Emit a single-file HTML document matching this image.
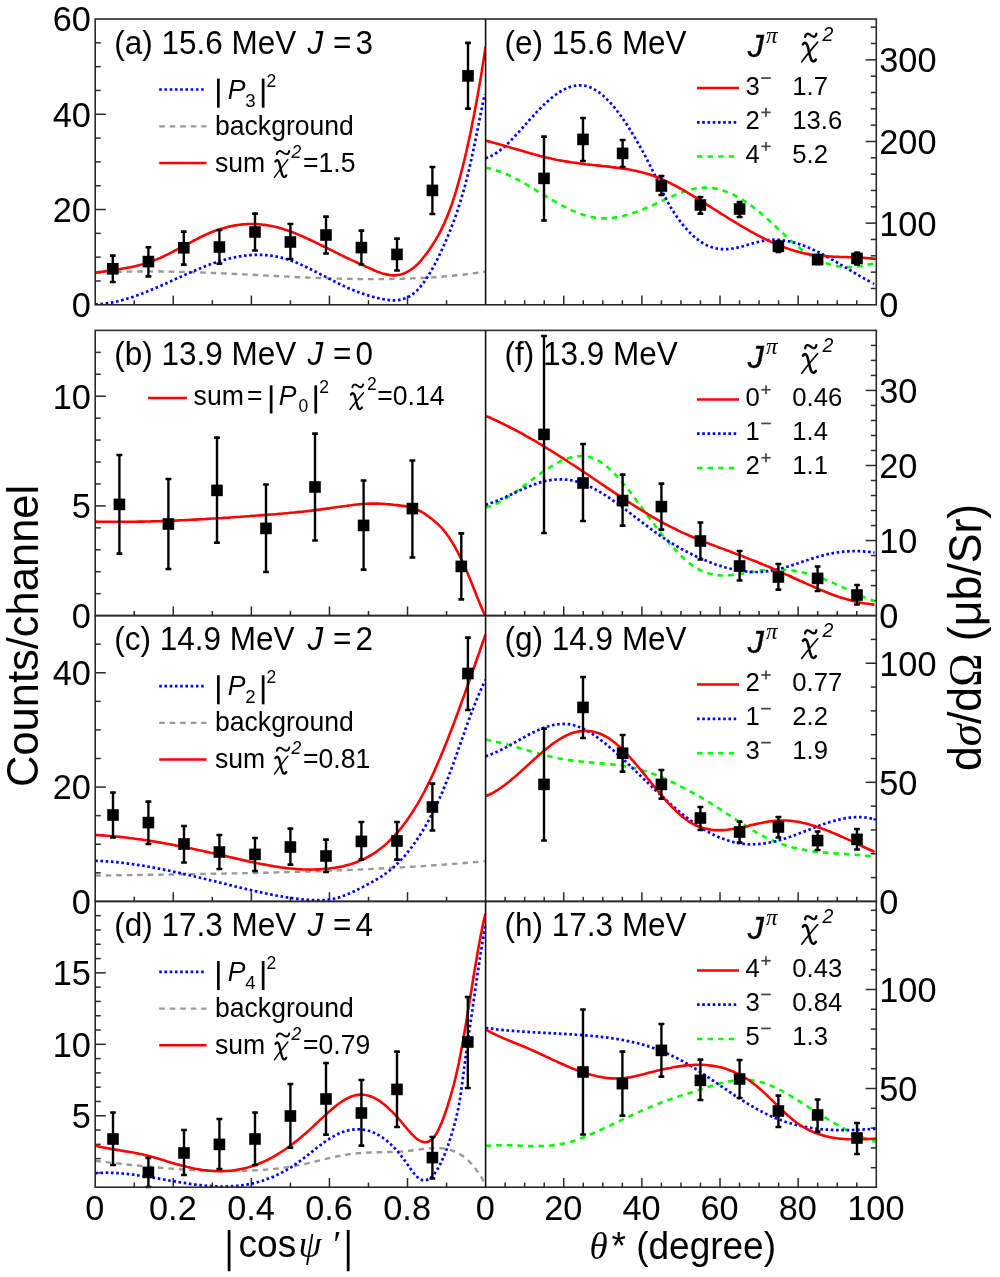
<!DOCTYPE html><html><head><meta charset="utf-8"><style>html,body{margin:0;padding:0;background:#fff;}svg{display:block;will-change:transform;}</style></head><body><svg width="1000" height="1277" viewBox="0 0 1000 1277">
<rect width="1000" height="1277" fill="#fff"/>
<defs>
<clipPath id="cla"><rect x="95.2" y="19.0" width="390.40000000000003" height="285.8"/></clipPath>
<clipPath id="cra"><rect x="485.6" y="19.0" width="390.69999999999993" height="285.8"/></clipPath>
<clipPath id="clb"><rect x="95.2" y="330.4" width="390.40000000000003" height="285.20000000000005"/></clipPath>
<clipPath id="crb"><rect x="485.6" y="330.4" width="390.69999999999993" height="285.20000000000005"/></clipPath>
<clipPath id="clc"><rect x="95.2" y="615.6" width="390.40000000000003" height="285.79999999999995"/></clipPath>
<clipPath id="crc"><rect x="485.6" y="615.6" width="390.69999999999993" height="285.79999999999995"/></clipPath>
<clipPath id="cld"><rect x="95.2" y="901.4" width="390.40000000000003" height="285.80000000000007"/></clipPath>
<clipPath id="crd"><rect x="485.6" y="901.4" width="390.69999999999993" height="285.80000000000007"/></clipPath>
</defs>
<line x1="95.2" y1="280.98" x2="100.7" y2="280.98" stroke="#2a2a2a" stroke-width="1.5" />
<line x1="95.2" y1="257.17" x2="100.7" y2="257.17" stroke="#2a2a2a" stroke-width="1.5" />
<line x1="95.2" y1="233.35" x2="100.7" y2="233.35" stroke="#2a2a2a" stroke-width="1.5" />
<line x1="95.2" y1="209.53" x2="105.8" y2="209.53" stroke="#2a2a2a" stroke-width="1.5" />
<line x1="95.2" y1="185.72" x2="100.7" y2="185.72" stroke="#2a2a2a" stroke-width="1.5" />
<line x1="95.2" y1="161.9" x2="100.7" y2="161.9" stroke="#2a2a2a" stroke-width="1.5" />
<line x1="95.2" y1="138.08" x2="100.7" y2="138.08" stroke="#2a2a2a" stroke-width="1.5" />
<line x1="95.2" y1="114.27" x2="105.8" y2="114.27" stroke="#2a2a2a" stroke-width="1.5" />
<line x1="95.2" y1="90.45" x2="100.7" y2="90.45" stroke="#2a2a2a" stroke-width="1.5" />
<line x1="95.2" y1="66.63" x2="100.7" y2="66.63" stroke="#2a2a2a" stroke-width="1.5" />
<line x1="95.2" y1="42.82" x2="100.7" y2="42.82" stroke="#2a2a2a" stroke-width="1.5" />
<text transform="translate(90.8,317.2) scale(1,1.03)" text-anchor="end" style='font-family:"Liberation Sans", sans-serif;font-size:34.3px;' >0</text>
<text transform="translate(90.8,221.93) scale(1,1.03)" text-anchor="end" style='font-family:"Liberation Sans", sans-serif;font-size:34.3px;' >20</text>
<text transform="translate(90.8,126.67) scale(1,1.03)" text-anchor="end" style='font-family:"Liberation Sans", sans-serif;font-size:34.3px;' >40</text>
<text transform="translate(90.8,31.4) scale(1,1.03)" text-anchor="end" style='font-family:"Liberation Sans", sans-serif;font-size:34.3px;' >60</text>
<line x1="95.2" y1="593.66" x2="100.7" y2="593.66" stroke="#2a2a2a" stroke-width="1.5" />
<line x1="95.2" y1="571.72" x2="100.7" y2="571.72" stroke="#2a2a2a" stroke-width="1.5" />
<line x1="95.2" y1="549.78" x2="100.7" y2="549.78" stroke="#2a2a2a" stroke-width="1.5" />
<line x1="95.2" y1="527.85" x2="100.7" y2="527.85" stroke="#2a2a2a" stroke-width="1.5" />
<line x1="95.2" y1="505.91" x2="105.8" y2="505.91" stroke="#2a2a2a" stroke-width="1.5" />
<line x1="95.2" y1="483.97" x2="100.7" y2="483.97" stroke="#2a2a2a" stroke-width="1.5" />
<line x1="95.2" y1="462.03" x2="100.7" y2="462.03" stroke="#2a2a2a" stroke-width="1.5" />
<line x1="95.2" y1="440.09" x2="100.7" y2="440.09" stroke="#2a2a2a" stroke-width="1.5" />
<line x1="95.2" y1="418.15" x2="100.7" y2="418.15" stroke="#2a2a2a" stroke-width="1.5" />
<line x1="95.2" y1="396.22" x2="105.8" y2="396.22" stroke="#2a2a2a" stroke-width="1.5" />
<line x1="95.2" y1="374.28" x2="100.7" y2="374.28" stroke="#2a2a2a" stroke-width="1.5" />
<line x1="95.2" y1="352.34" x2="100.7" y2="352.34" stroke="#2a2a2a" stroke-width="1.5" />
<text transform="translate(90.8,628) scale(1,1.03)" text-anchor="end" style='font-family:"Liberation Sans", sans-serif;font-size:34.3px;' >0</text>
<text transform="translate(90.8,518.31) scale(1,1.03)" text-anchor="end" style='font-family:"Liberation Sans", sans-serif;font-size:34.3px;' >5</text>
<text transform="translate(90.8,408.62) scale(1,1.03)" text-anchor="end" style='font-family:"Liberation Sans", sans-serif;font-size:34.3px;' >10</text>
<line x1="95.2" y1="872.82" x2="100.7" y2="872.82" stroke="#2a2a2a" stroke-width="1.5" />
<line x1="95.2" y1="844.24" x2="100.7" y2="844.24" stroke="#2a2a2a" stroke-width="1.5" />
<line x1="95.2" y1="815.66" x2="100.7" y2="815.66" stroke="#2a2a2a" stroke-width="1.5" />
<line x1="95.2" y1="787.08" x2="105.8" y2="787.08" stroke="#2a2a2a" stroke-width="1.5" />
<line x1="95.2" y1="758.5" x2="100.7" y2="758.5" stroke="#2a2a2a" stroke-width="1.5" />
<line x1="95.2" y1="729.92" x2="100.7" y2="729.92" stroke="#2a2a2a" stroke-width="1.5" />
<line x1="95.2" y1="701.34" x2="100.7" y2="701.34" stroke="#2a2a2a" stroke-width="1.5" />
<line x1="95.2" y1="672.76" x2="105.8" y2="672.76" stroke="#2a2a2a" stroke-width="1.5" />
<line x1="95.2" y1="644.18" x2="100.7" y2="644.18" stroke="#2a2a2a" stroke-width="1.5" />
<text transform="translate(90.8,913.8) scale(1,1.03)" text-anchor="end" style='font-family:"Liberation Sans", sans-serif;font-size:34.3px;' >0</text>
<text transform="translate(90.8,799.48) scale(1,1.03)" text-anchor="end" style='font-family:"Liberation Sans", sans-serif;font-size:34.3px;' >20</text>
<text transform="translate(90.8,685.16) scale(1,1.03)" text-anchor="end" style='font-family:"Liberation Sans", sans-serif;font-size:34.3px;' >40</text>
<line x1="95.2" y1="1172.91" x2="100.7" y2="1172.91" stroke="#2a2a2a" stroke-width="1.5" />
<line x1="95.2" y1="1158.62" x2="100.7" y2="1158.62" stroke="#2a2a2a" stroke-width="1.5" />
<line x1="95.2" y1="1144.33" x2="100.7" y2="1144.33" stroke="#2a2a2a" stroke-width="1.5" />
<line x1="95.2" y1="1130.04" x2="100.7" y2="1130.04" stroke="#2a2a2a" stroke-width="1.5" />
<line x1="95.2" y1="1115.75" x2="105.8" y2="1115.75" stroke="#2a2a2a" stroke-width="1.5" />
<line x1="95.2" y1="1101.46" x2="100.7" y2="1101.46" stroke="#2a2a2a" stroke-width="1.5" />
<line x1="95.2" y1="1087.17" x2="100.7" y2="1087.17" stroke="#2a2a2a" stroke-width="1.5" />
<line x1="95.2" y1="1072.88" x2="100.7" y2="1072.88" stroke="#2a2a2a" stroke-width="1.5" />
<line x1="95.2" y1="1058.59" x2="100.7" y2="1058.59" stroke="#2a2a2a" stroke-width="1.5" />
<line x1="95.2" y1="1044.3" x2="105.8" y2="1044.3" stroke="#2a2a2a" stroke-width="1.5" />
<line x1="95.2" y1="1030.01" x2="100.7" y2="1030.01" stroke="#2a2a2a" stroke-width="1.5" />
<line x1="95.2" y1="1015.72" x2="100.7" y2="1015.72" stroke="#2a2a2a" stroke-width="1.5" />
<line x1="95.2" y1="1001.43" x2="100.7" y2="1001.43" stroke="#2a2a2a" stroke-width="1.5" />
<line x1="95.2" y1="987.14" x2="100.7" y2="987.14" stroke="#2a2a2a" stroke-width="1.5" />
<line x1="95.2" y1="972.85" x2="105.8" y2="972.85" stroke="#2a2a2a" stroke-width="1.5" />
<line x1="95.2" y1="958.56" x2="100.7" y2="958.56" stroke="#2a2a2a" stroke-width="1.5" />
<line x1="95.2" y1="944.27" x2="100.7" y2="944.27" stroke="#2a2a2a" stroke-width="1.5" />
<line x1="95.2" y1="929.98" x2="100.7" y2="929.98" stroke="#2a2a2a" stroke-width="1.5" />
<line x1="95.2" y1="915.69" x2="100.7" y2="915.69" stroke="#2a2a2a" stroke-width="1.5" />
<text transform="translate(90.8,1128.15) scale(1,1.03)" text-anchor="end" style='font-family:"Liberation Sans", sans-serif;font-size:34.3px;' >5</text>
<text transform="translate(90.8,1056.7) scale(1,1.03)" text-anchor="end" style='font-family:"Liberation Sans", sans-serif;font-size:34.3px;' >10</text>
<text transform="translate(90.8,985.25) scale(1,1.03)" text-anchor="end" style='font-family:"Liberation Sans", sans-serif;font-size:34.3px;' >15</text>
<line x1="876.3" y1="288.47" x2="870.8" y2="288.47" stroke="#2a2a2a" stroke-width="1.5" />
<line x1="876.3" y1="272.14" x2="870.8" y2="272.14" stroke="#2a2a2a" stroke-width="1.5" />
<line x1="876.3" y1="255.81" x2="870.8" y2="255.81" stroke="#2a2a2a" stroke-width="1.5" />
<line x1="876.3" y1="239.47" x2="870.8" y2="239.47" stroke="#2a2a2a" stroke-width="1.5" />
<line x1="876.3" y1="223.14" x2="865.7" y2="223.14" stroke="#2a2a2a" stroke-width="1.5" />
<line x1="876.3" y1="206.81" x2="870.8" y2="206.81" stroke="#2a2a2a" stroke-width="1.5" />
<line x1="876.3" y1="190.48" x2="870.8" y2="190.48" stroke="#2a2a2a" stroke-width="1.5" />
<line x1="876.3" y1="174.15" x2="870.8" y2="174.15" stroke="#2a2a2a" stroke-width="1.5" />
<line x1="876.3" y1="157.82" x2="870.8" y2="157.82" stroke="#2a2a2a" stroke-width="1.5" />
<line x1="876.3" y1="141.49" x2="865.7" y2="141.49" stroke="#2a2a2a" stroke-width="1.5" />
<line x1="876.3" y1="125.15" x2="870.8" y2="125.15" stroke="#2a2a2a" stroke-width="1.5" />
<line x1="876.3" y1="108.82" x2="870.8" y2="108.82" stroke="#2a2a2a" stroke-width="1.5" />
<line x1="876.3" y1="92.49" x2="870.8" y2="92.49" stroke="#2a2a2a" stroke-width="1.5" />
<line x1="876.3" y1="76.16" x2="870.8" y2="76.16" stroke="#2a2a2a" stroke-width="1.5" />
<line x1="876.3" y1="59.83" x2="865.7" y2="59.83" stroke="#2a2a2a" stroke-width="1.5" />
<line x1="876.3" y1="43.5" x2="870.8" y2="43.5" stroke="#2a2a2a" stroke-width="1.5" />
<line x1="876.3" y1="27.17" x2="870.8" y2="27.17" stroke="#2a2a2a" stroke-width="1.5" />
<text transform="translate(879.3,317.2) scale(1,1.03)" text-anchor="start" style='font-family:"Liberation Sans", sans-serif;font-size:34.3px;' >0</text>
<text transform="translate(879.3,235.54) scale(1,1.03)" text-anchor="start" style='font-family:"Liberation Sans", sans-serif;font-size:34.3px;' >100</text>
<text transform="translate(879.3,153.89) scale(1,1.03)" text-anchor="start" style='font-family:"Liberation Sans", sans-serif;font-size:34.3px;' >200</text>
<text transform="translate(879.3,72.23) scale(1,1.03)" text-anchor="start" style='font-family:"Liberation Sans", sans-serif;font-size:34.3px;' >300</text>
<line x1="876.3" y1="600.59" x2="870.8" y2="600.59" stroke="#2a2a2a" stroke-width="1.5" />
<line x1="876.3" y1="585.58" x2="870.8" y2="585.58" stroke="#2a2a2a" stroke-width="1.5" />
<line x1="876.3" y1="570.57" x2="870.8" y2="570.57" stroke="#2a2a2a" stroke-width="1.5" />
<line x1="876.3" y1="555.56" x2="870.8" y2="555.56" stroke="#2a2a2a" stroke-width="1.5" />
<line x1="876.3" y1="540.55" x2="865.7" y2="540.55" stroke="#2a2a2a" stroke-width="1.5" />
<line x1="876.3" y1="525.54" x2="870.8" y2="525.54" stroke="#2a2a2a" stroke-width="1.5" />
<line x1="876.3" y1="510.53" x2="870.8" y2="510.53" stroke="#2a2a2a" stroke-width="1.5" />
<line x1="876.3" y1="495.52" x2="870.8" y2="495.52" stroke="#2a2a2a" stroke-width="1.5" />
<line x1="876.3" y1="480.51" x2="870.8" y2="480.51" stroke="#2a2a2a" stroke-width="1.5" />
<line x1="876.3" y1="465.49" x2="865.7" y2="465.49" stroke="#2a2a2a" stroke-width="1.5" />
<line x1="876.3" y1="450.48" x2="870.8" y2="450.48" stroke="#2a2a2a" stroke-width="1.5" />
<line x1="876.3" y1="435.47" x2="870.8" y2="435.47" stroke="#2a2a2a" stroke-width="1.5" />
<line x1="876.3" y1="420.46" x2="870.8" y2="420.46" stroke="#2a2a2a" stroke-width="1.5" />
<line x1="876.3" y1="405.45" x2="870.8" y2="405.45" stroke="#2a2a2a" stroke-width="1.5" />
<line x1="876.3" y1="390.44" x2="865.7" y2="390.44" stroke="#2a2a2a" stroke-width="1.5" />
<line x1="876.3" y1="375.43" x2="870.8" y2="375.43" stroke="#2a2a2a" stroke-width="1.5" />
<line x1="876.3" y1="360.42" x2="870.8" y2="360.42" stroke="#2a2a2a" stroke-width="1.5" />
<line x1="876.3" y1="345.41" x2="870.8" y2="345.41" stroke="#2a2a2a" stroke-width="1.5" />
<text transform="translate(879.3,628) scale(1,1.03)" text-anchor="start" style='font-family:"Liberation Sans", sans-serif;font-size:34.3px;' >0</text>
<text transform="translate(879.3,552.95) scale(1,1.03)" text-anchor="start" style='font-family:"Liberation Sans", sans-serif;font-size:34.3px;' >10</text>
<text transform="translate(879.3,477.89) scale(1,1.03)" text-anchor="start" style='font-family:"Liberation Sans", sans-serif;font-size:34.3px;' >20</text>
<text transform="translate(879.3,402.84) scale(1,1.03)" text-anchor="start" style='font-family:"Liberation Sans", sans-serif;font-size:34.3px;' >30</text>
<line x1="876.3" y1="877.58" x2="870.8" y2="877.58" stroke="#2a2a2a" stroke-width="1.5" />
<line x1="876.3" y1="853.77" x2="870.8" y2="853.77" stroke="#2a2a2a" stroke-width="1.5" />
<line x1="876.3" y1="829.95" x2="870.8" y2="829.95" stroke="#2a2a2a" stroke-width="1.5" />
<line x1="876.3" y1="806.13" x2="870.8" y2="806.13" stroke="#2a2a2a" stroke-width="1.5" />
<line x1="876.3" y1="782.32" x2="865.7" y2="782.32" stroke="#2a2a2a" stroke-width="1.5" />
<line x1="876.3" y1="758.5" x2="870.8" y2="758.5" stroke="#2a2a2a" stroke-width="1.5" />
<line x1="876.3" y1="734.68" x2="870.8" y2="734.68" stroke="#2a2a2a" stroke-width="1.5" />
<line x1="876.3" y1="710.87" x2="870.8" y2="710.87" stroke="#2a2a2a" stroke-width="1.5" />
<line x1="876.3" y1="687.05" x2="870.8" y2="687.05" stroke="#2a2a2a" stroke-width="1.5" />
<line x1="876.3" y1="663.23" x2="865.7" y2="663.23" stroke="#2a2a2a" stroke-width="1.5" />
<line x1="876.3" y1="639.42" x2="870.8" y2="639.42" stroke="#2a2a2a" stroke-width="1.5" />
<text transform="translate(879.3,913.8) scale(1,1.03)" text-anchor="start" style='font-family:"Liberation Sans", sans-serif;font-size:34.3px;' >0</text>
<text transform="translate(879.3,794.72) scale(1,1.03)" text-anchor="start" style='font-family:"Liberation Sans", sans-serif;font-size:34.3px;' >50</text>
<text transform="translate(879.3,675.63) scale(1,1.03)" text-anchor="start" style='font-family:"Liberation Sans", sans-serif;font-size:34.3px;' >100</text>
<line x1="876.3" y1="1167.7" x2="870.8" y2="1167.7" stroke="#2a2a2a" stroke-width="1.5" />
<line x1="876.3" y1="1147.9" x2="870.8" y2="1147.9" stroke="#2a2a2a" stroke-width="1.5" />
<line x1="876.3" y1="1128.1" x2="870.8" y2="1128.1" stroke="#2a2a2a" stroke-width="1.5" />
<line x1="876.3" y1="1108.3" x2="870.8" y2="1108.3" stroke="#2a2a2a" stroke-width="1.5" />
<line x1="876.3" y1="1088.5" x2="865.7" y2="1088.5" stroke="#2a2a2a" stroke-width="1.5" />
<line x1="876.3" y1="1068.7" x2="870.8" y2="1068.7" stroke="#2a2a2a" stroke-width="1.5" />
<line x1="876.3" y1="1048.9" x2="870.8" y2="1048.9" stroke="#2a2a2a" stroke-width="1.5" />
<line x1="876.3" y1="1029.1" x2="870.8" y2="1029.1" stroke="#2a2a2a" stroke-width="1.5" />
<line x1="876.3" y1="1009.3" x2="870.8" y2="1009.3" stroke="#2a2a2a" stroke-width="1.5" />
<line x1="876.3" y1="989.5" x2="865.7" y2="989.5" stroke="#2a2a2a" stroke-width="1.5" />
<line x1="876.3" y1="969.7" x2="870.8" y2="969.7" stroke="#2a2a2a" stroke-width="1.5" />
<line x1="876.3" y1="949.9" x2="870.8" y2="949.9" stroke="#2a2a2a" stroke-width="1.5" />
<line x1="876.3" y1="930.1" x2="870.8" y2="930.1" stroke="#2a2a2a" stroke-width="1.5" />
<line x1="876.3" y1="910.3" x2="870.8" y2="910.3" stroke="#2a2a2a" stroke-width="1.5" />
<text transform="translate(879.3,1100.9) scale(1,1.03)" text-anchor="start" style='font-family:"Liberation Sans", sans-serif;font-size:34.3px;' >50</text>
<text transform="translate(879.3,1001.9) scale(1,1.03)" text-anchor="start" style='font-family:"Liberation Sans", sans-serif;font-size:34.3px;' >100</text>
<line x1="134.24" y1="304.8" x2="134.24" y2="300.2" stroke="#2a2a2a" stroke-width="1.5" />
<line x1="173.28" y1="304.8" x2="173.28" y2="295.6" stroke="#2a2a2a" stroke-width="1.5" />
<line x1="212.32" y1="304.8" x2="212.32" y2="300.2" stroke="#2a2a2a" stroke-width="1.5" />
<line x1="251.36" y1="304.8" x2="251.36" y2="295.6" stroke="#2a2a2a" stroke-width="1.5" />
<line x1="290.4" y1="304.8" x2="290.4" y2="300.2" stroke="#2a2a2a" stroke-width="1.5" />
<line x1="329.44" y1="304.8" x2="329.44" y2="295.6" stroke="#2a2a2a" stroke-width="1.5" />
<line x1="368.48" y1="304.8" x2="368.48" y2="300.2" stroke="#2a2a2a" stroke-width="1.5" />
<line x1="407.52" y1="304.8" x2="407.52" y2="295.6" stroke="#2a2a2a" stroke-width="1.5" />
<line x1="446.56" y1="304.8" x2="446.56" y2="300.2" stroke="#2a2a2a" stroke-width="1.5" />
<line x1="505.13" y1="304.8" x2="505.13" y2="300.2" stroke="#2a2a2a" stroke-width="1.5" />
<line x1="524.67" y1="304.8" x2="524.67" y2="300.2" stroke="#2a2a2a" stroke-width="1.5" />
<line x1="544.21" y1="304.8" x2="544.21" y2="300.2" stroke="#2a2a2a" stroke-width="1.5" />
<line x1="563.74" y1="304.8" x2="563.74" y2="295.6" stroke="#2a2a2a" stroke-width="1.5" />
<line x1="583.27" y1="304.8" x2="583.27" y2="300.2" stroke="#2a2a2a" stroke-width="1.5" />
<line x1="602.81" y1="304.8" x2="602.81" y2="300.2" stroke="#2a2a2a" stroke-width="1.5" />
<line x1="622.35" y1="304.8" x2="622.35" y2="300.2" stroke="#2a2a2a" stroke-width="1.5" />
<line x1="641.88" y1="304.8" x2="641.88" y2="295.6" stroke="#2a2a2a" stroke-width="1.5" />
<line x1="661.41" y1="304.8" x2="661.41" y2="300.2" stroke="#2a2a2a" stroke-width="1.5" />
<line x1="680.95" y1="304.8" x2="680.95" y2="300.2" stroke="#2a2a2a" stroke-width="1.5" />
<line x1="700.49" y1="304.8" x2="700.49" y2="300.2" stroke="#2a2a2a" stroke-width="1.5" />
<line x1="720.02" y1="304.8" x2="720.02" y2="295.6" stroke="#2a2a2a" stroke-width="1.5" />
<line x1="739.55" y1="304.8" x2="739.55" y2="300.2" stroke="#2a2a2a" stroke-width="1.5" />
<line x1="759.09" y1="304.8" x2="759.09" y2="300.2" stroke="#2a2a2a" stroke-width="1.5" />
<line x1="778.62" y1="304.8" x2="778.62" y2="300.2" stroke="#2a2a2a" stroke-width="1.5" />
<line x1="798.16" y1="304.8" x2="798.16" y2="295.6" stroke="#2a2a2a" stroke-width="1.5" />
<line x1="817.69" y1="304.8" x2="817.69" y2="300.2" stroke="#2a2a2a" stroke-width="1.5" />
<line x1="837.23" y1="304.8" x2="837.23" y2="300.2" stroke="#2a2a2a" stroke-width="1.5" />
<line x1="856.76" y1="304.8" x2="856.76" y2="300.2" stroke="#2a2a2a" stroke-width="1.5" />
<line x1="134.24" y1="615.6" x2="134.24" y2="611" stroke="#2a2a2a" stroke-width="1.5" />
<line x1="173.28" y1="615.6" x2="173.28" y2="606.4" stroke="#2a2a2a" stroke-width="1.5" />
<line x1="212.32" y1="615.6" x2="212.32" y2="611" stroke="#2a2a2a" stroke-width="1.5" />
<line x1="251.36" y1="615.6" x2="251.36" y2="606.4" stroke="#2a2a2a" stroke-width="1.5" />
<line x1="290.4" y1="615.6" x2="290.4" y2="611" stroke="#2a2a2a" stroke-width="1.5" />
<line x1="329.44" y1="615.6" x2="329.44" y2="606.4" stroke="#2a2a2a" stroke-width="1.5" />
<line x1="368.48" y1="615.6" x2="368.48" y2="611" stroke="#2a2a2a" stroke-width="1.5" />
<line x1="407.52" y1="615.6" x2="407.52" y2="606.4" stroke="#2a2a2a" stroke-width="1.5" />
<line x1="446.56" y1="615.6" x2="446.56" y2="611" stroke="#2a2a2a" stroke-width="1.5" />
<line x1="505.13" y1="615.6" x2="505.13" y2="611" stroke="#2a2a2a" stroke-width="1.5" />
<line x1="524.67" y1="615.6" x2="524.67" y2="611" stroke="#2a2a2a" stroke-width="1.5" />
<line x1="544.21" y1="615.6" x2="544.21" y2="611" stroke="#2a2a2a" stroke-width="1.5" />
<line x1="563.74" y1="615.6" x2="563.74" y2="606.4" stroke="#2a2a2a" stroke-width="1.5" />
<line x1="583.27" y1="615.6" x2="583.27" y2="611" stroke="#2a2a2a" stroke-width="1.5" />
<line x1="602.81" y1="615.6" x2="602.81" y2="611" stroke="#2a2a2a" stroke-width="1.5" />
<line x1="622.35" y1="615.6" x2="622.35" y2="611" stroke="#2a2a2a" stroke-width="1.5" />
<line x1="641.88" y1="615.6" x2="641.88" y2="606.4" stroke="#2a2a2a" stroke-width="1.5" />
<line x1="661.41" y1="615.6" x2="661.41" y2="611" stroke="#2a2a2a" stroke-width="1.5" />
<line x1="680.95" y1="615.6" x2="680.95" y2="611" stroke="#2a2a2a" stroke-width="1.5" />
<line x1="700.49" y1="615.6" x2="700.49" y2="611" stroke="#2a2a2a" stroke-width="1.5" />
<line x1="720.02" y1="615.6" x2="720.02" y2="606.4" stroke="#2a2a2a" stroke-width="1.5" />
<line x1="739.55" y1="615.6" x2="739.55" y2="611" stroke="#2a2a2a" stroke-width="1.5" />
<line x1="759.09" y1="615.6" x2="759.09" y2="611" stroke="#2a2a2a" stroke-width="1.5" />
<line x1="778.62" y1="615.6" x2="778.62" y2="611" stroke="#2a2a2a" stroke-width="1.5" />
<line x1="798.16" y1="615.6" x2="798.16" y2="606.4" stroke="#2a2a2a" stroke-width="1.5" />
<line x1="817.69" y1="615.6" x2="817.69" y2="611" stroke="#2a2a2a" stroke-width="1.5" />
<line x1="837.23" y1="615.6" x2="837.23" y2="611" stroke="#2a2a2a" stroke-width="1.5" />
<line x1="856.76" y1="615.6" x2="856.76" y2="611" stroke="#2a2a2a" stroke-width="1.5" />
<line x1="134.24" y1="901.4" x2="134.24" y2="896.8" stroke="#2a2a2a" stroke-width="1.5" />
<line x1="173.28" y1="901.4" x2="173.28" y2="892.2" stroke="#2a2a2a" stroke-width="1.5" />
<line x1="212.32" y1="901.4" x2="212.32" y2="896.8" stroke="#2a2a2a" stroke-width="1.5" />
<line x1="251.36" y1="901.4" x2="251.36" y2="892.2" stroke="#2a2a2a" stroke-width="1.5" />
<line x1="290.4" y1="901.4" x2="290.4" y2="896.8" stroke="#2a2a2a" stroke-width="1.5" />
<line x1="329.44" y1="901.4" x2="329.44" y2="892.2" stroke="#2a2a2a" stroke-width="1.5" />
<line x1="368.48" y1="901.4" x2="368.48" y2="896.8" stroke="#2a2a2a" stroke-width="1.5" />
<line x1="407.52" y1="901.4" x2="407.52" y2="892.2" stroke="#2a2a2a" stroke-width="1.5" />
<line x1="446.56" y1="901.4" x2="446.56" y2="896.8" stroke="#2a2a2a" stroke-width="1.5" />
<line x1="505.13" y1="901.4" x2="505.13" y2="896.8" stroke="#2a2a2a" stroke-width="1.5" />
<line x1="524.67" y1="901.4" x2="524.67" y2="896.8" stroke="#2a2a2a" stroke-width="1.5" />
<line x1="544.21" y1="901.4" x2="544.21" y2="896.8" stroke="#2a2a2a" stroke-width="1.5" />
<line x1="563.74" y1="901.4" x2="563.74" y2="892.2" stroke="#2a2a2a" stroke-width="1.5" />
<line x1="583.27" y1="901.4" x2="583.27" y2="896.8" stroke="#2a2a2a" stroke-width="1.5" />
<line x1="602.81" y1="901.4" x2="602.81" y2="896.8" stroke="#2a2a2a" stroke-width="1.5" />
<line x1="622.35" y1="901.4" x2="622.35" y2="896.8" stroke="#2a2a2a" stroke-width="1.5" />
<line x1="641.88" y1="901.4" x2="641.88" y2="892.2" stroke="#2a2a2a" stroke-width="1.5" />
<line x1="661.41" y1="901.4" x2="661.41" y2="896.8" stroke="#2a2a2a" stroke-width="1.5" />
<line x1="680.95" y1="901.4" x2="680.95" y2="896.8" stroke="#2a2a2a" stroke-width="1.5" />
<line x1="700.49" y1="901.4" x2="700.49" y2="896.8" stroke="#2a2a2a" stroke-width="1.5" />
<line x1="720.02" y1="901.4" x2="720.02" y2="892.2" stroke="#2a2a2a" stroke-width="1.5" />
<line x1="739.55" y1="901.4" x2="739.55" y2="896.8" stroke="#2a2a2a" stroke-width="1.5" />
<line x1="759.09" y1="901.4" x2="759.09" y2="896.8" stroke="#2a2a2a" stroke-width="1.5" />
<line x1="778.62" y1="901.4" x2="778.62" y2="896.8" stroke="#2a2a2a" stroke-width="1.5" />
<line x1="798.16" y1="901.4" x2="798.16" y2="892.2" stroke="#2a2a2a" stroke-width="1.5" />
<line x1="817.69" y1="901.4" x2="817.69" y2="896.8" stroke="#2a2a2a" stroke-width="1.5" />
<line x1="837.23" y1="901.4" x2="837.23" y2="896.8" stroke="#2a2a2a" stroke-width="1.5" />
<line x1="856.76" y1="901.4" x2="856.76" y2="896.8" stroke="#2a2a2a" stroke-width="1.5" />
<line x1="134.24" y1="1187.2" x2="134.24" y2="1182.6" stroke="#2a2a2a" stroke-width="1.5" />
<line x1="173.28" y1="1187.2" x2="173.28" y2="1178" stroke="#2a2a2a" stroke-width="1.5" />
<line x1="212.32" y1="1187.2" x2="212.32" y2="1182.6" stroke="#2a2a2a" stroke-width="1.5" />
<line x1="251.36" y1="1187.2" x2="251.36" y2="1178" stroke="#2a2a2a" stroke-width="1.5" />
<line x1="290.4" y1="1187.2" x2="290.4" y2="1182.6" stroke="#2a2a2a" stroke-width="1.5" />
<line x1="329.44" y1="1187.2" x2="329.44" y2="1178" stroke="#2a2a2a" stroke-width="1.5" />
<line x1="368.48" y1="1187.2" x2="368.48" y2="1182.6" stroke="#2a2a2a" stroke-width="1.5" />
<line x1="407.52" y1="1187.2" x2="407.52" y2="1178" stroke="#2a2a2a" stroke-width="1.5" />
<line x1="446.56" y1="1187.2" x2="446.56" y2="1182.6" stroke="#2a2a2a" stroke-width="1.5" />
<line x1="505.13" y1="1187.2" x2="505.13" y2="1182.6" stroke="#2a2a2a" stroke-width="1.5" />
<line x1="524.67" y1="1187.2" x2="524.67" y2="1182.6" stroke="#2a2a2a" stroke-width="1.5" />
<line x1="544.21" y1="1187.2" x2="544.21" y2="1182.6" stroke="#2a2a2a" stroke-width="1.5" />
<line x1="563.74" y1="1187.2" x2="563.74" y2="1178" stroke="#2a2a2a" stroke-width="1.5" />
<line x1="583.27" y1="1187.2" x2="583.27" y2="1182.6" stroke="#2a2a2a" stroke-width="1.5" />
<line x1="602.81" y1="1187.2" x2="602.81" y2="1182.6" stroke="#2a2a2a" stroke-width="1.5" />
<line x1="622.35" y1="1187.2" x2="622.35" y2="1182.6" stroke="#2a2a2a" stroke-width="1.5" />
<line x1="641.88" y1="1187.2" x2="641.88" y2="1178" stroke="#2a2a2a" stroke-width="1.5" />
<line x1="661.41" y1="1187.2" x2="661.41" y2="1182.6" stroke="#2a2a2a" stroke-width="1.5" />
<line x1="680.95" y1="1187.2" x2="680.95" y2="1182.6" stroke="#2a2a2a" stroke-width="1.5" />
<line x1="700.49" y1="1187.2" x2="700.49" y2="1182.6" stroke="#2a2a2a" stroke-width="1.5" />
<line x1="720.02" y1="1187.2" x2="720.02" y2="1178" stroke="#2a2a2a" stroke-width="1.5" />
<line x1="739.55" y1="1187.2" x2="739.55" y2="1182.6" stroke="#2a2a2a" stroke-width="1.5" />
<line x1="759.09" y1="1187.2" x2="759.09" y2="1182.6" stroke="#2a2a2a" stroke-width="1.5" />
<line x1="778.62" y1="1187.2" x2="778.62" y2="1182.6" stroke="#2a2a2a" stroke-width="1.5" />
<line x1="798.16" y1="1187.2" x2="798.16" y2="1178" stroke="#2a2a2a" stroke-width="1.5" />
<line x1="817.69" y1="1187.2" x2="817.69" y2="1182.6" stroke="#2a2a2a" stroke-width="1.5" />
<line x1="837.23" y1="1187.2" x2="837.23" y2="1182.6" stroke="#2a2a2a" stroke-width="1.5" />
<line x1="856.76" y1="1187.2" x2="856.76" y2="1182.6" stroke="#2a2a2a" stroke-width="1.5" />
<text transform="translate(94.8,1220.3) scale(1,1.03)" text-anchor="middle" style='font-family:"Liberation Sans", sans-serif;font-size:34.3px;' >0</text>
<text transform="translate(172.88,1220.3) scale(1,1.03)" text-anchor="middle" style='font-family:"Liberation Sans", sans-serif;font-size:34.3px;' >0.2</text>
<text transform="translate(250.96,1220.3) scale(1,1.03)" text-anchor="middle" style='font-family:"Liberation Sans", sans-serif;font-size:34.3px;' >0.4</text>
<text transform="translate(329.04,1220.3) scale(1,1.03)" text-anchor="middle" style='font-family:"Liberation Sans", sans-serif;font-size:34.3px;' >0.6</text>
<text transform="translate(407.12,1220.3) scale(1,1.03)" text-anchor="middle" style='font-family:"Liberation Sans", sans-serif;font-size:34.3px;' >0.8</text>
<text transform="translate(485.2,1220.3) scale(1,1.03)" text-anchor="middle" style='font-family:"Liberation Sans", sans-serif;font-size:34.3px;' >0</text>
<text transform="translate(563.34,1220.3) scale(1,1.03)" text-anchor="middle" style='font-family:"Liberation Sans", sans-serif;font-size:34.3px;' >20</text>
<text transform="translate(641.48,1220.3) scale(1,1.03)" text-anchor="middle" style='font-family:"Liberation Sans", sans-serif;font-size:34.3px;' >40</text>
<text transform="translate(719.62,1220.3) scale(1,1.03)" text-anchor="middle" style='font-family:"Liberation Sans", sans-serif;font-size:34.3px;' >60</text>
<text transform="translate(797.76,1220.3) scale(1,1.03)" text-anchor="middle" style='font-family:"Liberation Sans", sans-serif;font-size:34.3px;' >80</text>
<text transform="translate(875.9,1220.3) scale(1,1.03)" text-anchor="middle" style='font-family:"Liberation Sans", sans-serif;font-size:34.3px;' >100</text>
<rect x="227.7" y="1229.9" width="2.8" height="41.3" fill="#000"/>
<rect x="346.8" y="1229.9" width="2.8" height="41.3" fill="#000"/>
<text transform="translate(238.6,1256.5) scale(1,1.03)" text-anchor="start" style='font-family:"Liberation Sans", sans-serif;font-size:37px;' >cos</text>
<text transform="translate(298.5,1256.5) scale(1,1.03)" text-anchor="start" style='font-family:"Liberation Serif", serif;font-size:37px;font-style:italic' >ψ</text>
<text transform="translate(331,1256.5) scale(1,1.03)" text-anchor="start" style='font-family:"Liberation Serif", serif;font-size:37px;font-style:italic' >′</text>
<text transform="translate(589.5,1259.4) scale(1,1.03)" text-anchor="start" style='font-family:"Liberation Serif", serif;font-size:37px;font-style:italic' >θ</text>
<text transform="translate(611.5,1259.4) scale(1,1.03)" text-anchor="start" style='font-family:"Liberation Sans", sans-serif;font-size:37px;' >* (degree)</text>
<text transform='translate(38.0,787) rotate(-90) scale(1,1.02)' x='0' y='0' style='font-family:"Liberation Sans", sans-serif;font-size:43.5px'>Counts/channel</text>
<text transform='translate(980.6,771) rotate(-90) scale(1,1.02)' x='0' y='0' style='font-family:"Liberation Sans", sans-serif;font-size:44.7px'>d<tspan style="font-family:'Liberation Serif',serif;font-style:italic">σ</tspan>/d<tspan style="font-family:'Liberation Serif',serif">Ω</tspan> (μb/Sr)</text>
<path d="M95.2,273 C95.8,273 97.8,272.9 99.1,272.8 C100.4,272.7 101.7,272.6 103,272.6 C104.3,272.5 105.6,272.4 106.9,272.4 C108.2,272.3 109.5,272.3 110.8,272.2 C112.1,272.2 113.4,272.1 114.7,272.1 C116,272 117.3,272 118.6,271.9 C119.9,271.9 121.2,271.8 122.6,271.8 C123.9,271.8 125.2,271.7 126.5,271.7 C127.8,271.7 129.1,271.6 130.5,271.6 C131.8,271.6 133.1,271.6 134.4,271.6 C135.7,271.5 137.1,271.5 138.4,271.5 C139.7,271.5 141,271.5 142.4,271.5 C143.7,271.5 145,271.5 146.4,271.5 C147.7,271.4 149,271.4 150.4,271.4 C151.7,271.4 153,271.5 154.4,271.5 C155.7,271.5 157,271.5 158.3,271.5 C159.7,271.5 161,271.5 162.3,271.5 C163.7,271.5 165,271.5 166.3,271.6 C167.6,271.6 169,271.6 170.3,271.6 C171.6,271.7 172.9,271.7 174.2,271.7 C175.6,271.7 176.9,271.8 178.2,271.8 C179.5,271.8 180.8,271.9 182.2,271.9 C183.5,271.9 184.8,272 186.1,272 C187.4,272 188.7,272.1 190.1,272.1 C191.4,272.1 192.7,272.2 194,272.2 C195.3,272.3 196.6,272.3 197.9,272.4 C199.2,272.4 200.6,272.5 201.9,272.5 C203.2,272.6 204.5,272.6 205.8,272.7 C207.1,272.7 208.4,272.8 209.7,272.8 C211,272.9 212.3,272.9 213.6,273 C214.9,273 216.2,273.1 217.6,273.1 C218.9,273.2 220.2,273.2 221.5,273.3 C222.8,273.4 224.1,273.4 225.4,273.5 C226.7,273.5 228,273.6 229.3,273.7 C230.6,273.7 231.9,273.8 233.2,273.9 C234.5,273.9 235.8,274 237.1,274 C238.4,274.1 239.7,274.2 241,274.2 C242.3,274.3 243.6,274.4 244.9,274.4 C246.2,274.5 247.5,274.6 248.8,274.6 C250.1,274.7 251.4,274.8 252.7,274.8 C254,274.9 255.3,275 256.6,275 C257.9,275.1 259.2,275.2 260.5,275.2 C261.8,275.3 263.1,275.4 264.4,275.4 C265.7,275.5 267,275.6 268.3,275.6 C269.6,275.7 270.9,275.8 272.2,275.8 C273.5,275.9 274.8,276 276.1,276 C277.4,276.1 278.7,276.2 280,276.2 C281.3,276.3 282.6,276.3 283.9,276.4 C285.2,276.5 286.5,276.5 287.8,276.6 C289.1,276.7 290.4,276.7 291.7,276.8 C293,276.9 294.3,276.9 295.6,277 C296.9,277 298.2,277.1 299.5,277.2 C300.8,277.2 302.2,277.3 303.5,277.3 C304.8,277.4 306.1,277.4 307.4,277.5 C308.7,277.6 310,277.6 311.3,277.7 C312.6,277.7 313.9,277.8 315.2,277.8 C316.5,277.9 317.8,277.9 319.1,278 C320.4,278 321.7,278.1 323.1,278.1 C324.4,278.2 325.7,278.2 327,278.3 C328.3,278.3 329.6,278.4 330.9,278.4 C332.2,278.4 333.5,278.5 334.8,278.5 C336.2,278.6 337.5,278.6 338.8,278.6 C340.1,278.7 341.4,278.7 342.7,278.7 C344.1,278.8 345.4,278.8 346.7,278.8 C348,278.9 349.3,278.9 350.6,278.9 C352,278.9 353.3,279 354.6,279 C355.9,279 357.3,279 358.6,279 C359.9,279.1 361.2,279.1 362.5,279.1 C363.9,279.1 365.2,279.1 366.5,279.1 C367.9,279.1 369.2,279.1 370.5,279.1 C371.8,279.1 373.2,279.1 374.5,279.1 C375.8,279.1 377.2,279.1 378.5,279.1 C379.8,279.1 381.2,279.1 382.5,279.1 C383.8,279.1 385.2,279.1 386.5,279.1 C387.8,279.1 389.1,279 390.5,279 C391.8,279 393.1,279 394.4,278.9 C395.7,278.9 397.1,278.9 398.4,278.9 C399.7,278.8 401,278.8 402.3,278.8 C403.7,278.7 405,278.7 406.3,278.6 C407.6,278.6 408.9,278.5 410.2,278.5 C411.5,278.4 412.8,278.4 414.1,278.3 C415.5,278.3 416.8,278.2 418.1,278.2 C419.4,278.1 420.7,278 422,278 C423.3,277.9 424.6,277.8 425.9,277.7 C427.2,277.7 428.5,277.6 429.8,277.5 C431,277.4 432.3,277.3 433.6,277.3 C434.9,277.2 436.2,277.1 437.5,277 C438.8,276.9 440.1,276.8 441.4,276.7 C442.6,276.6 443.9,276.5 445.2,276.4 C446.5,276.3 447.8,276.1 449,276 C450.3,275.9 451.6,275.8 452.9,275.7 C454.1,275.5 455.4,275.4 456.7,275.3 C457.9,275.2 459.2,275 460.5,274.9 C461.7,274.7 463,274.6 464.3,274.5 C465.5,274.3 466.8,274.2 468.1,274 C469.3,273.9 470.6,273.7 471.8,273.5 C473.1,273.4 474.3,273.2 475.6,273.1 C476.8,272.9 478.1,272.7 479.3,272.5 C480.6,272.4 482,272.2 483.1,272 C484.1,271.8 485.2,271.7 485.6,271.6" stroke="#999999" stroke-width="2.4" fill="none" stroke-dasharray="5.6 4.9" clip-path="url(#cla)"/>
<path d="M95.2,304.4 C95.9,304.4 97.8,304.3 99.1,304.2 C100.4,304.1 101.7,304 103,303.9 C104.3,303.8 105.5,303.6 106.8,303.4 C108.1,303.2 109.3,303 110.5,302.8 C111.8,302.6 113,302.3 114.2,302.1 C115.4,301.8 116.6,301.6 117.8,301.3 C119,301 120.2,300.7 121.4,300.4 C122.6,300.1 123.8,299.7 124.9,299.4 C126.1,299.1 127.3,298.7 128.4,298.3 C129.6,298 130.7,297.6 131.9,297.2 C133,296.9 134.2,296.5 135.3,296.1 C136.4,295.7 137.6,295.2 138.7,294.8 C139.8,294.4 141,294 142.1,293.6 C143.2,293.1 144.3,292.7 145.4,292.2 C146.6,291.8 147.7,291.3 148.8,290.9 C149.9,290.4 151,290 152.1,289.5 C153.2,289 154.3,288.6 155.4,288.1 C156.5,287.6 157.6,287.1 158.7,286.7 C159.8,286.2 160.9,285.7 162,285.2 C163.1,284.7 164.2,284.2 165.2,283.8 C166.3,283.3 167.4,282.8 168.5,282.3 C169.6,281.8 170.7,281.3 171.8,280.8 C172.9,280.3 173.9,279.8 175,279.3 C176.1,278.8 177.2,278.3 178.3,277.8 C179.4,277.3 180.5,276.9 181.6,276.4 C182.6,275.9 183.7,275.4 184.8,274.9 C185.9,274.4 187,273.9 188.1,273.4 C189.2,273 190.3,272.5 191.4,272 C192.5,271.5 193.6,271.1 194.6,270.6 C195.7,270.1 196.8,269.7 197.9,269.2 C199.1,268.8 200.2,268.3 201.3,267.9 C202.4,267.4 203.5,267 204.6,266.5 C205.7,266.1 206.8,265.7 207.9,265.3 C209.1,264.8 210.2,264.4 211.3,264 C212.4,263.6 213.6,263.2 214.7,262.8 C215.8,262.4 217,262.1 218.1,261.7 C219.3,261.3 220.4,261 221.6,260.6 C222.7,260.3 223.9,260 225,259.6 C226.2,259.3 227.4,259 228.6,258.7 C229.7,258.4 230.9,258.1 232.1,257.9 C233.3,257.6 234.5,257.3 235.7,257.1 C236.9,256.9 238.1,256.6 239.3,256.4 C240.6,256.2 241.8,256 243,255.9 C244.3,255.7 245.5,255.6 246.8,255.4 C248,255.3 249.3,255.2 250.6,255.1 C251.9,255 253.1,254.9 254.4,254.9 C255.7,254.8 257.1,254.8 258.4,254.8 C259.7,254.8 261.1,254.9 262.4,254.9 C263.7,255 265,255.1 266.3,255.2 C267.6,255.3 268.9,255.4 270.1,255.6 C271.4,255.7 272.7,255.9 273.9,256.1 C275.1,256.3 276.4,256.5 277.6,256.8 C278.8,257 280,257.3 281.2,257.6 C282.4,257.9 283.6,258.2 284.8,258.6 C285.9,258.9 287.1,259.3 288.3,259.7 C289.4,260 290.6,260.4 291.7,260.8 C292.8,261.3 294,261.7 295.1,262.1 C296.2,262.6 297.3,263 298.4,263.5 C299.5,264 300.6,264.5 301.7,264.9 C302.8,265.4 303.9,265.9 305,266.4 C306.1,266.9 307.2,267.5 308.2,268 C309.3,268.5 310.4,269 311.5,269.6 C312.5,270.1 313.6,270.6 314.7,271.2 C315.7,271.7 316.8,272.3 317.9,272.8 C318.9,273.4 320,273.9 321,274.5 C322.1,275 323.1,275.6 324.2,276.1 C325.3,276.7 326.3,277.2 327.4,277.8 C328.4,278.3 329.5,278.9 330.5,279.4 C331.6,280 332.7,280.5 333.7,281.1 C334.8,281.6 335.8,282.1 336.9,282.7 C338,283.2 339,283.7 340.1,284.2 C341.2,284.8 342.3,285.3 343.3,285.8 C344.4,286.3 345.5,286.8 346.6,287.3 C347.6,287.8 348.7,288.3 349.8,288.7 C350.9,289.2 352,289.7 353.1,290.1 C354.2,290.6 355.3,291 356.4,291.4 C357.6,291.9 358.7,292.3 359.8,292.7 C360.9,293.1 362,293.5 363.2,293.9 C364.3,294.3 365.5,294.6 366.6,295 C367.7,295.4 368.9,295.7 370.1,296 C371.2,296.4 372.4,296.7 373.5,297 C374.7,297.3 375.9,297.6 377.1,297.9 C378.3,298.2 379.5,298.4 380.7,298.7 C381.9,298.9 383.1,299.2 384.3,299.4 C385.5,299.6 386.7,299.8 388,299.9 C389.2,300.1 390.5,300.2 391.7,300.3 C393,300.3 394.3,300.3 395.6,300.3 C396.9,300.2 398.3,300.1 399.5,299.9 C400.8,299.6 402,299.4 403.2,299 C404.4,298.6 405.6,298.2 406.7,297.7 C407.8,297.2 408.9,296.6 410,296 C411,295.4 412,294.7 413,293.9 C414,293.1 415,292.3 415.9,291.5 C416.9,290.6 417.8,289.7 418.7,288.7 C419.6,287.8 420.4,286.8 421.3,285.7 C422.1,284.7 422.9,283.6 423.7,282.5 C424.6,281.4 425.3,280.2 426.1,279.1 C426.9,277.9 427.7,276.7 428.4,275.5 C429.2,274.3 429.9,273.1 430.6,271.8 C431.3,270.6 432.1,269.3 432.8,268 C433.5,266.7 434.2,265.4 434.9,264.1 C435.6,262.8 436.2,261.5 436.9,260.1 C437.6,258.8 438.3,257.4 438.9,256 C439.6,254.7 440.2,253.3 440.9,251.9 C441.5,250.5 442.2,249.1 442.8,247.7 C443.5,246.3 444.1,244.9 444.7,243.5 C445.3,242 446,240.6 446.6,239.2 C447.2,237.7 447.8,236.2 448.4,234.8 C449,233.3 449.7,231.8 450.3,230.3 C450.9,228.8 451.4,227.3 452,225.8 C452.6,224.3 453.2,222.7 453.8,221.2 C454.3,219.6 454.9,218.1 455.5,216.5 C456,214.9 456.6,213.3 457.1,211.7 C457.7,210.1 458.2,208.5 458.7,206.8 C459.3,205.2 459.8,203.5 460.3,201.8 C460.8,200.2 461.3,198.5 461.8,196.8 C462.3,195.1 462.8,193.4 463.3,191.6 C463.8,189.9 464.3,188.2 464.8,186.4 C465.2,184.7 465.7,182.9 466.2,181.1 C466.6,179.3 467.1,177.5 467.5,175.7 C468,173.9 468.4,172.1 468.9,170.3 C469.3,168.4 469.7,166.6 470.1,164.7 C470.6,162.9 471,161 471.4,159.1 C471.8,157.3 472.2,155.4 472.6,153.5 C473,151.6 473.4,149.7 473.8,147.8 C474.2,145.9 474.6,144 475,142.1 C475.4,140.2 475.8,138.3 476.2,136.4 C476.6,134.5 476.9,132.6 477.3,130.7 C477.7,128.8 478.1,126.9 478.5,124.9 C478.8,123 479.2,121.1 479.6,119.2 C480,117.3 480.4,115.4 480.7,113.5 C481.1,111.6 481.5,109.7 481.9,107.8 C482.2,105.8 482.6,103.9 483,102 C483.4,100.1 483.9,97.7 484.2,96.4 C484.4,95.1 484.5,94.5 484.6,94.2" stroke="#0000ff" stroke-width="2.7" fill="none" stroke-dasharray="2.6 2.65" clip-path="url(#cla)"/>
<path d="M95.2,272.7 C95.8,272.6 97.7,272.3 98.9,272.1 C100.2,272 101.4,271.8 102.7,271.6 C103.9,271.4 105.1,271.3 106.4,271.1 C107.6,270.9 108.9,270.7 110.1,270.6 C111.4,270.4 112.6,270.2 113.9,270 C115.1,269.8 116.3,269.6 117.6,269.5 C118.8,269.3 120.1,269.1 121.3,268.9 C122.5,268.6 123.8,268.4 125,268.2 C126.2,268 127.4,267.8 128.7,267.5 C129.9,267.3 131.1,267 132.3,266.8 C133.5,266.5 134.7,266.3 135.9,266 C137.1,265.7 138.3,265.4 139.5,265.1 C140.7,264.8 141.9,264.5 143,264.1 C144.2,263.8 145.4,263.4 146.5,263.1 C147.7,262.7 148.8,262.3 150,261.9 C151.1,261.5 152.3,261.1 153.4,260.7 C154.5,260.3 155.7,259.8 156.8,259.4 C157.9,258.9 159,258.4 160.1,258 C161.2,257.5 162.3,257 163.4,256.5 C164.5,256 165.5,255.5 166.6,254.9 C167.7,254.4 168.8,253.9 169.8,253.3 C170.9,252.8 172,252.3 173,251.7 C174.1,251.2 175.1,250.6 176.2,250 C177.3,249.5 178.3,248.9 179.4,248.4 C180.4,247.8 181.5,247.2 182.5,246.7 C183.6,246.1 184.6,245.5 185.7,245 C186.7,244.4 187.8,243.8 188.8,243.3 C189.9,242.7 190.9,242.1 192,241.6 C193,241 194.1,240.5 195.1,239.9 C196.2,239.4 197.3,238.8 198.3,238.3 C199.4,237.8 200.4,237.2 201.5,236.7 C202.6,236.2 203.7,235.7 204.7,235.2 C205.8,234.7 206.9,234.2 208,233.7 C209.1,233.3 210.2,232.8 211.3,232.3 C212.4,231.9 213.5,231.5 214.6,231 C215.7,230.6 216.8,230.2 217.9,229.8 C219.1,229.5 220.2,229.1 221.4,228.7 C222.5,228.4 223.7,228 224.8,227.7 C226,227.4 227.2,227.1 228.4,226.8 C229.5,226.5 230.7,226.3 231.9,226 C233.1,225.8 234.3,225.6 235.6,225.4 C236.8,225.2 238,225 239.2,224.8 C240.5,224.7 241.7,224.5 243,224.4 C244.3,224.3 245.5,224.2 246.8,224.1 C248.1,224.1 249.4,224 250.7,224 C252,224 253.4,224 254.7,224 C256,224.1 257.4,224.1 258.7,224.2 C260,224.3 261.2,224.4 262.5,224.6 C263.8,224.7 265.1,224.9 266.3,225.1 C267.6,225.3 268.8,225.5 270,225.7 C271.3,225.9 272.5,226.2 273.7,226.5 C274.9,226.7 276.1,227 277.3,227.3 C278.5,227.6 279.7,228 280.8,228.3 C282,228.6 283.2,229 284.3,229.4 C285.5,229.8 286.6,230.1 287.8,230.5 C288.9,230.9 290,231.3 291.2,231.8 C292.3,232.2 293.4,232.6 294.5,233.1 C295.7,233.5 296.8,234 297.9,234.4 C299,234.9 300.1,235.3 301.2,235.8 C302.3,236.3 303.4,236.8 304.5,237.3 C305.6,237.8 306.7,238.3 307.7,238.8 C308.8,239.3 309.9,239.8 311,240.3 C312.1,240.8 313.2,241.3 314.2,241.8 C315.3,242.3 316.4,242.9 317.5,243.4 C318.5,243.9 319.6,244.4 320.7,245 C321.7,245.5 322.8,246 323.9,246.5 C325,247.1 326,247.6 327.1,248.1 C328.2,248.7 329.2,249.2 330.3,249.7 C331.4,250.3 332.4,250.8 333.5,251.3 C334.6,251.8 335.6,252.4 336.7,252.9 C337.8,253.4 338.8,253.9 339.9,254.5 C341,255 342.1,255.5 343.1,256 C344.2,256.5 345.3,257 346.4,257.6 C347.4,258.1 348.5,258.6 349.6,259.1 C350.7,259.6 351.7,260.1 352.8,260.6 C353.9,261.1 355,261.6 356.1,262.1 C357.1,262.6 358.2,263.1 359.3,263.6 C360.4,264.1 361.5,264.6 362.6,265.1 C363.7,265.6 364.7,266.1 365.8,266.6 C366.9,267.1 368,267.6 369.1,268 C370.2,268.5 371.3,269 372.4,269.5 C373.5,270 374.5,270.4 375.6,270.9 C376.7,271.3 377.8,271.8 379,272.2 C380.1,272.6 381.2,273 382.3,273.4 C383.5,273.7 384.6,274 385.8,274.3 C387,274.6 388.1,274.8 389.4,275 C390.6,275.2 391.8,275.3 393.1,275.4 C394.4,275.4 395.7,275.3 397,275.2 C398.3,275 399.6,274.8 400.8,274.5 C402,274.2 403.2,273.8 404.4,273.3 C405.5,272.8 406.6,272.3 407.7,271.7 C408.8,271.1 409.8,270.5 410.8,269.8 C411.8,269.1 412.8,268.4 413.8,267.6 C414.8,266.8 415.7,265.9 416.7,265.1 C417.6,264.2 418.5,263.3 419.4,262.3 C420.2,261.4 421.1,260.4 422,259.3 C422.8,258.3 423.6,257.3 424.5,256.2 C425.3,255.2 426.1,254.1 426.9,253 C427.7,251.9 428.5,250.8 429.3,249.7 C430.1,248.6 430.8,247.4 431.6,246.3 C432.4,245.1 433.1,243.9 433.9,242.7 C434.6,241.5 435.4,240.3 436.1,239 C436.8,237.8 437.6,236.5 438.3,235.3 C439,234 439.7,232.7 440.4,231.3 C441.1,230 441.7,228.6 442.4,227.2 C443.1,225.9 443.7,224.5 444.4,223 C445,221.6 445.6,220.1 446.3,218.7 C446.9,217.2 447.5,215.7 448.1,214.2 C448.7,212.7 449.3,211.1 449.8,209.6 C450.4,208 451,206.5 451.6,204.9 C452.1,203.3 452.7,201.7 453.2,200 C453.7,198.4 454.3,196.8 454.8,195.1 C455.3,193.4 455.8,191.8 456.3,190.1 C456.9,188.4 457.4,186.7 457.8,184.9 C458.3,183.2 458.8,181.5 459.3,179.7 C459.8,178 460.3,176.2 460.7,174.5 C461.2,172.7 461.6,170.9 462.1,169.1 C462.6,167.4 463,165.6 463.5,163.7 C463.9,161.9 464.3,160.1 464.8,158.3 C465.2,156.5 465.6,154.6 466.1,152.8 C466.5,151 466.9,149.1 467.3,147.2 C467.7,145.4 468.2,143.5 468.6,141.6 C469,139.8 469.4,137.9 469.8,136 C470.2,134.1 470.6,132.2 471,130.3 C471.4,128.4 471.8,126.5 472.1,124.6 C472.5,122.6 472.9,120.7 473.3,118.8 C473.7,116.8 474,114.9 474.4,113 C474.8,111 475.1,109.1 475.5,107.1 C475.9,105.1 476.2,103.2 476.6,101.2 C477,99.2 477.3,97.3 477.7,95.3 C478,93.3 478.4,91.3 478.7,89.3 C479.1,87.3 479.4,85.3 479.8,83.3 C480.1,81.3 480.4,79.3 480.8,77.3 C481.1,75.3 481.4,73.2 481.8,71.2 C482.1,69.2 482.4,67.2 482.8,65.1 C483.1,63.1 483.4,61 483.7,59 C484,57 484.4,54.9 484.7,52.9 C485,50.8 485.4,47.8 485.6,46.8" stroke="#ff0000" stroke-width="2.6" fill="none" stroke-linejoin="round" clip-path="url(#cla)"/>
<line x1="112.8" y1="255.6" x2="112.8" y2="282" stroke="#000" stroke-width="2.4"/>
<rect x="109.9" y="254.35" width="5.8" height="2.6" rx="0.5" fill="#000"/>
<rect x="109.9" y="280.75" width="5.8" height="2.6" rx="0.5" fill="#000"/>
<rect x="107" y="263" width="11.6" height="11.6" fill="#000"/>
<line x1="148.4" y1="247.2" x2="148.4" y2="276.3" stroke="#000" stroke-width="2.4"/>
<rect x="145.5" y="245.95" width="5.8" height="2.6" rx="0.5" fill="#000"/>
<rect x="145.5" y="275.05" width="5.8" height="2.6" rx="0.5" fill="#000"/>
<rect x="142.6" y="255.8" width="11.6" height="11.6" fill="#000"/>
<line x1="183.8" y1="231.6" x2="183.8" y2="264.6" stroke="#000" stroke-width="2.4"/>
<rect x="180.9" y="230.35" width="5.8" height="2.6" rx="0.5" fill="#000"/>
<rect x="180.9" y="263.35" width="5.8" height="2.6" rx="0.5" fill="#000"/>
<rect x="178" y="242" width="11.6" height="11.6" fill="#000"/>
<line x1="219.4" y1="230" x2="219.4" y2="263.6" stroke="#000" stroke-width="2.4"/>
<rect x="216.5" y="228.75" width="5.8" height="2.6" rx="0.5" fill="#000"/>
<rect x="216.5" y="262.35" width="5.8" height="2.6" rx="0.5" fill="#000"/>
<rect x="213.6" y="241.2" width="11.6" height="11.6" fill="#000"/>
<line x1="255" y1="213.6" x2="255" y2="250.4" stroke="#000" stroke-width="2.4"/>
<rect x="252.1" y="212.35" width="5.8" height="2.6" rx="0.5" fill="#000"/>
<rect x="252.1" y="249.15" width="5.8" height="2.6" rx="0.5" fill="#000"/>
<rect x="249.2" y="226.2" width="11.6" height="11.6" fill="#000"/>
<line x1="290.4" y1="224" x2="290.4" y2="259" stroke="#000" stroke-width="2.4"/>
<rect x="287.5" y="222.75" width="5.8" height="2.6" rx="0.5" fill="#000"/>
<rect x="287.5" y="257.75" width="5.8" height="2.6" rx="0.5" fill="#000"/>
<rect x="284.6" y="236.2" width="11.6" height="11.6" fill="#000"/>
<line x1="326" y1="216.6" x2="326" y2="253.4" stroke="#000" stroke-width="2.4"/>
<rect x="323.1" y="215.35" width="5.8" height="2.6" rx="0.5" fill="#000"/>
<rect x="323.1" y="252.15" width="5.8" height="2.6" rx="0.5" fill="#000"/>
<rect x="320.2" y="229.2" width="11.6" height="11.6" fill="#000"/>
<line x1="361.4" y1="230.6" x2="361.4" y2="264.4" stroke="#000" stroke-width="2.4"/>
<rect x="358.5" y="229.35" width="5.8" height="2.6" rx="0.5" fill="#000"/>
<rect x="358.5" y="263.15" width="5.8" height="2.6" rx="0.5" fill="#000"/>
<rect x="355.6" y="241.8" width="11.6" height="11.6" fill="#000"/>
<line x1="397" y1="238.6" x2="397" y2="270.4" stroke="#000" stroke-width="2.4"/>
<rect x="394.1" y="237.35" width="5.8" height="2.6" rx="0.5" fill="#000"/>
<rect x="394.1" y="269.15" width="5.8" height="2.6" rx="0.5" fill="#000"/>
<rect x="391.2" y="248.6" width="11.6" height="11.6" fill="#000"/>
<line x1="432.4" y1="167" x2="432.4" y2="214" stroke="#000" stroke-width="2.4"/>
<rect x="429.5" y="165.75" width="5.8" height="2.6" rx="0.5" fill="#000"/>
<rect x="429.5" y="212.75" width="5.8" height="2.6" rx="0.5" fill="#000"/>
<rect x="426.6" y="184.6" width="11.6" height="11.6" fill="#000"/>
<line x1="468" y1="42.8" x2="468" y2="108.6" stroke="#000" stroke-width="2.4"/>
<rect x="465.1" y="41.55" width="5.8" height="2.6" rx="0.5" fill="#000"/>
<rect x="465.1" y="107.35" width="5.8" height="2.6" rx="0.5" fill="#000"/>
<rect x="462.2" y="70.1" width="11.6" height="11.6" fill="#000"/>
<path d="M95.2,521.6 C95.9,521.6 97.8,521.6 99.2,521.7 C100.5,521.7 101.8,521.7 103.1,521.7 C104.4,521.7 105.8,521.8 107.1,521.8 C108.4,521.8 109.7,521.8 111.1,521.8 C112.4,521.8 113.7,521.8 115.1,521.8 C116.4,521.8 117.7,521.8 119.1,521.8 C120.4,521.8 121.7,521.8 123.1,521.8 C124.4,521.8 125.7,521.8 127,521.8 C128.4,521.8 129.7,521.8 131,521.8 C132.4,521.7 133.7,521.7 135,521.7 C136.3,521.7 137.7,521.7 139,521.6 C140.3,521.6 141.6,521.6 142.9,521.6 C144.3,521.5 145.6,521.5 146.9,521.5 C148.2,521.4 149.5,521.4 150.9,521.4 C152.2,521.3 153.5,521.3 154.8,521.3 C156.1,521.2 157.4,521.2 158.8,521.2 C160.1,521.1 161.4,521.1 162.7,521 C164,521 165.3,520.9 166.6,520.9 C167.9,520.8 169.2,520.8 170.5,520.7 C171.9,520.7 173.2,520.6 174.5,520.6 C175.8,520.5 177.1,520.5 178.4,520.4 C179.7,520.3 181,520.3 182.3,520.2 C183.6,520.2 184.9,520.1 186.2,520 C187.5,520 188.8,519.9 190.1,519.8 C191.4,519.8 192.7,519.7 194,519.6 C195.3,519.6 196.6,519.5 197.9,519.4 C199.2,519.4 200.5,519.3 201.8,519.2 C203.1,519.2 204.4,519.1 205.7,519 C207,518.9 208.3,518.9 209.6,518.8 C210.9,518.7 212.2,518.6 213.5,518.5 C214.8,518.5 216.1,518.4 217.4,518.3 C218.6,518.2 219.9,518.1 221.2,518.1 C222.5,518 223.8,517.9 225.1,517.8 C226.4,517.7 227.7,517.6 229,517.6 C230.3,517.5 231.6,517.4 232.9,517.3 C234.1,517.2 235.4,517.1 236.7,517 C238,516.9 239.3,516.8 240.6,516.8 C241.9,516.7 243.2,516.6 244.5,516.5 C245.7,516.4 247,516.3 248.3,516.2 C249.6,516.1 250.9,516 252.2,515.9 C253.5,515.8 254.8,515.7 256,515.7 C257.3,515.6 258.6,515.5 259.9,515.4 C261.2,515.3 262.5,515.2 263.8,515.1 C265,515 266.3,514.9 267.6,514.8 C268.9,514.7 270.2,514.6 271.5,514.5 C272.7,514.4 274,514.3 275.3,514.2 C276.6,514.1 277.9,514 279.2,513.9 C280.4,513.8 281.7,513.6 283,513.5 C284.3,513.4 285.6,513.3 286.8,513.2 C288.1,513.1 289.4,513 290.7,512.8 C291.9,512.7 293.2,512.6 294.5,512.5 C295.7,512.4 297,512.2 298.3,512.1 C299.6,512 300.8,511.8 302.1,511.7 C303.4,511.6 304.6,511.4 305.9,511.3 C307.2,511.1 308.4,511 309.7,510.9 C310.9,510.7 312.2,510.6 313.5,510.4 C314.7,510.2 316,510.1 317.2,509.9 C318.5,509.8 319.7,509.6 321,509.4 C322.2,509.3 323.5,509.1 324.7,508.9 C326,508.7 327.2,508.6 328.5,508.4 C329.7,508.2 331,508 332.2,507.8 C333.4,507.6 334.7,507.5 335.9,507.3 C337.2,507.1 338.4,506.9 339.6,506.7 C340.9,506.5 342.1,506.4 343.4,506.2 C344.6,506 345.9,505.8 347.1,505.7 C348.4,505.5 349.6,505.3 350.9,505.2 C352.1,505 353.4,504.9 354.6,504.7 C355.9,504.6 357.1,504.5 358.4,504.4 C359.7,504.2 361,504.1 362.2,504 C363.5,503.9 364.8,503.8 366.1,503.8 C367.4,503.7 368.7,503.7 370,503.6 C371.3,503.6 372.6,503.6 373.9,503.6 C375.3,503.6 376.6,503.6 377.9,503.6 C379.3,503.7 380.6,503.7 381.9,503.8 C383.2,503.9 384.5,504 385.8,504.1 C387.1,504.2 388.3,504.3 389.6,504.4 C390.9,504.5 392.2,504.6 393.4,504.7 C394.7,504.9 396,505 397.3,505.1 C398.5,505.3 399.8,505.4 401.1,505.6 C402.3,505.7 403.6,505.9 404.8,506.1 C406,506.4 407.3,506.6 408.5,506.9 C409.7,507.2 410.9,507.5 412.1,507.8 C413.3,508.2 414.4,508.6 415.5,509 C416.7,509.5 417.8,510 418.9,510.5 C420,511 421.1,511.6 422.1,512.2 C423.2,512.8 424.2,513.5 425.2,514.1 C426.2,514.8 427.2,515.5 428.2,516.2 C429.2,516.9 430.2,517.7 431.2,518.5 C432.1,519.2 433.1,520 434,520.8 C435,521.6 435.9,522.4 436.8,523.3 C437.8,524.1 438.7,525 439.6,525.9 C440.5,526.8 441.4,527.7 442.3,528.7 C443.1,529.7 444,530.7 444.8,531.7 C445.7,532.7 446.5,533.8 447.3,534.9 C448.1,536 448.9,537.2 449.7,538.3 C450.4,539.5 451.2,540.7 451.9,541.9 C452.7,543.1 453.4,544.4 454.2,545.6 C454.9,546.9 455.6,548.2 456.3,549.5 C457,550.8 457.7,552.1 458.4,553.4 C459.1,554.8 459.7,556.1 460.4,557.5 C461.1,558.8 461.7,560.2 462.4,561.6 C463,563 463.7,564.4 464.3,565.8 C464.9,567.2 465.6,568.7 466.2,570.1 C466.8,571.5 467.5,573 468.1,574.4 C468.7,575.9 469.3,577.4 469.9,578.8 C470.5,580.3 471.1,581.8 471.7,583.3 C472.3,584.8 472.9,586.3 473.5,587.8 C474.1,589.2 474.7,590.7 475.3,592.2 C475.8,593.7 476.4,595.2 477,596.7 C477.6,598.1 478.2,599.6 478.8,601.1 C479.4,602.5 480,603.9 480.6,605.4 C481.2,606.8 481.8,608.2 482.4,609.6 C483.1,611 483.8,612.6 484.3,613.7 C484.9,614.8 485.4,615.8 485.6,616.2" stroke="#ff0000" stroke-width="2.6" fill="none" stroke-linejoin="round" clip-path="url(#clb)"/>
<line x1="119.4" y1="455" x2="119.4" y2="553.6" stroke="#000" stroke-width="2.4"/>
<rect x="116.5" y="453.75" width="5.8" height="2.6" rx="0.5" fill="#000"/>
<rect x="116.5" y="552.35" width="5.8" height="2.6" rx="0.5" fill="#000"/>
<rect x="113.6" y="498.6" width="11.6" height="11.6" fill="#000"/>
<line x1="168.4" y1="479" x2="168.4" y2="569" stroke="#000" stroke-width="2.4"/>
<rect x="165.5" y="477.75" width="5.8" height="2.6" rx="0.5" fill="#000"/>
<rect x="165.5" y="567.75" width="5.8" height="2.6" rx="0.5" fill="#000"/>
<rect x="162.6" y="518.2" width="11.6" height="11.6" fill="#000"/>
<line x1="217" y1="437.6" x2="217" y2="542.6" stroke="#000" stroke-width="2.4"/>
<rect x="214.1" y="436.35" width="5.8" height="2.6" rx="0.5" fill="#000"/>
<rect x="214.1" y="541.35" width="5.8" height="2.6" rx="0.5" fill="#000"/>
<rect x="211.2" y="484.6" width="11.6" height="11.6" fill="#000"/>
<line x1="266" y1="484.4" x2="266" y2="572" stroke="#000" stroke-width="2.4"/>
<rect x="263.1" y="483.15" width="5.8" height="2.6" rx="0.5" fill="#000"/>
<rect x="263.1" y="570.75" width="5.8" height="2.6" rx="0.5" fill="#000"/>
<rect x="260.2" y="522.6" width="11.6" height="11.6" fill="#000"/>
<line x1="315" y1="433.6" x2="315" y2="540.4" stroke="#000" stroke-width="2.4"/>
<rect x="312.1" y="432.35" width="5.8" height="2.6" rx="0.5" fill="#000"/>
<rect x="312.1" y="539.15" width="5.8" height="2.6" rx="0.5" fill="#000"/>
<rect x="309.2" y="481.2" width="11.6" height="11.6" fill="#000"/>
<line x1="363.6" y1="480.4" x2="363.6" y2="569.6" stroke="#000" stroke-width="2.4"/>
<rect x="360.7" y="479.15" width="5.8" height="2.6" rx="0.5" fill="#000"/>
<rect x="360.7" y="568.35" width="5.8" height="2.6" rx="0.5" fill="#000"/>
<rect x="357.8" y="519.6" width="11.6" height="11.6" fill="#000"/>
<line x1="412.4" y1="460.4" x2="412.4" y2="557.4" stroke="#000" stroke-width="2.4"/>
<rect x="409.5" y="459.15" width="5.8" height="2.6" rx="0.5" fill="#000"/>
<rect x="409.5" y="556.15" width="5.8" height="2.6" rx="0.5" fill="#000"/>
<rect x="406.6" y="502.8" width="11.6" height="11.6" fill="#000"/>
<line x1="461.3" y1="533.3" x2="461.3" y2="599.3" stroke="#000" stroke-width="2.4"/>
<rect x="458.4" y="532.05" width="5.8" height="2.6" rx="0.5" fill="#000"/>
<rect x="458.4" y="598.05" width="5.8" height="2.6" rx="0.5" fill="#000"/>
<rect x="455.5" y="560.6" width="11.6" height="11.6" fill="#000"/>
<path d="M95.2,875.6 C95.9,875.6 97.8,875.6 99.2,875.5 C100.5,875.5 101.8,875.5 103.1,875.5 C104.5,875.5 105.8,875.4 107.1,875.4 C108.4,875.4 109.8,875.4 111.1,875.4 C112.4,875.3 113.7,875.3 115,875.3 C116.4,875.3 117.7,875.3 119,875.2 C120.3,875.2 121.7,875.2 123,875.2 C124.3,875.2 125.6,875.1 127,875.1 C128.3,875.1 129.6,875.1 130.9,875.1 C132.2,875 133.6,875 134.9,875 C136.2,875 137.5,875 138.9,874.9 C140.2,874.9 141.5,874.9 142.8,874.9 C144.2,874.9 145.5,874.8 146.8,874.8 C148.1,874.8 149.5,874.8 150.8,874.8 C152.1,874.7 153.4,874.7 154.7,874.7 C156.1,874.7 157.4,874.7 158.7,874.7 C160,874.6 161.4,874.6 162.7,874.6 C164,874.6 165.3,874.6 166.7,874.5 C168,874.5 169.3,874.5 170.6,874.5 C172,874.5 173.3,874.4 174.6,874.4 C175.9,874.4 177.2,874.4 178.6,874.4 C179.9,874.3 181.2,874.3 182.5,874.3 C183.9,874.3 185.2,874.2 186.5,874.2 C187.8,874.2 189.2,874.2 190.5,874.2 C191.8,874.1 193.1,874.1 194.4,874.1 C195.8,874.1 197.1,874.1 198.4,874 C199.7,874 201.1,874 202.4,874 C203.7,873.9 205,873.9 206.3,873.9 C207.7,873.9 209,873.9 210.3,873.8 C211.6,873.8 213,873.8 214.3,873.8 C215.6,873.7 216.9,873.7 218.2,873.7 C219.6,873.7 220.9,873.6 222.2,873.6 C223.5,873.6 224.8,873.6 226.2,873.5 C227.5,873.5 228.8,873.5 230.1,873.5 C231.4,873.4 232.8,873.4 234.1,873.4 C235.4,873.4 236.7,873.3 238,873.3 C239.4,873.3 240.7,873.2 242,873.2 C243.3,873.2 244.6,873.2 246,873.1 C247.3,873.1 248.6,873.1 249.9,873 C251.2,873 252.6,873 253.9,873 C255.2,872.9 256.5,872.9 257.8,872.9 C259.2,872.8 260.5,872.8 261.8,872.8 C263.1,872.7 264.4,872.7 265.7,872.7 C267.1,872.6 268.4,872.6 269.7,872.6 C271,872.5 272.3,872.5 273.6,872.5 C275,872.4 276.3,872.4 277.6,872.4 C278.9,872.3 280.2,872.3 281.5,872.3 C282.9,872.2 284.2,872.2 285.5,872.2 C286.8,872.1 288.1,872.1 289.4,872.1 C290.7,872 292.1,872 293.4,871.9 C294.7,871.9 296,871.9 297.3,871.8 C298.6,871.8 299.9,871.7 301.3,871.7 C302.6,871.7 303.9,871.6 305.2,871.6 C306.5,871.5 307.8,871.5 309.1,871.5 C310.4,871.4 311.8,871.4 313.1,871.3 C314.4,871.3 315.7,871.2 317,871.2 C318.3,871.1 319.6,871.1 320.9,871.1 C322.3,871 323.6,871 324.9,870.9 C326.2,870.9 327.5,870.8 328.8,870.8 C330.1,870.7 331.4,870.7 332.7,870.6 C334,870.6 335.3,870.5 336.7,870.5 C338,870.4 339.3,870.4 340.6,870.3 C341.9,870.3 343.2,870.2 344.5,870.2 C345.8,870.1 347.1,870.1 348.4,870 C349.7,869.9 351,869.9 352.3,869.8 C353.6,869.8 354.9,869.7 356.3,869.7 C357.6,869.6 358.9,869.5 360.2,869.5 C361.5,869.4 362.8,869.4 364.1,869.3 C365.4,869.2 366.7,869.2 368,869.1 C369.3,869.1 370.6,869 371.9,868.9 C373.2,868.9 374.5,868.8 375.8,868.7 C377.1,868.7 378.4,868.6 379.7,868.5 C381,868.5 382.3,868.4 383.6,868.3 C384.9,868.3 386.2,868.2 387.5,868.1 C388.8,868.1 390.1,868 391.4,867.9 C392.7,867.9 394,867.8 395.3,867.7 C396.6,867.6 397.9,867.6 399.2,867.5 C400.5,867.4 401.8,867.3 403.1,867.3 C404.4,867.2 405.7,867.1 407,867 C408.3,867 409.6,866.9 410.8,866.8 C412.1,866.7 413.4,866.7 414.7,866.6 C416,866.5 417.3,866.4 418.6,866.3 C419.9,866.2 421.2,866.2 422.5,866.1 C423.8,866 425.1,865.9 426.4,865.8 C427.6,865.7 428.9,865.7 430.2,865.6 C431.5,865.5 432.8,865.4 434.1,865.3 C435.4,865.2 436.7,865.1 438,865 C439.3,864.9 440.5,864.8 441.8,864.8 C443.1,864.7 444.4,864.6 445.7,864.5 C447,864.4 448.3,864.3 449.5,864.2 C450.8,864.1 452.1,864 453.4,863.9 C454.7,863.8 456,863.7 457.3,863.6 C458.5,863.5 459.8,863.4 461.1,863.3 C462.4,863.2 463.7,863.1 464.9,863 C466.2,862.9 467.5,862.8 468.8,862.7 C470.1,862.6 471.4,862.4 472.6,862.3 C473.9,862.2 475.2,862.1 476.5,862 C477.7,861.9 479,861.8 480.3,861.7 C481.6,861.6 483.3,861.4 484.1,861.3 C485,861.3 485.4,861.2 485.6,861.2" stroke="#999999" stroke-width="2.4" fill="none" stroke-dasharray="5.6 4.9" clip-path="url(#clc)"/>
<path d="M95.2,860.8 C95.9,860.8 97.8,860.9 99.1,860.9 C100.4,861 101.7,861 103,861.1 C104.3,861.2 105.6,861.3 106.9,861.4 C108.2,861.5 109.5,861.6 110.8,861.7 C112.1,861.8 113.4,861.9 114.6,862 C115.9,862.1 117.2,862.3 118.5,862.4 C119.7,862.5 121,862.7 122.3,862.8 C123.5,863 124.8,863.1 126,863.3 C127.3,863.4 128.5,863.6 129.8,863.8 C131.1,863.9 132.3,864.1 133.5,864.3 C134.8,864.5 136,864.6 137.3,864.8 C138.5,865 139.8,865.2 141,865.4 C142.2,865.6 143.5,865.8 144.7,866 C145.9,866.2 147.2,866.4 148.4,866.7 C149.6,866.9 150.8,867.1 152.1,867.3 C153.3,867.5 154.5,867.8 155.7,868 C156.9,868.2 158.2,868.5 159.4,868.7 C160.6,868.9 161.8,869.2 163,869.4 C164.2,869.7 165.4,869.9 166.7,870.2 C167.9,870.4 169.1,870.7 170.3,870.9 C171.5,871.2 172.7,871.5 173.9,871.7 C175.1,872 176.3,872.2 177.5,872.5 C178.7,872.8 179.9,873 181.1,873.3 C182.3,873.6 183.5,873.9 184.7,874.1 C185.9,874.4 187.1,874.7 188.3,875 C189.5,875.2 190.7,875.5 191.9,875.8 C193.1,876.1 194.3,876.4 195.4,876.6 C196.6,876.9 197.8,877.2 199,877.5 C200.2,877.8 201.4,878.1 202.6,878.4 C203.8,878.7 205,878.9 206.2,879.2 C207.3,879.5 208.5,879.8 209.7,880.1 C210.9,880.4 212.1,880.7 213.3,881 C214.5,881.3 215.7,881.6 216.8,881.9 C218,882.2 219.2,882.5 220.4,882.7 C221.6,883 222.8,883.3 224,883.6 C225.2,883.9 226.3,884.2 227.5,884.5 C228.7,884.8 229.9,885.1 231.1,885.4 C232.3,885.7 233.5,886 234.6,886.3 C235.8,886.6 237,886.8 238.2,887.1 C239.4,887.4 240.6,887.7 241.8,888 C243,888.3 244.2,888.6 245.3,888.8 C246.5,889.1 247.7,889.4 248.9,889.7 C250.1,890 251.3,890.2 252.5,890.5 C253.7,890.8 254.9,891.1 256.1,891.3 C257.3,891.6 258.5,891.9 259.7,892.1 C260.9,892.4 262.1,892.7 263.3,892.9 C264.5,893.2 265.7,893.4 266.9,893.7 C268.1,893.9 269.3,894.2 270.5,894.4 C271.7,894.7 273,894.9 274.2,895.1 C275.4,895.3 276.6,895.6 277.8,895.8 C279,896 280.3,896.2 281.5,896.4 C282.7,896.6 283.9,896.9 285.2,897.1 C286.4,897.2 287.6,897.4 288.9,897.6 C290.1,897.8 291.4,898 292.6,898.2 C293.8,898.3 295.1,898.5 296.3,898.6 C297.6,898.8 298.9,898.9 300.1,899.1 C301.4,899.2 302.6,899.4 303.9,899.5 C305.2,899.6 306.4,899.7 307.7,899.8 C309,899.9 310.3,900 311.6,900.1 C312.9,900.1 314.2,900.2 315.5,900.2 C316.8,900.3 318.1,900.3 319.4,900.2 C320.7,900.2 322.1,900.2 323.4,900.1 C324.7,900 326,899.9 327.3,899.8 C328.6,899.6 329.8,899.4 331.1,899.2 C332.3,899 333.5,898.8 334.7,898.5 C336,898.2 337.2,897.9 338.3,897.6 C339.5,897.2 340.7,896.8 341.8,896.4 C343,896 344.1,895.6 345.2,895.2 C346.4,894.8 347.5,894.3 348.6,893.8 C349.7,893.3 350.8,892.9 351.9,892.4 C353,891.9 354.1,891.3 355.1,890.8 C356.2,890.3 357.3,889.8 358.4,889.2 C359.4,888.7 360.5,888.2 361.5,887.6 C362.6,887.1 363.7,886.5 364.7,885.9 C365.8,885.4 366.8,884.8 367.9,884.3 C369,883.7 370,883.2 371.1,882.6 C372.1,882 373.2,881.4 374.2,880.8 C375.2,880.2 376.3,879.6 377.3,879 C378.3,878.4 379.4,877.8 380.4,877.1 C381.4,876.5 382.4,875.8 383.4,875.1 C384.4,874.4 385.4,873.7 386.4,873 C387.4,872.3 388.4,871.5 389.3,870.8 C390.3,870 391.3,869.2 392.2,868.4 C393.1,867.6 394.1,866.8 395,865.9 C395.9,865.1 396.8,864.2 397.7,863.3 C398.6,862.4 399.5,861.5 400.4,860.6 C401.3,859.6 402.2,858.7 403,857.7 C403.9,856.8 404.8,855.8 405.6,854.8 C406.4,853.8 407.3,852.7 408.1,851.7 C408.9,850.7 409.8,849.6 410.6,848.6 C411.4,847.5 412.2,846.4 413,845.3 C413.8,844.2 414.6,843.1 415.4,842 C416.2,840.9 416.9,839.8 417.7,838.6 C418.5,837.5 419.2,836.3 420,835.1 C420.8,833.9 421.5,832.8 422.2,831.5 C423,830.3 423.7,829.1 424.5,827.9 C425.2,826.7 425.9,825.4 426.6,824.1 C427.3,822.9 428,821.6 428.7,820.3 C429.5,819 430.1,817.7 430.8,816.4 C431.5,815.1 432.2,813.8 432.9,812.4 C433.6,811.1 434.2,809.7 434.9,808.4 C435.5,807 436.2,805.6 436.9,804.2 C437.5,802.8 438.1,801.4 438.8,800 C439.4,798.6 440.1,797.2 440.7,795.7 C441.3,794.3 441.9,792.9 442.6,791.4 C443.2,790 443.8,788.5 444.4,787 C445,785.5 445.6,784 446.2,782.5 C446.8,781 447.4,779.5 448,778 C448.5,776.5 449.1,775 449.7,773.4 C450.3,771.9 450.8,770.4 451.4,768.8 C452,767.3 452.5,765.7 453.1,764.2 C453.7,762.6 454.2,761.1 454.8,759.5 C455.3,757.9 455.9,756.4 456.5,754.8 C457,753.2 457.6,751.7 458.1,750.1 C458.7,748.5 459.2,747 459.8,745.4 C460.3,743.8 460.9,742.3 461.4,740.7 C462,739.1 462.5,737.6 463.1,736 C463.6,734.4 464.2,732.9 464.7,731.3 C465.3,729.8 465.8,728.2 466.4,726.7 C466.9,725.1 467.5,723.6 468.1,722.1 C468.6,720.5 469.2,719 469.7,717.5 C470.3,715.9 470.9,714.4 471.4,712.9 C472,711.4 472.6,709.9 473.2,708.4 C473.7,706.9 474.3,705.4 474.9,703.9 C475.5,702.5 476.1,701 476.7,699.5 C477.3,698.1 477.9,696.6 478.5,695.2 C479.1,693.8 479.7,692.4 480.3,691 C480.9,689.6 481.5,688.2 482.2,686.8 C482.8,685.5 483.5,684 484.1,682.8 C484.7,681.6 485.4,680.3 485.6,679.8" stroke="#0000ff" stroke-width="2.7" fill="none" stroke-dasharray="2.6 2.65" clip-path="url(#clc)"/>
<path d="M95.2,834.9 C95.9,835 97.8,835.1 99.1,835.2 C100.4,835.2 101.7,835.3 103,835.4 C104.3,835.5 105.6,835.6 106.9,835.7 C108.1,835.8 109.4,835.9 110.7,836 C112,836.1 113.3,836.2 114.5,836.3 C115.8,836.4 117.1,836.6 118.4,836.7 C119.6,836.8 120.9,837 122.2,837.1 C123.4,837.2 124.7,837.4 126,837.5 C127.2,837.7 128.5,837.8 129.8,838 C131,838.1 132.3,838.3 133.5,838.5 C134.8,838.6 136,838.8 137.3,839 C138.5,839.1 139.8,839.3 141,839.5 C142.3,839.7 143.5,839.8 144.8,840 C146,840.2 147.2,840.4 148.5,840.6 C149.7,840.8 151,841 152.2,841.2 C153.4,841.4 154.7,841.6 155.9,841.8 C157.1,842 158.4,842.2 159.6,842.4 C160.8,842.6 162,842.8 163.3,843.1 C164.5,843.3 165.7,843.5 166.9,843.7 C168.2,843.9 169.4,844.2 170.6,844.4 C171.8,844.6 173,844.9 174.3,845.1 C175.5,845.3 176.7,845.6 177.9,845.8 C179.1,846 180.3,846.3 181.6,846.5 C182.8,846.8 184,847 185.2,847.2 C186.4,847.5 187.6,847.7 188.8,848 C190,848.2 191.2,848.5 192.5,848.7 C193.7,849 194.9,849.3 196.1,849.5 C197.3,849.8 198.5,850 199.7,850.3 C200.9,850.5 202.1,850.8 203.3,851.1 C204.5,851.3 205.7,851.6 206.9,851.9 C208.1,852.1 209.3,852.4 210.5,852.7 C211.7,852.9 212.9,853.2 214.1,853.5 C215.3,853.7 216.5,854 217.7,854.3 C218.9,854.6 220.1,854.8 221.3,855.1 C222.5,855.4 223.7,855.7 224.9,855.9 C226.1,856.2 227.3,856.5 228.5,856.8 C229.7,857.1 230.8,857.3 232,857.6 C233.2,857.9 234.4,858.2 235.6,858.4 C236.8,858.7 238,859 239.2,859.3 C240.4,859.5 241.6,859.8 242.8,860.1 C244,860.3 245.2,860.6 246.4,860.9 C247.6,861.1 248.8,861.4 250,861.7 C251.2,861.9 252.4,862.2 253.6,862.4 C254.8,862.7 256,862.9 257.2,863.2 C258.4,863.4 259.6,863.7 260.9,863.9 C262.1,864.2 263.3,864.4 264.5,864.6 C265.7,864.9 266.9,865.1 268.1,865.3 C269.4,865.5 270.6,865.7 271.8,865.9 C273,866.1 274.3,866.3 275.5,866.5 C276.7,866.7 278,866.9 279.2,867.1 C280.5,867.3 281.7,867.5 282.9,867.6 C284.2,867.8 285.4,867.9 286.7,868.1 C288,868.2 289.2,868.4 290.5,868.5 C291.7,868.6 293,868.7 294.3,868.8 C295.6,869 296.8,869.1 298.1,869.1 C299.4,869.2 300.7,869.3 302,869.4 C303.3,869.4 304.6,869.5 305.9,869.5 C307.2,869.5 308.5,869.6 309.8,869.6 C311.2,869.6 312.5,869.6 313.8,869.5 C315.2,869.5 316.5,869.5 317.8,869.4 C319.1,869.4 320.4,869.3 321.7,869.2 C323,869.1 324.3,869 325.6,868.9 C326.9,868.8 328.2,868.7 329.4,868.5 C330.7,868.4 331.9,868.2 333.2,868 C334.4,867.8 335.7,867.6 336.9,867.4 C338.2,867.2 339.4,867 340.6,866.7 C341.8,866.5 343,866.2 344.2,865.9 C345.4,865.6 346.6,865.3 347.8,865 C349,864.7 350.2,864.3 351.3,864 C352.5,863.6 353.6,863.2 354.8,862.8 C355.9,862.4 357.1,862 358.2,861.5 C359.3,861.1 360.4,860.6 361.5,860.1 C362.6,859.6 363.7,859.1 364.8,858.6 C365.9,858 366.9,857.5 368,856.9 C369,856.3 370.1,855.7 371.1,855.1 C372.1,854.4 373.2,853.8 374.2,853.1 C375.2,852.5 376.2,851.8 377.2,851.1 C378.2,850.4 379.2,849.6 380.1,848.9 C381.1,848.1 382.1,847.4 383,846.6 C384,845.8 384.9,845 385.9,844.2 C386.8,843.3 387.7,842.5 388.6,841.6 C389.5,840.7 390.4,839.9 391.3,839 C392.2,838.1 393.1,837.1 394,836.2 C394.9,835.3 395.7,834.3 396.6,833.3 C397.5,832.4 398.3,831.4 399.2,830.4 C400,829.3 400.8,828.3 401.7,827.3 C402.5,826.2 403.3,825.2 404.1,824.1 C404.9,823 405.7,822 406.5,820.9 C407.3,819.8 408.1,818.6 408.9,817.5 C409.7,816.4 410.4,815.2 411.2,814.1 C412,812.9 412.7,811.7 413.5,810.5 C414.2,809.4 415,808.2 415.7,806.9 C416.5,805.7 417.2,804.5 417.9,803.3 C418.6,802 419.4,800.8 420.1,799.5 C420.8,798.2 421.5,797 422.2,795.7 C422.9,794.4 423.6,793.1 424.3,791.8 C425,790.5 425.6,789.1 426.3,787.8 C427,786.5 427.7,785.1 428.3,783.8 C429,782.4 429.7,781.1 430.3,779.7 C431,778.3 431.6,776.9 432.3,775.6 C432.9,774.2 433.6,772.8 434.2,771.4 C434.9,770 435.5,768.5 436.1,767.1 C436.8,765.7 437.4,764.3 438,762.8 C438.6,761.4 439.2,760 439.9,758.5 C440.5,757.1 441.1,755.6 441.7,754.1 C442.3,752.7 442.9,751.2 443.5,749.7 C444.1,748.3 444.7,746.8 445.3,745.3 C445.9,743.8 446.5,742.3 447.1,740.8 C447.7,739.3 448.3,737.8 448.9,736.3 C449.5,734.8 450,733.3 450.6,731.8 C451.2,730.3 451.8,728.8 452.4,727.3 C452.9,725.8 453.5,724.2 454.1,722.7 C454.7,721.2 455.2,719.6 455.8,718.1 C456.4,716.6 457,715 457.5,713.5 C458.1,712 458.7,710.4 459.2,708.9 C459.8,707.3 460.3,705.8 460.9,704.2 C461.5,702.7 462,701.1 462.6,699.6 C463.2,698 463.7,696.5 464.3,694.9 C464.8,693.4 465.4,691.8 465.9,690.2 C466.5,688.7 467,687.1 467.6,685.6 C468.2,684 468.7,682.4 469.3,680.9 C469.8,679.3 470.4,677.7 470.9,676.2 C471.5,674.6 472,673 472.6,671.5 C473.1,669.9 473.7,668.3 474.2,666.8 C474.8,665.2 475.3,663.6 475.9,662.1 C476.4,660.5 477,658.9 477.5,657.4 C478.1,655.8 478.6,654.2 479.2,652.7 C479.7,651.1 480.3,649.5 480.8,648 C481.4,646.4 481.9,644.8 482.5,643.3 C483,641.7 483.6,640.1 484.1,638.6 C484.6,637.1 485.4,635.1 485.6,634.4" stroke="#ff0000" stroke-width="2.6" fill="none" stroke-linejoin="round" clip-path="url(#clc)"/>
<line x1="113" y1="792.4" x2="113" y2="837.4" stroke="#000" stroke-width="2.4"/>
<rect x="110.1" y="791.15" width="5.8" height="2.6" rx="0.5" fill="#000"/>
<rect x="110.1" y="836.15" width="5.8" height="2.6" rx="0.5" fill="#000"/>
<rect x="107.2" y="809.2" width="11.6" height="11.6" fill="#000"/>
<line x1="148.4" y1="801.6" x2="148.4" y2="844" stroke="#000" stroke-width="2.4"/>
<rect x="145.5" y="800.35" width="5.8" height="2.6" rx="0.5" fill="#000"/>
<rect x="145.5" y="842.75" width="5.8" height="2.6" rx="0.5" fill="#000"/>
<rect x="142.6" y="816.8" width="11.6" height="11.6" fill="#000"/>
<line x1="184" y1="826" x2="184" y2="862.4" stroke="#000" stroke-width="2.4"/>
<rect x="181.1" y="824.75" width="5.8" height="2.6" rx="0.5" fill="#000"/>
<rect x="181.1" y="861.15" width="5.8" height="2.6" rx="0.5" fill="#000"/>
<rect x="178.2" y="838.2" width="11.6" height="11.6" fill="#000"/>
<line x1="219.4" y1="835" x2="219.4" y2="869" stroke="#000" stroke-width="2.4"/>
<rect x="216.5" y="833.75" width="5.8" height="2.6" rx="0.5" fill="#000"/>
<rect x="216.5" y="867.75" width="5.8" height="2.6" rx="0.5" fill="#000"/>
<rect x="213.6" y="846.2" width="11.6" height="11.6" fill="#000"/>
<line x1="255" y1="838" x2="255" y2="871" stroke="#000" stroke-width="2.4"/>
<rect x="252.1" y="836.75" width="5.8" height="2.6" rx="0.5" fill="#000"/>
<rect x="252.1" y="869.75" width="5.8" height="2.6" rx="0.5" fill="#000"/>
<rect x="249.2" y="848.6" width="11.6" height="11.6" fill="#000"/>
<line x1="290.4" y1="828.6" x2="290.4" y2="864.6" stroke="#000" stroke-width="2.4"/>
<rect x="287.5" y="827.35" width="5.8" height="2.6" rx="0.5" fill="#000"/>
<rect x="287.5" y="863.35" width="5.8" height="2.6" rx="0.5" fill="#000"/>
<rect x="284.6" y="841.2" width="11.6" height="11.6" fill="#000"/>
<line x1="326" y1="839.6" x2="326" y2="872" stroke="#000" stroke-width="2.4"/>
<rect x="323.1" y="838.35" width="5.8" height="2.6" rx="0.5" fill="#000"/>
<rect x="323.1" y="870.75" width="5.8" height="2.6" rx="0.5" fill="#000"/>
<rect x="320.2" y="850.2" width="11.6" height="11.6" fill="#000"/>
<line x1="361.4" y1="822" x2="361.4" y2="859.6" stroke="#000" stroke-width="2.4"/>
<rect x="358.5" y="820.75" width="5.8" height="2.6" rx="0.5" fill="#000"/>
<rect x="358.5" y="858.35" width="5.8" height="2.6" rx="0.5" fill="#000"/>
<rect x="355.6" y="835.6" width="11.6" height="11.6" fill="#000"/>
<line x1="397" y1="822" x2="397" y2="859.6" stroke="#000" stroke-width="2.4"/>
<rect x="394.1" y="820.75" width="5.8" height="2.6" rx="0.5" fill="#000"/>
<rect x="394.1" y="858.35" width="5.8" height="2.6" rx="0.5" fill="#000"/>
<rect x="391.2" y="835.2" width="11.6" height="11.6" fill="#000"/>
<line x1="432.4" y1="783.6" x2="432.4" y2="830.4" stroke="#000" stroke-width="2.4"/>
<rect x="429.5" y="782.35" width="5.8" height="2.6" rx="0.5" fill="#000"/>
<rect x="429.5" y="829.15" width="5.8" height="2.6" rx="0.5" fill="#000"/>
<rect x="426.6" y="801.2" width="11.6" height="11.6" fill="#000"/>
<line x1="467.9" y1="637.6" x2="467.9" y2="709.9" stroke="#000" stroke-width="2.4"/>
<rect x="465" y="636.35" width="5.8" height="2.6" rx="0.5" fill="#000"/>
<rect x="465" y="708.65" width="5.8" height="2.6" rx="0.5" fill="#000"/>
<rect x="462.1" y="667.7" width="11.6" height="11.6" fill="#000"/>
<path d="M95.2,1160.9 C95.8,1160.9 97.7,1161.2 99,1161.3 C100.3,1161.4 101.5,1161.6 102.8,1161.7 C104,1161.9 105.3,1162 106.6,1162.1 C107.8,1162.3 109.1,1162.4 110.4,1162.6 C111.6,1162.7 112.9,1162.9 114.1,1163 C115.4,1163.1 116.7,1163.3 117.9,1163.4 C119.2,1163.6 120.5,1163.7 121.7,1163.8 C123,1164 124.2,1164.1 125.5,1164.2 C126.8,1164.4 128,1164.5 129.3,1164.7 C130.6,1164.8 131.8,1164.9 133.1,1165.1 C134.4,1165.2 135.6,1165.3 136.9,1165.5 C138.2,1165.6 139.4,1165.7 140.7,1165.8 C142,1166 143.2,1166.1 144.5,1166.2 C145.8,1166.4 147,1166.5 148.3,1166.6 C149.6,1166.7 150.9,1166.9 152.1,1167 C153.4,1167.1 154.7,1167.2 156,1167.3 C157.2,1167.4 158.5,1167.6 159.8,1167.7 C161.1,1167.8 162.3,1167.9 163.6,1168 C164.9,1168.1 166.2,1168.2 167.4,1168.3 C168.7,1168.4 170,1168.5 171.3,1168.6 C172.6,1168.7 173.8,1168.8 175.1,1168.9 C176.4,1169 177.7,1169.1 179,1169.2 C180.3,1169.3 181.6,1169.4 182.9,1169.5 C184.1,1169.6 185.4,1169.7 186.7,1169.7 C188,1169.8 189.3,1169.9 190.6,1170 C191.9,1170 193.2,1170.1 194.5,1170.2 C195.8,1170.2 197.1,1170.3 198.4,1170.4 C199.7,1170.4 201,1170.5 202.3,1170.5 C203.6,1170.6 204.9,1170.6 206.2,1170.7 C207.5,1170.7 208.8,1170.8 210.2,1170.8 C211.5,1170.9 212.8,1170.9 214.1,1170.9 C215.4,1170.9 216.7,1171 218,1171 C219.4,1171 220.7,1171 222,1171 C223.3,1171.1 224.7,1171.1 226,1171.1 C227.3,1171.1 228.7,1171.1 230,1171.1 C231.3,1171.1 232.7,1171.1 234,1171 C235.3,1171 236.6,1171 238,1171 C239.3,1171 240.6,1170.9 241.9,1170.9 C243.2,1170.8 244.6,1170.8 245.9,1170.8 C247.2,1170.7 248.5,1170.7 249.8,1170.6 C251.1,1170.6 252.4,1170.5 253.7,1170.4 C255,1170.4 256.3,1170.3 257.6,1170.2 C258.9,1170.1 260.2,1170 261.5,1169.9 C262.8,1169.9 264.1,1169.8 265.4,1169.7 C266.6,1169.6 267.9,1169.5 269.2,1169.3 C270.5,1169.2 271.8,1169.1 273,1169 C274.3,1168.8 275.6,1168.7 276.8,1168.6 C278.1,1168.4 279.4,1168.3 280.6,1168.1 C281.9,1168 283.1,1167.8 284.4,1167.6 C285.6,1167.5 286.9,1167.3 288.1,1167.1 C289.4,1166.9 290.6,1166.7 291.9,1166.5 C293.1,1166.3 294.3,1166.1 295.5,1165.8 C296.8,1165.6 298,1165.4 299.2,1165.1 C300.4,1164.9 301.6,1164.7 302.8,1164.4 C304.1,1164.1 305.3,1163.9 306.5,1163.6 C307.7,1163.3 308.9,1163 310.1,1162.8 C311.3,1162.5 312.4,1162.2 313.6,1161.9 C314.8,1161.6 316,1161.3 317.2,1161 C318.4,1160.7 319.6,1160.5 320.8,1160.2 C322,1159.9 323.1,1159.6 324.3,1159.3 C325.5,1159 326.7,1158.7 327.9,1158.4 C329.1,1158.1 330.3,1157.9 331.5,1157.6 C332.7,1157.3 333.9,1157.1 335.1,1156.8 C336.3,1156.5 337.5,1156.3 338.7,1156 C339.9,1155.8 341.1,1155.6 342.3,1155.3 C343.5,1155.1 344.7,1154.9 346,1154.7 C347.2,1154.5 348.4,1154.3 349.7,1154.1 C350.9,1154 352.1,1153.8 353.4,1153.7 C354.6,1153.5 355.9,1153.4 357.2,1153.3 C358.4,1153.2 359.7,1153.1 361,1153 C362.3,1152.9 363.6,1152.8 364.9,1152.7 C366.2,1152.7 367.5,1152.6 368.8,1152.5 C370.1,1152.5 371.4,1152.4 372.7,1152.4 C374,1152.4 375.3,1152.3 376.6,1152.3 C377.9,1152.3 379.3,1152.2 380.6,1152.2 C381.9,1152.2 383.2,1152.1 384.5,1152.1 C385.8,1152.1 387.2,1152.1 388.5,1152 C389.8,1152 391.1,1151.9 392.4,1151.9 C393.7,1151.9 395.1,1151.8 396.4,1151.7 C397.7,1151.7 399,1151.6 400.3,1151.5 C401.6,1151.5 402.9,1151.4 404.2,1151.3 C405.4,1151.2 406.7,1151.1 408,1150.9 C409.3,1150.8 410.6,1150.7 411.8,1150.5 C413.1,1150.4 414.3,1150.2 415.6,1150 C416.8,1149.9 418.1,1149.7 419.3,1149.5 C420.6,1149.4 421.8,1149.2 423.1,1149 C424.3,1148.9 425.6,1148.7 426.9,1148.6 C428.1,1148.5 429.4,1148.4 430.7,1148.3 C431.9,1148.2 433.2,1148.1 434.5,1148.1 C435.8,1148.1 437.2,1148.1 438.5,1148.1 C439.8,1148.2 441.1,1148.3 442.4,1148.4 C443.7,1148.6 445,1148.8 446.2,1149 C447.4,1149.2 448.7,1149.5 449.9,1149.9 C451.1,1150.2 452.2,1150.6 453.4,1151 C454.5,1151.4 455.6,1151.9 456.7,1152.5 C457.8,1153 458.9,1153.6 460,1154.2 C461,1154.8 462,1155.5 463,1156.2 C464,1156.9 465,1157.7 466,1158.5 C467,1159.3 467.9,1160.1 468.8,1161 C469.7,1161.9 470.6,1162.8 471.5,1163.8 C472.4,1164.8 473.2,1165.8 474.1,1166.8 C474.9,1167.9 475.7,1169 476.5,1170.1 C477.3,1171.2 478.1,1172.4 478.9,1173.5 C479.7,1174.7 480.4,1175.9 481.2,1177.2 C481.9,1178.4 482.6,1179.7 483.3,1181 C484,1182.3 485,1184.3 485.4,1185 C485.8,1185.7 485.6,1185.3 485.6,1185.3" stroke="#999999" stroke-width="2.4" fill="none" stroke-dasharray="5.6 4.9" clip-path="url(#cld)"/>
<path d="M95.2,1173.1 C95.8,1173.1 97.8,1172.9 99.1,1172.9 C100.4,1172.8 101.7,1172.8 103,1172.8 C104.3,1172.7 105.6,1172.7 106.9,1172.7 C108.3,1172.7 109.6,1172.8 110.9,1172.8 C112.3,1172.8 113.6,1172.9 114.9,1173 C116.2,1173 117.5,1173.1 118.8,1173.2 C120.1,1173.3 121.4,1173.4 122.6,1173.5 C123.9,1173.6 125.2,1173.7 126.5,1173.9 C127.7,1174 129,1174.1 130.3,1174.3 C131.5,1174.4 132.8,1174.6 134.1,1174.7 C135.3,1174.9 136.6,1175.1 137.8,1175.3 C139.1,1175.4 140.3,1175.6 141.6,1175.8 C142.8,1176 144,1176.2 145.3,1176.4 C146.5,1176.6 147.8,1176.8 149,1177 C150.2,1177.2 151.5,1177.4 152.7,1177.6 C153.9,1177.8 155.1,1178 156.4,1178.2 C157.6,1178.4 158.8,1178.6 160.1,1178.9 C161.3,1179.1 162.5,1179.3 163.7,1179.5 C165,1179.7 166.2,1179.9 167.4,1180.1 C168.6,1180.4 169.9,1180.6 171.1,1180.8 C172.3,1181 173.5,1181.2 174.8,1181.4 C176,1181.6 177.2,1181.8 178.4,1182 C179.7,1182.2 180.9,1182.5 182.1,1182.6 C183.4,1182.8 184.6,1183 185.8,1183.2 C187.1,1183.4 188.3,1183.6 189.6,1183.8 C190.8,1184 192,1184.1 193.3,1184.3 C194.5,1184.5 195.8,1184.6 197,1184.8 C198.3,1184.9 199.6,1185.1 200.8,1185.2 C202.1,1185.3 203.3,1185.5 204.6,1185.6 C205.9,1185.7 207.2,1185.8 208.4,1185.9 C209.7,1186 211,1186.1 212.3,1186.2 C213.6,1186.2 214.9,1186.3 216.2,1186.4 C217.5,1186.4 218.8,1186.5 220.1,1186.5 C221.4,1186.5 222.7,1186.5 224.1,1186.5 C225.4,1186.5 226.7,1186.5 228,1186.4 C229.4,1186.4 230.7,1186.3 232,1186.2 C233.3,1186.2 234.6,1186.1 235.9,1186 C237.2,1185.8 238.4,1185.7 239.7,1185.6 C241,1185.4 242.2,1185.3 243.5,1185.1 C244.7,1184.9 246,1184.7 247.2,1184.5 C248.5,1184.3 249.7,1184 250.9,1183.8 C252.1,1183.5 253.3,1183.2 254.5,1183 C255.7,1182.7 256.9,1182.4 258.1,1182 C259.3,1181.7 260.4,1181.4 261.6,1181 C262.8,1180.7 263.9,1180.3 265.1,1179.9 C266.2,1179.5 267.3,1179.1 268.5,1178.6 C269.6,1178.2 270.7,1177.8 271.8,1177.3 C273,1176.8 274.1,1176.4 275.1,1175.9 C276.2,1175.4 277.3,1174.9 278.4,1174.3 C279.5,1173.8 280.6,1173.3 281.6,1172.7 C282.7,1172.1 283.7,1171.6 284.8,1171 C285.8,1170.4 286.9,1169.8 287.9,1169.2 C288.9,1168.5 290,1167.9 291,1167.3 C292,1166.6 293,1166 294,1165.3 C295,1164.6 296,1163.9 297,1163.2 C298,1162.5 299,1161.8 300,1161.1 C301,1160.4 301.9,1159.7 302.9,1158.9 C303.9,1158.2 304.8,1157.4 305.8,1156.7 C306.8,1155.9 307.7,1155.1 308.7,1154.4 C309.6,1153.6 310.6,1152.9 311.5,1152.1 C312.5,1151.3 313.4,1150.6 314.4,1149.8 C315.3,1149 316.3,1148.3 317.2,1147.5 C318.2,1146.8 319.2,1146 320.1,1145.3 C321.1,1144.6 322,1143.8 323,1143.1 C324,1142.4 325,1141.7 325.9,1141 C326.9,1140.4 327.9,1139.7 328.9,1139.1 C329.9,1138.4 330.9,1137.8 331.9,1137.2 C333,1136.6 334,1136 335,1135.5 C336.1,1134.9 337.1,1134.4 338.2,1133.9 C339.3,1133.4 340.3,1133 341.4,1132.5 C342.5,1132.1 343.7,1131.7 344.8,1131.4 C345.9,1131 347.1,1130.7 348.3,1130.4 C349.4,1130.1 350.6,1129.9 351.8,1129.7 C353.1,1129.5 354.3,1129.4 355.6,1129.3 C356.8,1129.3 358.1,1129.2 359.4,1129.3 C360.7,1129.4 362.1,1129.5 363.4,1129.7 C364.6,1129.8 365.9,1130.1 367.1,1130.4 C368.3,1130.7 369.5,1131 370.7,1131.4 C371.8,1131.8 373,1132.3 374.1,1132.8 C375.2,1133.2 376.3,1133.8 377.4,1134.4 C378.4,1134.9 379.5,1135.5 380.5,1136.2 C381.5,1136.8 382.6,1137.5 383.6,1138.3 C384.6,1139 385.5,1139.7 386.5,1140.5 C387.5,1141.3 388.4,1142.1 389.3,1142.9 C390.3,1143.8 391.2,1144.7 392.1,1145.5 C393,1146.4 393.9,1147.4 394.8,1148.3 C395.7,1149.2 396.5,1150.2 397.4,1151.2 C398.2,1152.2 399.1,1153.2 399.9,1154.2 C400.8,1155.2 401.6,1156.3 402.4,1157.4 C403.2,1158.4 404,1159.5 404.8,1160.6 C405.6,1161.7 406.4,1162.8 407.2,1164 C408,1165.1 408.7,1166.2 409.5,1167.3 C410.3,1168.4 411.1,1169.5 411.8,1170.6 C412.6,1171.6 413.4,1172.6 414.2,1173.6 C415.1,1174.6 415.9,1175.5 416.7,1176.4 C417.6,1177.2 418.5,1178 419.4,1178.6 C420.3,1179.2 421.3,1179.8 422.4,1180.1 C423.5,1180.3 424.7,1180.4 425.9,1180.2 C427.1,1180 428.4,1179.3 429.5,1178.6 C430.7,1177.9 431.6,1177 432.5,1176 C433.5,1175.1 434.3,1174 435.2,1172.8 C436,1171.7 436.8,1170.5 437.5,1169.2 C438.3,1168 439,1166.6 439.7,1165.3 C440.4,1163.9 441.1,1162.5 441.7,1161.1 C442.4,1159.7 443,1158.2 443.7,1156.7 C444.3,1155.3 444.9,1153.7 445.5,1152.2 C446.1,1150.7 446.7,1149.1 447.2,1147.5 C447.8,1145.9 448.4,1144.3 448.9,1142.7 C449.4,1141.1 450,1139.5 450.5,1137.8 C451,1136.1 451.6,1134.5 452.1,1132.8 C452.6,1131.1 453.1,1129.4 453.6,1127.6 C454.1,1125.9 454.5,1124.1 455,1122.3 C455.5,1120.6 456,1118.8 456.4,1116.9 C456.8,1115 457.3,1113.1 457.7,1111.1 C458.1,1109.2 458.5,1107.2 458.9,1105.1 C459.3,1103.1 459.6,1100.9 460,1098.8 C460.3,1096.7 460.6,1094.5 460.9,1092.4 C461.2,1090.3 461.5,1088.1 461.8,1086 C462.1,1083.8 462.4,1081.7 462.7,1079.6 C463,1077.4 463.2,1075.3 463.5,1073.2 C463.8,1071.1 464,1068.9 464.3,1066.8 C464.6,1064.7 464.9,1062.7 465.2,1060.6 C465.4,1058.5 465.7,1056.4 466,1054.4 C466.3,1052.3 466.6,1050.2 466.9,1048.1 C467.2,1046.1 467.4,1044 467.7,1041.9 C468,1039.9 468.3,1037.8 468.6,1035.8 C468.9,1033.7 469.2,1031.6 469.5,1029.6 C469.8,1027.5 470.1,1025.4 470.4,1023.4 C470.7,1021.3 471,1019.2 471.3,1017.2 C471.6,1015.1 471.9,1013 472.2,1010.9 C472.5,1008.8 472.8,1006.8 473.1,1004.7 C473.4,1002.6 473.7,1000.5 474,998.4 C474.3,996.4 474.6,994.3 474.9,992.2 C475.2,990.1 475.5,988.1 475.8,986 C476.1,983.9 476.4,981.9 476.7,979.8 C477,977.8 477.2,975.7 477.5,973.6 C477.9,971.6 478.2,969.6 478.5,967.5 C478.8,965.5 479.1,963.4 479.4,961.4 C479.7,959.4 480,957.4 480.3,955.4 C480.6,953.4 480.9,951.4 481.3,949.4 C481.6,947.4 481.9,945.4 482.2,943.5 C482.6,941.5 482.9,939.6 483.3,937.6 C483.6,935.7 483.9,933.8 484.3,931.9 C484.7,930 485.2,927.4 485.4,926.3 C485.6,925.2 485.6,925.5 485.6,925.4" stroke="#0000ff" stroke-width="2.7" fill="none" stroke-dasharray="2.6 2.65" clip-path="url(#cld)"/>
<path d="M95.2,1145.6 C95.8,1145.7 97.6,1146.2 98.8,1146.4 C99.9,1146.7 101.1,1147 102.3,1147.2 C103.5,1147.5 104.8,1147.7 106,1147.9 C107.2,1148.2 108.4,1148.4 109.6,1148.6 C110.8,1148.8 112.1,1149.1 113.3,1149.3 C114.5,1149.5 115.7,1149.7 117,1149.9 C118.2,1150.1 119.4,1150.3 120.7,1150.5 C121.9,1150.7 123.1,1150.9 124.4,1151.1 C125.6,1151.3 126.8,1151.5 128.1,1151.7 C129.3,1151.9 130.5,1152.1 131.8,1152.3 C133,1152.5 134.2,1152.7 135.4,1153 C136.7,1153.2 137.9,1153.5 139.1,1153.7 C140.3,1154 141.5,1154.2 142.7,1154.5 C143.9,1154.8 145.1,1155.1 146.3,1155.4 C147.5,1155.6 148.7,1156 149.9,1156.3 C151,1156.6 152.2,1156.9 153.4,1157.2 C154.6,1157.6 155.7,1157.9 156.9,1158.2 C158.1,1158.6 159.2,1158.9 160.4,1159.3 C161.6,1159.6 162.7,1160 163.9,1160.3 C165,1160.7 166.2,1161 167.4,1161.4 C168.5,1161.7 169.7,1162.1 170.8,1162.4 C172,1162.7 173.1,1163.1 174.3,1163.4 C175.5,1163.8 176.6,1164.1 177.8,1164.4 C179,1164.8 180.1,1165.1 181.3,1165.4 C182.5,1165.7 183.6,1166 184.8,1166.3 C186,1166.6 187.2,1166.9 188.4,1167.2 C189.6,1167.5 190.7,1167.8 191.9,1168 C193.1,1168.3 194.3,1168.5 195.6,1168.8 C196.8,1169 198,1169.2 199.2,1169.4 C200.4,1169.6 201.7,1169.8 202.9,1170 C204.1,1170.1 205.4,1170.3 206.7,1170.4 C207.9,1170.6 209.2,1170.7 210.4,1170.8 C211.7,1170.9 213,1171 214.3,1171 C215.6,1171.1 216.9,1171.1 218.2,1171.1 C219.5,1171.2 220.9,1171.2 222.2,1171.1 C223.5,1171.1 224.8,1171 226.1,1171 C227.4,1170.9 228.7,1170.8 230,1170.7 C231.3,1170.6 232.6,1170.4 233.8,1170.3 C235.1,1170.1 236.4,1169.9 237.6,1169.7 C238.8,1169.5 240.1,1169.3 241.3,1169 C242.5,1168.8 243.7,1168.5 244.9,1168.2 C246.1,1167.9 247.3,1167.6 248.5,1167.3 C249.7,1166.9 250.8,1166.6 252,1166.2 C253.1,1165.8 254.3,1165.4 255.4,1165 C256.6,1164.6 257.7,1164.2 258.8,1163.7 C259.9,1163.3 261.1,1162.8 262.2,1162.3 C263.3,1161.9 264.4,1161.4 265.4,1160.9 C266.5,1160.3 267.6,1159.8 268.7,1159.3 C269.7,1158.7 270.8,1158.1 271.9,1157.6 C272.9,1157 274,1156.4 275,1155.8 C276,1155.2 277.1,1154.6 278.1,1153.9 C279.1,1153.3 280.2,1152.7 281.2,1152 C282.2,1151.4 283.2,1150.7 284.2,1150 C285.2,1149.3 286.2,1148.7 287.2,1148 C288.2,1147.3 289.2,1146.5 290.1,1145.8 C291.1,1145.1 292.1,1144.4 293.1,1143.6 C294,1142.9 295,1142.1 296,1141.4 C296.9,1140.6 297.9,1139.9 298.8,1139.1 C299.8,1138.3 300.7,1137.5 301.7,1136.7 C302.6,1135.9 303.5,1135.1 304.5,1134.3 C305.4,1133.5 306.3,1132.7 307.3,1131.9 C308.2,1131 309.1,1130.2 310,1129.4 C311,1128.5 311.9,1127.7 312.8,1126.8 C313.7,1126 314.6,1125.1 315.5,1124.3 C316.4,1123.4 317.3,1122.6 318.2,1121.7 C319.1,1120.8 320,1120 320.9,1119.1 C321.8,1118.3 322.8,1117.4 323.7,1116.6 C324.6,1115.7 325.5,1114.9 326.4,1114.1 C327.3,1113.2 328.2,1112.4 329.1,1111.6 C330.1,1110.8 331,1110 331.9,1109.2 C332.8,1108.4 333.8,1107.6 334.7,1106.9 C335.7,1106.1 336.6,1105.4 337.6,1104.6 C338.5,1103.9 339.5,1103.2 340.5,1102.5 C341.4,1101.9 342.4,1101.2 343.4,1100.6 C344.4,1100 345.5,1099.4 346.5,1098.8 C347.5,1098.3 348.6,1097.7 349.6,1097.3 C350.7,1096.8 351.8,1096.4 352.9,1096 C354,1095.6 355.2,1095.3 356.4,1095.1 C357.5,1094.9 358.7,1094.7 360,1094.6 C361.3,1094.6 362.6,1094.6 363.9,1094.7 C365.2,1094.9 366.5,1095.1 367.7,1095.4 C368.9,1095.7 370.1,1096.1 371.2,1096.6 C372.4,1097 373.5,1097.5 374.6,1098.1 C375.7,1098.6 376.7,1099.2 377.8,1099.9 C378.8,1100.5 379.8,1101.2 380.8,1101.9 C381.8,1102.6 382.8,1103.4 383.8,1104.1 C384.7,1104.9 385.7,1105.7 386.6,1106.5 C387.6,1107.3 388.5,1108.2 389.4,1109.1 C390.3,1109.9 391.2,1110.8 392.1,1111.7 C393,1112.6 393.9,1113.6 394.8,1114.5 C395.7,1115.4 396.5,1116.4 397.4,1117.4 C398.3,1118.3 399.1,1119.3 400,1120.3 C400.8,1121.3 401.6,1122.3 402.5,1123.3 C403.3,1124.3 404.1,1125.3 405,1126.3 C405.8,1127.3 406.6,1128.3 407.5,1129.3 C408.3,1130.3 409.1,1131.3 410,1132.2 C410.8,1133.1 411.7,1134.1 412.5,1134.9 C413.4,1135.8 414.3,1136.7 415.2,1137.4 C416.1,1138.2 417,1139 418,1139.6 C419,1140.2 419.9,1140.8 421,1141.3 C422,1141.7 423.1,1142.1 424.3,1142.2 C425.5,1142.3 426.9,1142.2 428.1,1141.7 C429.3,1141.3 430.4,1140.6 431.5,1139.8 C432.5,1138.9 433.4,1137.9 434.3,1136.7 C435.2,1135.6 436,1134.4 436.7,1133.1 C437.5,1131.8 438.2,1130.4 438.9,1129 C439.6,1127.6 440.2,1126.1 440.8,1124.6 C441.5,1123.2 442.1,1121.6 442.7,1120.1 C443.3,1118.5 443.8,1117 444.4,1115.4 C445,1113.8 445.5,1112.2 446.1,1110.5 C446.6,1108.9 447.2,1107.3 447.7,1105.6 C448.2,1104 448.7,1102.3 449.2,1100.6 C449.7,1098.9 450.2,1097.3 450.7,1095.6 C451.2,1093.9 451.7,1092.1 452.2,1090.4 C452.7,1088.7 453.2,1086.9 453.7,1085.1 C454.1,1083.4 454.6,1081.6 455,1079.7 C455.5,1077.9 455.9,1076.1 456.4,1074.2 C456.8,1072.4 457.2,1070.5 457.6,1068.6 C458.1,1066.7 458.5,1064.7 458.9,1062.8 C459.2,1060.9 459.6,1058.9 460,1057 C460.4,1055 460.8,1053.1 461.1,1051.1 C461.5,1049.1 461.9,1047.2 462.2,1045.2 C462.6,1043.2 462.9,1041.2 463.3,1039.2 C463.6,1037.2 464,1035.2 464.3,1033.2 C464.7,1031.2 465,1029.2 465.3,1027.2 C465.7,1025.2 466,1023.2 466.4,1021.2 C466.7,1019.2 467,1017.1 467.3,1015.1 C467.7,1013.1 468,1011.1 468.3,1009.1 C468.7,1007.1 469,1005 469.3,1003 C469.6,1001 470,999 470.3,997 C470.6,994.9 470.9,992.9 471.3,990.9 C471.6,988.9 471.9,986.9 472.2,984.9 C472.6,982.9 472.9,980.9 473.2,978.8 C473.5,976.8 473.9,974.8 474.2,972.8 C474.5,970.8 474.9,968.8 475.2,966.9 C475.5,964.9 475.9,962.9 476.2,960.9 C476.5,958.9 476.9,957 477.2,955 C477.5,953 477.9,951.1 478.2,949.1 C478.6,947.2 478.9,945.2 479.3,943.3 C479.6,941.4 480,939.4 480.4,937.5 C480.7,935.6 481.1,933.7 481.5,931.9 C481.8,930 482.2,928.1 482.6,926.3 C483,924.5 483.4,922.7 483.8,920.9 C484.2,919.1 484.7,916.9 485,915.6 C485.3,914.3 485.5,913.7 485.6,913.3" stroke="#ff0000" stroke-width="2.6" fill="none" stroke-linejoin="round" clip-path="url(#cld)"/>
<line x1="113" y1="1112.4" x2="113" y2="1165" stroke="#000" stroke-width="2.4"/>
<rect x="110.1" y="1111.15" width="5.8" height="2.6" rx="0.5" fill="#000"/>
<rect x="110.1" y="1163.75" width="5.8" height="2.6" rx="0.5" fill="#000"/>
<rect x="107.2" y="1133.2" width="11.6" height="11.6" fill="#000"/>
<line x1="148.4" y1="1158" x2="148.4" y2="1187" stroke="#000" stroke-width="2.4"/>
<rect x="145.5" y="1156.75" width="5.8" height="2.6" rx="0.5" fill="#000"/>
<rect x="145.5" y="1185.75" width="5.8" height="2.6" rx="0.5" fill="#000"/>
<rect x="142.6" y="1166.6" width="11.6" height="11.6" fill="#000"/>
<line x1="184" y1="1130" x2="184" y2="1175" stroke="#000" stroke-width="2.4"/>
<rect x="181.1" y="1128.75" width="5.8" height="2.6" rx="0.5" fill="#000"/>
<rect x="181.1" y="1173.75" width="5.8" height="2.6" rx="0.5" fill="#000"/>
<rect x="178.2" y="1147.2" width="11.6" height="11.6" fill="#000"/>
<line x1="219.4" y1="1119" x2="219.4" y2="1169" stroke="#000" stroke-width="2.4"/>
<rect x="216.5" y="1117.75" width="5.8" height="2.6" rx="0.5" fill="#000"/>
<rect x="216.5" y="1167.75" width="5.8" height="2.6" rx="0.5" fill="#000"/>
<rect x="213.6" y="1138.6" width="11.6" height="11.6" fill="#000"/>
<line x1="255" y1="1112.4" x2="255" y2="1165" stroke="#000" stroke-width="2.4"/>
<rect x="252.1" y="1111.15" width="5.8" height="2.6" rx="0.5" fill="#000"/>
<rect x="252.1" y="1163.75" width="5.8" height="2.6" rx="0.5" fill="#000"/>
<rect x="249.2" y="1133.2" width="11.6" height="11.6" fill="#000"/>
<line x1="290.4" y1="1084" x2="290.4" y2="1147.6" stroke="#000" stroke-width="2.4"/>
<rect x="287.5" y="1082.75" width="5.8" height="2.6" rx="0.5" fill="#000"/>
<rect x="287.5" y="1146.35" width="5.8" height="2.6" rx="0.5" fill="#000"/>
<rect x="284.6" y="1110.2" width="11.6" height="11.6" fill="#000"/>
<line x1="326" y1="1063" x2="326" y2="1134.6" stroke="#000" stroke-width="2.4"/>
<rect x="323.1" y="1061.75" width="5.8" height="2.6" rx="0.5" fill="#000"/>
<rect x="323.1" y="1133.35" width="5.8" height="2.6" rx="0.5" fill="#000"/>
<rect x="320.2" y="1093.2" width="11.6" height="11.6" fill="#000"/>
<line x1="361.4" y1="1080" x2="361.4" y2="1145.6" stroke="#000" stroke-width="2.4"/>
<rect x="358.5" y="1078.75" width="5.8" height="2.6" rx="0.5" fill="#000"/>
<rect x="358.5" y="1144.35" width="5.8" height="2.6" rx="0.5" fill="#000"/>
<rect x="355.6" y="1107.2" width="11.6" height="11.6" fill="#000"/>
<line x1="397" y1="1051.6" x2="397" y2="1127" stroke="#000" stroke-width="2.4"/>
<rect x="394.1" y="1050.35" width="5.8" height="2.6" rx="0.5" fill="#000"/>
<rect x="394.1" y="1125.75" width="5.8" height="2.6" rx="0.5" fill="#000"/>
<rect x="391.2" y="1083.6" width="11.6" height="11.6" fill="#000"/>
<line x1="432.4" y1="1137" x2="432.4" y2="1178.4" stroke="#000" stroke-width="2.4"/>
<rect x="429.5" y="1135.75" width="5.8" height="2.6" rx="0.5" fill="#000"/>
<rect x="429.5" y="1177.15" width="5.8" height="2.6" rx="0.5" fill="#000"/>
<rect x="426.6" y="1151.8" width="11.6" height="11.6" fill="#000"/>
<line x1="467.8" y1="996.9" x2="467.8" y2="1088" stroke="#000" stroke-width="2.4"/>
<rect x="464.9" y="995.65" width="5.8" height="2.6" rx="0.5" fill="#000"/>
<rect x="464.9" y="1086.75" width="5.8" height="2.6" rx="0.5" fill="#000"/>
<rect x="462" y="1036.2" width="11.6" height="11.6" fill="#000"/>
<path d="M485.6,167.7 C486.2,167.8 488.1,168.2 489.3,168.4 C490.5,168.7 491.7,169 492.9,169.3 C494.1,169.6 495.3,170 496.4,170.4 C497.6,170.7 498.7,171.1 499.9,171.5 C501,172 502.1,172.4 503.3,172.8 C504.4,173.3 505.5,173.8 506.6,174.2 C507.7,174.7 508.8,175.2 509.9,175.7 C511,176.2 512,176.8 513.1,177.3 C514.2,177.8 515.2,178.4 516.3,178.9 C517.4,179.5 518.4,180.1 519.5,180.6 C520.5,181.2 521.6,181.8 522.6,182.4 C523.7,182.9 524.7,183.5 525.8,184.1 C526.8,184.7 527.8,185.3 528.9,185.9 C529.9,186.6 530.9,187.2 531.9,187.8 C533,188.4 534,189 535,189.6 C536.1,190.2 537.1,190.9 538.1,191.5 C539.1,192.1 540.2,192.7 541.2,193.3 C542.2,194 543.2,194.6 544.2,195.2 C545.3,195.8 546.3,196.4 547.3,197.1 C548.3,197.7 549.4,198.3 550.4,198.9 C551.4,199.5 552.4,200.1 553.5,200.7 C554.5,201.3 555.5,201.9 556.6,202.5 C557.6,203.1 558.7,203.6 559.7,204.2 C560.7,204.8 561.8,205.3 562.8,205.9 C563.9,206.5 564.9,207 566,207.5 C567.1,208.1 568.1,208.6 569.2,209.1 C570.3,209.6 571.3,210.1 572.4,210.6 C573.5,211.1 574.6,211.6 575.7,212 C576.8,212.5 577.9,212.9 579,213.3 C580.1,213.8 581.2,214.2 582.4,214.5 C583.5,214.9 584.6,215.3 585.8,215.6 C586.9,216 588.1,216.3 589.3,216.6 C590.5,216.8 591.6,217.1 592.8,217.3 C594,217.5 595.3,217.7 596.5,217.9 C597.7,218.1 599,218.2 600.3,218.3 C601.5,218.3 602.8,218.4 604.1,218.4 C605.5,218.4 606.8,218.4 608.1,218.3 C609.4,218.2 610.7,218.1 612,218 C613.3,217.8 614.6,217.6 615.8,217.4 C617.1,217.2 618.3,217 619.5,216.8 C620.7,216.5 621.9,216.2 623.1,216 C624.3,215.7 625.5,215.3 626.7,215 C627.9,214.7 629.1,214.3 630.2,214 C631.4,213.6 632.5,213.2 633.7,212.8 C634.8,212.4 636,212 637.1,211.6 C638.2,211.2 639.4,210.8 640.5,210.3 C641.6,209.9 642.7,209.5 643.8,209 C644.9,208.5 646,208.1 647.1,207.6 C648.2,207.1 649.3,206.7 650.4,206.2 C651.5,205.7 652.6,205.2 653.7,204.7 C654.8,204.2 655.9,203.7 657,203.2 C658.1,202.7 659.1,202.2 660.2,201.7 C661.3,201.2 662.4,200.7 663.5,200.2 C664.6,199.7 665.6,199.2 666.7,198.7 C667.8,198.2 668.9,197.7 670,197.2 C671.1,196.8 672.2,196.3 673.2,195.8 C674.3,195.3 675.4,194.9 676.5,194.4 C677.6,194 678.7,193.5 679.9,193.1 C681,192.7 682.1,192.3 683.2,191.9 C684.3,191.5 685.5,191.1 686.6,190.8 C687.8,190.4 688.9,190.1 690.1,189.8 C691.3,189.5 692.4,189.2 693.6,188.9 C694.8,188.7 696,188.4 697.2,188.2 C698.5,188.1 699.7,187.9 700.9,187.8 C702.2,187.7 703.5,187.6 704.8,187.6 C706.1,187.6 707.4,187.6 708.7,187.7 C710.1,187.8 711.3,187.9 712.6,188.1 C713.9,188.3 715.1,188.5 716.4,188.7 C717.6,189 718.8,189.3 720,189.6 C721.2,189.9 722.3,190.3 723.5,190.7 C724.7,191.1 725.8,191.5 726.9,191.9 C728.1,192.3 729.2,192.8 730.3,193.3 C731.4,193.8 732.5,194.3 733.6,194.8 C734.6,195.4 735.7,195.9 736.8,196.5 C737.8,197.1 738.9,197.7 739.9,198.3 C741,198.9 742,199.5 743,200.1 C744,200.8 745.1,201.4 746.1,202.1 C747.1,202.8 748.1,203.5 749.1,204.2 C750.1,204.9 751,205.6 752,206.3 C753,207 754,207.7 754.9,208.5 C755.9,209.2 756.9,210 757.8,210.8 C758.8,211.5 759.7,212.3 760.7,213.1 C761.6,213.9 762.6,214.7 763.5,215.5 C764.4,216.3 765.4,217.1 766.3,217.9 C767.2,218.8 768.2,219.6 769.1,220.4 C770,221.3 770.9,222.1 771.8,223 C772.7,223.8 773.6,224.7 774.6,225.5 C775.5,226.4 776.4,227.2 777.3,228.1 C778.2,228.9 779.1,229.8 780,230.7 C780.9,231.5 781.8,232.4 782.7,233.2 C783.6,234.1 784.5,234.9 785.4,235.8 C786.3,236.6 787.2,237.4 788.2,238.3 C789.1,239.1 790,239.9 790.9,240.7 C791.8,241.5 792.8,242.4 793.7,243.1 C794.6,243.9 795.5,244.7 796.5,245.5 C797.4,246.3 798.4,247 799.3,247.7 C800.3,248.5 801.2,249.2 802.2,249.9 C803.2,250.6 804.1,251.3 805.1,252 C806.1,252.7 807.1,253.4 808.1,254 C809.1,254.7 810.1,255.3 811.1,255.9 C812.1,256.5 813.2,257.1 814.2,257.7 C815.2,258.2 816.3,258.8 817.3,259.3 C818.4,259.8 819.5,260.3 820.5,260.8 C821.6,261.3 822.7,261.8 823.8,262.2 C824.9,262.7 826,263.1 827.1,263.5 C828.3,263.8 829.4,264.2 830.5,264.5 C831.7,264.9 832.9,265.2 834,265.5 C835.2,265.7 836.4,266 837.6,266.2 C838.8,266.4 840.1,266.6 841.3,266.7 C842.6,266.8 843.8,266.9 845.1,267 C846.4,267.1 847.7,267.1 849,267.1 C850.3,267 851.7,267 853,266.9 C854.3,266.8 855.6,266.6 856.8,266.5 C858.1,266.3 859.4,266.2 860.6,266 C861.8,265.8 863.1,265.6 864.3,265.3 C865.5,265.1 866.8,264.9 868,264.7 C869.2,264.4 870.5,264.2 871.6,263.9 C872.7,263.7 874,263.5 874.5,263.4" stroke="#00ff00" stroke-width="2.6" fill="none" stroke-dasharray="5.6 5.0" clip-path="url(#cra)"/>
<path d="M485.6,158.2 C486.2,158 488,157.4 489.1,157 C490.2,156.5 491.3,156 492.4,155.4 C493.5,154.8 494.5,154.2 495.5,153.5 C496.6,152.8 497.6,152.1 498.6,151.4 C499.6,150.7 500.5,149.9 501.5,149.1 C502.4,148.3 503.4,147.5 504.3,146.7 C505.3,145.9 506.2,145 507.1,144.1 C508,143.3 508.9,142.4 509.8,141.5 C510.7,140.6 511.6,139.7 512.5,138.8 C513.4,137.9 514.2,136.9 515.1,136 C516,135.1 516.9,134.1 517.7,133.2 C518.6,132.2 519.4,131.3 520.3,130.3 C521.2,129.4 522,128.4 522.9,127.5 C523.7,126.5 524.6,125.5 525.4,124.6 C526.3,123.6 527.1,122.6 528,121.7 C528.8,120.7 529.7,119.8 530.5,118.8 C531.4,117.9 532.3,116.9 533.1,116 C534,115 534.8,114.1 535.7,113.2 C536.6,112.2 537.4,111.3 538.3,110.4 C539.2,109.5 540,108.6 540.9,107.7 C541.8,106.8 542.7,105.9 543.6,105.1 C544.5,104.2 545.4,103.3 546.3,102.5 C547.2,101.7 548.1,100.9 549,100.1 C549.9,99.3 550.9,98.5 551.8,97.7 C552.7,97 553.7,96.2 554.6,95.5 C555.6,94.8 556.6,94.1 557.6,93.4 C558.5,92.7 559.5,92.1 560.5,91.5 C561.5,90.9 562.6,90.3 563.6,89.8 C564.6,89.2 565.7,88.7 566.8,88.2 C567.9,87.8 568.9,87.4 570.1,87 C571.2,86.6 572.3,86.3 573.5,86 C574.7,85.8 575.9,85.6 577.1,85.4 C578.3,85.3 579.6,85.3 580.9,85.3 C582.2,85.4 583.6,85.5 584.8,85.7 C586.1,86 587.3,86.3 588.5,86.7 C589.7,87.1 590.8,87.5 591.9,88 C593,88.6 594.1,89.1 595.2,89.8 C596.2,90.4 597.2,91.1 598.3,91.8 C599.3,92.5 600.2,93.2 601.2,94 C602.2,94.8 603.1,95.6 604.1,96.4 C605,97.3 605.9,98.2 606.8,99.1 C607.7,100 608.6,100.9 609.5,101.8 C610.4,102.8 611.2,103.7 612.1,104.7 C612.9,105.7 613.8,106.7 614.6,107.7 C615.5,108.8 616.3,109.8 617.1,110.9 C617.9,111.9 618.7,113 619.5,114.1 C620.3,115.2 621.1,116.3 621.9,117.4 C622.7,118.5 623.5,119.6 624.3,120.8 C625,121.9 625.8,123.1 626.6,124.2 C627.3,125.4 628.1,126.6 628.8,127.7 C629.6,128.9 630.3,130.1 631.1,131.3 C631.8,132.5 632.6,133.7 633.3,135 C634,136.2 634.7,137.4 635.5,138.6 C636.2,139.9 636.9,141.1 637.6,142.3 C638.3,143.6 639.1,144.8 639.8,146.1 C640.5,147.4 641.2,148.6 641.9,149.9 C642.6,151.2 643.3,152.5 644,153.8 C644.7,155.1 645.4,156.4 646,157.7 C646.7,159 647.4,160.3 648.1,161.6 C648.8,162.9 649.5,164.3 650.1,165.6 C650.8,166.9 651.5,168.3 652.1,169.6 C652.8,171 653.5,172.4 654.1,173.7 C654.8,175.1 655.4,176.5 656.1,177.8 C656.7,179.2 657.4,180.6 658,182 C658.7,183.4 659.3,184.8 659.9,186.2 C660.6,187.6 661.2,189 661.8,190.3 C662.5,191.7 663.1,193.1 663.8,194.4 C664.4,195.7 665.1,197 665.8,198.3 C666.4,199.6 667.1,200.9 667.8,202.1 C668.5,203.4 669.2,204.6 669.9,205.8 C670.6,207 671.3,208.2 672.1,209.4 C672.8,210.5 673.5,211.7 674.3,212.9 C675,214 675.8,215.1 676.5,216.2 C677.3,217.4 678.1,218.4 678.8,219.5 C679.6,220.6 680.4,221.7 681.2,222.7 C682,223.7 682.8,224.7 683.6,225.7 C684.5,226.7 685.3,227.7 686.1,228.6 C687,229.6 687.8,230.5 688.7,231.4 C689.6,232.3 690.4,233.2 691.3,234.1 C692.2,234.9 693.1,235.7 694,236.5 C694.9,237.3 695.9,238.1 696.8,238.9 C697.7,239.6 698.7,240.3 699.7,241 C700.6,241.7 701.6,242.3 702.6,242.9 C703.6,243.5 704.7,244.1 705.7,244.6 C706.8,245.2 707.8,245.7 708.9,246.1 C710,246.6 711.1,247 712.2,247.3 C713.3,247.7 714.5,248 715.6,248.3 C716.8,248.6 718,248.8 719.2,248.9 C720.5,249.1 721.7,249.2 723,249.2 C724.3,249.3 725.6,249.2 726.9,249.2 C728.2,249.1 729.5,248.9 730.8,248.8 C732.1,248.6 733.3,248.4 734.6,248.2 C735.8,247.9 737,247.7 738.2,247.4 C739.4,247.1 740.6,246.8 741.8,246.5 C743,246.2 744.2,245.9 745.3,245.5 C746.5,245.2 747.7,244.9 748.8,244.5 C750,244.2 751.2,243.9 752.3,243.5 C753.5,243.2 754.7,242.9 755.9,242.6 C757,242.3 758.2,242 759.4,241.7 C760.6,241.4 761.8,241.1 763,240.9 C764.2,240.7 765.4,240.5 766.6,240.3 C767.8,240.1 769.1,240 770.3,239.9 C771.6,239.8 772.9,239.7 774.2,239.7 C775.5,239.7 776.9,239.8 778.2,239.8 C779.5,239.9 780.8,240 782.1,240.2 C783.4,240.3 784.6,240.5 785.9,240.7 C787.1,240.9 788.3,241.1 789.5,241.4 C790.8,241.7 792,242 793.2,242.3 C794.3,242.6 795.5,242.9 796.7,243.3 C797.9,243.6 799,244 800.2,244.4 C801.3,244.8 802.4,245.2 803.6,245.6 C804.7,246.1 805.8,246.5 806.9,247 C808.1,247.4 809.2,247.9 810.3,248.4 C811.4,248.9 812.4,249.4 813.5,249.9 C814.6,250.4 815.7,250.9 816.8,251.4 C817.9,251.9 818.9,252.5 820,253 C821.1,253.6 822.1,254.1 823.2,254.7 C824.2,255.2 825.3,255.8 826.3,256.4 C827.4,257 828.4,257.5 829.5,258.1 C830.5,258.7 831.6,259.3 832.6,259.9 C833.6,260.5 834.7,261.1 835.7,261.7 C836.8,262.3 837.8,262.9 838.8,263.5 C839.8,264.1 840.9,264.7 841.9,265.3 C842.9,265.9 844,266.6 845,267.2 C846,267.8 847,268.4 848.1,269 C849.1,269.6 850.1,270.2 851.2,270.8 C852.2,271.5 853.2,272.1 854.2,272.7 C855.3,273.3 856.3,273.9 857.3,274.5 C858.4,275.1 859.4,275.7 860.4,276.3 C861.4,276.9 862.5,277.5 863.5,278.1 C864.6,278.7 865.6,279.2 866.6,279.8 C867.7,280.4 868.7,281 869.8,281.5 C870.8,282.1 872.4,282.9 872.9,283.2 C873.4,283.5 873,283.3 873,283.3" stroke="#0000ff" stroke-width="2.7" fill="none" stroke-dasharray="2.6 2.65" clip-path="url(#cra)"/>
<path d="M485.6,140.8 C486.2,140.9 488,141.3 489.2,141.6 C490.4,141.9 491.6,142.2 492.8,142.5 C493.9,142.8 495.1,143.1 496.3,143.4 C497.5,143.7 498.7,144.1 499.8,144.4 C501,144.7 502.2,145.1 503.3,145.4 C504.5,145.7 505.7,146.1 506.8,146.4 C508,146.7 509.2,147.1 510.3,147.4 C511.5,147.8 512.7,148.1 513.8,148.5 C515,148.8 516.1,149.1 517.3,149.5 C518.5,149.8 519.6,150.2 520.8,150.5 C521.9,150.9 523.1,151.2 524.3,151.6 C525.4,151.9 526.6,152.2 527.7,152.6 C528.9,152.9 530.1,153.3 531.2,153.6 C532.4,153.9 533.6,154.2 534.7,154.6 C535.9,154.9 537.1,155.2 538.3,155.5 C539.4,155.8 540.6,156.1 541.8,156.4 C543,156.7 544.2,157 545.3,157.3 C546.5,157.6 547.7,157.9 548.9,158.1 C550.1,158.4 551.3,158.7 552.5,158.9 C553.7,159.2 554.9,159.4 556.1,159.7 C557.3,159.9 558.5,160.1 559.8,160.4 C561,160.6 562.2,160.8 563.4,161 C564.7,161.2 565.9,161.4 567.1,161.6 C568.3,161.8 569.6,162 570.8,162.2 C572.1,162.4 573.3,162.5 574.5,162.7 C575.8,162.9 577,163.1 578.3,163.2 C579.5,163.4 580.8,163.5 582,163.7 C583.3,163.9 584.5,164 585.8,164.2 C587.1,164.3 588.3,164.4 589.6,164.6 C590.8,164.7 592.1,164.9 593.4,165 C594.6,165.1 595.9,165.3 597.2,165.4 C598.4,165.6 599.7,165.7 601,165.8 C602.2,166 603.5,166.1 604.8,166.2 C606,166.4 607.3,166.5 608.6,166.6 C609.8,166.8 611.1,166.9 612.3,167.1 C613.6,167.2 614.9,167.4 616.1,167.6 C617.4,167.7 618.6,167.9 619.9,168.1 C621.1,168.2 622.4,168.4 623.6,168.6 C624.8,168.8 626.1,169 627.3,169.2 C628.6,169.4 629.8,169.6 631,169.9 C632.2,170.1 633.4,170.4 634.7,170.6 C635.9,170.9 637.1,171.1 638.3,171.4 C639.5,171.7 640.7,172 641.9,172.3 C643,172.6 644.2,172.9 645.4,173.3 C646.6,173.6 647.7,174 648.9,174.3 C650.1,174.7 651.2,175.1 652.3,175.5 C653.5,175.9 654.6,176.3 655.8,176.7 C656.9,177.1 658,177.6 659.1,178 C660.2,178.5 661.3,178.9 662.4,179.4 C663.5,179.9 664.6,180.4 665.7,180.9 C666.8,181.4 667.9,181.9 669,182.5 C670,183 671.1,183.5 672.2,184.1 C673.2,184.6 674.3,185.2 675.4,185.7 C676.4,186.3 677.5,186.9 678.5,187.5 C679.6,188 680.6,188.6 681.7,189.2 C682.7,189.8 683.7,190.4 684.8,191 C685.8,191.6 686.8,192.2 687.9,192.8 C688.9,193.4 689.9,194.1 691,194.7 C692,195.3 693,195.9 694,196.6 C695,197.2 696.1,197.8 697.1,198.4 C698.1,199.1 699.1,199.7 700.1,200.4 C701.2,201 702.2,201.6 703.2,202.3 C704.2,202.9 705.2,203.5 706.2,204.2 C707.2,204.8 708.2,205.5 709.3,206.1 C710.3,206.8 711.3,207.4 712.3,208 C713.3,208.7 714.3,209.3 715.3,210 C716.3,210.6 717.4,211.2 718.4,211.9 C719.4,212.5 720.4,213.2 721.4,213.8 C722.4,214.4 723.4,215.1 724.5,215.7 C725.5,216.4 726.5,217 727.5,217.6 C728.5,218.2 729.5,218.9 730.6,219.5 C731.6,220.1 732.6,220.8 733.6,221.4 C734.6,222 735.6,222.6 736.7,223.2 C737.7,223.9 738.7,224.5 739.7,225.1 C740.8,225.7 741.8,226.3 742.8,226.9 C743.9,227.5 744.9,228.1 745.9,228.7 C747,229.3 748,229.9 749,230.5 C750.1,231.1 751.1,231.6 752.1,232.2 C753.2,232.8 754.2,233.4 755.3,233.9 C756.3,234.5 757.4,235.1 758.4,235.6 C759.5,236.2 760.5,236.7 761.6,237.3 C762.7,237.8 763.7,238.3 764.8,238.9 C765.8,239.4 766.9,239.9 768,240.4 C769.1,240.9 770.1,241.4 771.2,241.9 C772.3,242.4 773.4,242.9 774.5,243.4 C775.6,243.9 776.7,244.3 777.7,244.8 C778.8,245.3 779.9,245.7 781.1,246.1 C782.2,246.6 783.3,247 784.4,247.4 C785.5,247.8 786.6,248.3 787.8,248.6 C788.9,249 790,249.4 791.2,249.8 C792.3,250.2 793.5,250.5 794.6,250.9 C795.8,251.2 796.9,251.5 798.1,251.8 C799.3,252.1 800.4,252.4 801.6,252.7 C802.8,253 804,253.3 805.2,253.5 C806.4,253.7 807.6,254 808.8,254.2 C810.1,254.4 811.3,254.6 812.5,254.8 C813.8,255 815,255.1 816.2,255.3 C817.5,255.4 818.8,255.6 820,255.7 C821.3,255.8 822.6,255.9 823.8,256 C825.1,256.1 826.4,256.2 827.7,256.3 C829,256.4 830.2,256.5 831.5,256.5 C832.8,256.6 834.1,256.7 835.4,256.7 C836.7,256.8 838.1,256.8 839.4,256.9 C840.7,256.9 842,257 843.3,257 C844.6,257 845.9,257.1 847.2,257.1 C848.5,257.2 849.9,257.2 851.2,257.3 C852.5,257.3 853.8,257.3 855.1,257.4 C856.4,257.5 857.7,257.5 859,257.6 C860.3,257.6 861.6,257.7 862.9,257.8 C864.2,257.9 865.5,258 866.8,258.1 C868.1,258.2 869.4,258.3 870.7,258.4 C871.9,258.5 873.8,258.7 874.5,258.8 C875.1,258.9 874.5,258.8 874.5,258.8" stroke="#ff0000" stroke-width="2.6" fill="none" stroke-linejoin="round" clip-path="url(#cra)"/>
<line x1="544" y1="136.6" x2="544" y2="220.4" stroke="#000" stroke-width="2.4"/>
<rect x="541.1" y="135.35" width="5.8" height="2.6" rx="0.5" fill="#000"/>
<rect x="541.1" y="219.15" width="5.8" height="2.6" rx="0.5" fill="#000"/>
<rect x="538.2" y="172.6" width="11.6" height="11.6" fill="#000"/>
<line x1="583" y1="118" x2="583" y2="161" stroke="#000" stroke-width="2.4"/>
<rect x="580.1" y="116.75" width="5.8" height="2.6" rx="0.5" fill="#000"/>
<rect x="580.1" y="159.75" width="5.8" height="2.6" rx="0.5" fill="#000"/>
<rect x="577.2" y="133.6" width="11.6" height="11.6" fill="#000"/>
<line x1="622.6" y1="140" x2="622.6" y2="167" stroke="#000" stroke-width="2.4"/>
<rect x="619.7" y="138.75" width="5.8" height="2.6" rx="0.5" fill="#000"/>
<rect x="619.7" y="165.75" width="5.8" height="2.6" rx="0.5" fill="#000"/>
<rect x="616.8" y="147.6" width="11.6" height="11.6" fill="#000"/>
<line x1="661.4" y1="176" x2="661.4" y2="195" stroke="#000" stroke-width="2.4"/>
<rect x="658.5" y="174.75" width="5.8" height="2.6" rx="0.5" fill="#000"/>
<rect x="658.5" y="193.75" width="5.8" height="2.6" rx="0.5" fill="#000"/>
<rect x="655.6" y="180.2" width="11.6" height="11.6" fill="#000"/>
<line x1="700.4" y1="197" x2="700.4" y2="213.6" stroke="#000" stroke-width="2.4"/>
<rect x="697.5" y="195.75" width="5.8" height="2.6" rx="0.5" fill="#000"/>
<rect x="697.5" y="212.35" width="5.8" height="2.6" rx="0.5" fill="#000"/>
<rect x="694.6" y="199.2" width="11.6" height="11.6" fill="#000"/>
<line x1="739.6" y1="202" x2="739.6" y2="217" stroke="#000" stroke-width="2.4"/>
<rect x="736.7" y="200.75" width="5.8" height="2.6" rx="0.5" fill="#000"/>
<rect x="736.7" y="215.75" width="5.8" height="2.6" rx="0.5" fill="#000"/>
<rect x="733.8" y="203.2" width="11.6" height="11.6" fill="#000"/>
<line x1="778.4" y1="241" x2="778.4" y2="252" stroke="#000" stroke-width="2.4"/>
<rect x="775.5" y="239.75" width="5.8" height="2.6" rx="0.5" fill="#000"/>
<rect x="775.5" y="250.75" width="5.8" height="2.6" rx="0.5" fill="#000"/>
<rect x="772.6" y="240.6" width="11.6" height="11.6" fill="#000"/>
<line x1="817.6" y1="255" x2="817.6" y2="264" stroke="#000" stroke-width="2.4"/>
<rect x="814.7" y="253.75" width="5.8" height="2.6" rx="0.5" fill="#000"/>
<rect x="814.7" y="262.75" width="5.8" height="2.6" rx="0.5" fill="#000"/>
<rect x="811.8" y="253.8" width="11.6" height="11.6" fill="#000"/>
<line x1="857" y1="252.5" x2="857" y2="264.5" stroke="#000" stroke-width="2.4"/>
<rect x="854.1" y="251.25" width="5.8" height="2.6" rx="0.5" fill="#000"/>
<rect x="854.1" y="263.25" width="5.8" height="2.6" rx="0.5" fill="#000"/>
<rect x="851.2" y="252.6" width="11.6" height="11.6" fill="#000"/>
<path d="M485.6,507.6 C486.2,507.4 488,506.9 489.1,506.5 C490.3,506.1 491.4,505.7 492.6,505.3 C493.7,504.8 494.8,504.3 495.9,503.8 C497,503.3 498,502.7 499.1,502.2 C500.2,501.6 501.2,501 502.3,500.5 C503.3,499.9 504.4,499.2 505.4,498.6 C506.4,498 507.4,497.3 508.5,496.7 C509.5,496 510.5,495.4 511.5,494.7 C512.5,494 513.5,493.3 514.5,492.6 C515.5,491.9 516.5,491.2 517.4,490.5 C518.4,489.8 519.4,489.1 520.4,488.4 C521.4,487.7 522.3,487 523.3,486.2 C524.3,485.5 525.3,484.8 526.2,484.1 C527.2,483.3 528.2,482.6 529.1,481.9 C530.1,481.1 531.1,480.4 532,479.7 C533,479 534,478.2 535,477.5 C535.9,476.8 536.9,476.1 537.9,475.4 C538.9,474.7 539.8,474 540.8,473.3 C541.8,472.6 542.8,471.9 543.8,471.2 C544.8,470.5 545.7,469.9 546.7,469.2 C547.7,468.6 548.7,467.9 549.8,467.3 C550.8,466.7 551.8,466 552.8,465.4 C553.8,464.8 554.9,464.2 555.9,463.7 C556.9,463.1 558,462.6 559,462 C560.1,461.5 561.2,461 562.2,460.5 C563.3,460.1 564.4,459.6 565.5,459.2 C566.6,458.8 567.7,458.4 568.9,458 C570,457.7 571.2,457.3 572.3,457.1 C573.5,456.8 574.7,456.6 575.9,456.4 C577.1,456.2 578.4,456.1 579.7,456.1 C580.9,456 582.3,456 583.6,456.1 C584.9,456.2 586.2,456.3 587.4,456.6 C588.7,456.8 589.9,457.1 591.1,457.5 C592.3,457.8 593.4,458.3 594.6,458.7 C595.7,459.2 596.8,459.7 597.9,460.3 C598.9,460.9 600,461.5 601,462.2 C602,462.9 603,463.6 604,464.3 C605,465.1 606,465.8 606.9,466.6 C607.9,467.4 608.8,468.2 609.8,469.1 C610.7,469.9 611.6,470.8 612.5,471.7 C613.4,472.6 614.3,473.5 615.2,474.4 C616.1,475.3 617,476.3 617.8,477.2 C618.7,478.2 619.6,479.1 620.4,480.1 C621.3,481.1 622.1,482.1 623,483.1 C623.8,484.1 624.6,485.1 625.5,486.1 C626.3,487.1 627.1,488.2 627.9,489.2 C628.8,490.2 629.6,491.3 630.4,492.3 C631.2,493.4 632,494.4 632.8,495.5 C633.6,496.6 634.4,497.6 635.2,498.7 C636,499.8 636.8,500.8 637.6,501.9 C638.4,503 639.2,504.1 640,505.2 C640.8,506.2 641.6,507.3 642.4,508.4 C643.2,509.5 644,510.6 644.8,511.6 C645.6,512.7 646.4,513.8 647.2,514.9 C648,516 648.8,517 649.5,518.1 C650.3,519.2 651.1,520.3 651.9,521.3 C652.7,522.4 653.5,523.5 654.3,524.5 C655.1,525.6 655.9,526.6 656.7,527.7 C657.5,528.7 658.3,529.8 659.2,530.8 C660,531.9 660.8,532.9 661.6,533.9 C662.4,534.9 663.2,536 664,537 C664.9,538 665.7,539 666.5,540 C667.3,541 668.2,542 669,542.9 C669.9,543.9 670.7,544.9 671.5,545.9 C672.4,546.8 673.2,547.8 674.1,548.7 C675,549.6 675.8,550.5 676.7,551.5 C677.6,552.4 678.4,553.3 679.3,554.1 C680.2,555 681.1,555.9 682,556.7 C682.9,557.6 683.8,558.4 684.7,559.2 C685.6,560 686.5,560.8 687.5,561.6 C688.4,562.4 689.3,563.1 690.3,563.9 C691.2,564.6 692.2,565.3 693.2,566 C694.2,566.6 695.2,567.3 696.2,567.9 C697.2,568.5 698.2,569.1 699.2,569.7 C700.3,570.2 701.3,570.7 702.4,571.2 C703.5,571.7 704.5,572.1 705.7,572.5 C706.8,572.9 707.9,573.3 709,573.6 C710.2,573.9 711.4,574.2 712.6,574.4 C713.8,574.7 715,574.9 716.2,575 C717.4,575.2 718.7,575.3 720,575.4 C721.2,575.4 722.5,575.5 723.9,575.5 C725.2,575.5 726.5,575.4 727.8,575.3 C729.2,575.3 730.5,575.2 731.7,575 C733,574.9 734.3,574.8 735.6,574.6 C736.8,574.5 738.1,574.3 739.3,574.1 C740.6,573.9 741.8,573.7 743,573.5 C744.3,573.3 745.5,573 746.7,572.8 C747.9,572.6 749.2,572.4 750.4,572.2 C751.6,572 752.8,571.7 754.1,571.5 C755.3,571.3 756.5,571.1 757.7,570.9 C759,570.7 760.2,570.6 761.5,570.4 C762.7,570.3 764,570.1 765.2,570 C766.5,569.9 767.8,569.8 769,569.7 C770.3,569.6 771.6,569.5 772.9,569.5 C774.2,569.5 775.5,569.5 776.9,569.5 C778.2,569.5 779.5,569.5 780.8,569.6 C782.2,569.6 783.5,569.7 784.8,569.8 C786.1,569.9 787.3,570 788.6,570.2 C789.9,570.3 791.2,570.5 792.4,570.6 C793.7,570.8 794.9,571 796.2,571.2 C797.4,571.4 798.6,571.6 799.8,571.9 C801.1,572.1 802.3,572.4 803.5,572.7 C804.7,573 805.9,573.2 807.1,573.6 C808.2,573.9 809.4,574.2 810.6,574.5 C811.8,574.8 812.9,575.2 814.1,575.6 C815.3,575.9 816.4,576.3 817.6,576.7 C818.7,577.1 819.9,577.5 821,577.9 C822.1,578.3 823.2,578.7 824.4,579.2 C825.5,579.6 826.6,580 827.7,580.5 C828.8,581 829.9,581.4 831,581.9 C832.1,582.4 833.2,582.9 834.3,583.4 C835.4,583.9 836.5,584.4 837.6,584.9 C838.7,585.4 839.7,585.9 840.8,586.4 C841.9,586.9 843,587.4 844.1,587.9 C845.1,588.5 846.2,589 847.3,589.5 C848.4,590 849.4,590.5 850.5,591 C851.6,591.6 852.7,592.1 853.7,592.6 C854.8,593.1 855.9,593.6 857,594.1 C858.1,594.6 859.1,595.1 860.2,595.6 C861.3,596 862.4,596.5 863.5,597 C864.6,597.4 865.7,597.9 866.8,598.3 C867.9,598.8 869,599.2 870.1,599.6 C871.3,600 872.8,600.6 873.5,600.8 C874.2,601.1 874.3,601.1 874.5,601.1" stroke="#00ff00" stroke-width="2.6" fill="none" stroke-dasharray="5.6 5.0" clip-path="url(#crb)"/>
<path d="M485.6,504.9 C486.2,504.7 487.9,504.1 489.1,503.7 C490.2,503.3 491.3,502.9 492.5,502.5 C493.6,502.1 494.7,501.6 495.8,501.2 C497,500.7 498.1,500.3 499.2,499.8 C500.3,499.3 501.4,498.8 502.5,498.4 C503.6,497.9 504.7,497.4 505.7,496.9 C506.8,496.4 507.9,495.9 509,495.4 C510.1,494.9 511.2,494.4 512.3,493.9 C513.3,493.4 514.4,492.9 515.5,492.4 C516.6,491.9 517.7,491.4 518.8,490.9 C519.8,490.4 520.9,489.9 522,489.4 C523.1,489 524.2,488.5 525.3,488 C526.4,487.5 527.5,487.1 528.6,486.6 C529.7,486.2 530.8,485.7 531.9,485.3 C533,484.9 534.1,484.5 535.3,484.1 C536.4,483.7 537.5,483.3 538.7,482.9 C539.8,482.6 541,482.2 542.1,481.9 C543.3,481.6 544.4,481.3 545.6,481 C546.8,480.8 548,480.5 549.2,480.3 C550.4,480.1 551.7,479.9 552.9,479.8 C554.1,479.6 555.4,479.5 556.7,479.5 C558,479.4 559.3,479.4 560.6,479.4 C561.9,479.4 563.3,479.4 564.6,479.5 C565.9,479.6 567.2,479.8 568.4,479.9 C569.7,480.1 570.9,480.3 572.2,480.5 C573.4,480.8 574.6,481.1 575.8,481.4 C577,481.7 578.2,482 579.4,482.4 C580.5,482.8 581.7,483.2 582.8,483.6 C584,484 585.1,484.5 586.2,484.9 C587.3,485.4 588.4,485.9 589.5,486.4 C590.6,486.9 591.7,487.5 592.7,488 C593.8,488.5 594.9,489.1 595.9,489.7 C597,490.3 598,490.9 599,491.5 C600.1,492.1 601.1,492.7 602.1,493.3 C603.2,494 604.2,494.6 605.2,495.2 C606.2,495.9 607.2,496.6 608.2,497.2 C609.2,497.9 610.2,498.6 611.2,499.2 C612.2,499.9 613.2,500.6 614.2,501.3 C615.2,502 616.2,502.7 617.2,503.4 C618.2,504.1 619.1,504.8 620.1,505.6 C621.1,506.3 622.1,507 623,507.7 C624,508.5 625,509.2 626,509.9 C626.9,510.7 627.9,511.4 628.9,512.1 C629.8,512.9 630.8,513.6 631.8,514.3 C632.7,515.1 633.7,515.8 634.6,516.6 C635.6,517.3 636.6,518 637.5,518.8 C638.5,519.5 639.5,520.3 640.4,521 C641.4,521.7 642.3,522.5 643.3,523.2 C644.3,524 645.2,524.7 646.2,525.4 C647.2,526.2 648.1,526.9 649.1,527.6 C650.1,528.3 651,529.1 652,529.8 C653,530.5 654,531.2 654.9,531.9 C655.9,532.6 656.9,533.3 657.9,534 C658.9,534.7 659.8,535.4 660.8,536.1 C661.8,536.7 662.8,537.4 663.8,538.1 C664.8,538.7 665.8,539.4 666.8,540.1 C667.8,540.7 668.8,541.4 669.8,542 C670.8,542.6 671.8,543.3 672.9,543.9 C673.9,544.5 674.9,545.1 675.9,545.7 C677,546.3 678,546.9 679,547.5 C680,548.1 681.1,548.7 682.1,549.3 C683.2,549.8 684.2,550.4 685.3,551 C686.3,551.5 687.4,552.1 688.4,552.6 C689.5,553.2 690.5,553.7 691.6,554.2 C692.7,554.8 693.7,555.3 694.8,555.8 C695.9,556.3 697,556.8 698,557.3 C699.1,557.8 700.2,558.3 701.3,558.7 C702.4,559.2 703.5,559.7 704.6,560.1 C705.7,560.6 706.8,561 707.9,561.5 C709,561.9 710.1,562.3 711.2,562.7 C712.4,563.2 713.5,563.6 714.6,564 C715.7,564.4 716.9,564.8 718,565.1 C719.2,565.5 720.3,565.9 721.4,566.2 C722.6,566.6 723.7,566.9 724.9,567.3 C726.1,567.6 727.2,567.9 728.4,568.2 C729.6,568.5 730.8,568.8 731.9,569.1 C733.1,569.4 734.3,569.6 735.5,569.9 C736.7,570.1 737.9,570.3 739.2,570.5 C740.4,570.8 741.6,570.9 742.9,571.1 C744.1,571.3 745.3,571.4 746.6,571.5 C747.9,571.7 749.1,571.8 750.4,571.8 C751.7,571.9 753,572 754.3,572 C755.6,572 757,572 758.3,572 C759.6,571.9 760.9,571.9 762.2,571.8 C763.5,571.7 764.8,571.5 766.1,571.4 C767.3,571.2 768.6,571 769.8,570.8 C771.1,570.6 772.3,570.4 773.5,570.2 C774.8,569.9 776,569.6 777.2,569.4 C778.4,569.1 779.6,568.8 780.8,568.5 C781.9,568.2 783.1,567.9 784.3,567.5 C785.5,567.2 786.6,566.8 787.8,566.5 C789,566.1 790.1,565.8 791.3,565.4 C792.4,565.1 793.6,564.7 794.7,564.3 C795.9,563.9 797,563.6 798.2,563.2 C799.3,562.8 800.5,562.4 801.6,562 C802.7,561.7 803.9,561.3 805,560.9 C806.2,560.5 807.3,560.1 808.5,559.8 C809.6,559.4 810.7,559 811.9,558.6 C813,558.3 814.2,557.9 815.3,557.6 C816.5,557.2 817.6,556.9 818.8,556.5 C820,556.2 821.1,555.9 822.3,555.6 C823.5,555.2 824.6,554.9 825.8,554.6 C827,554.4 828.2,554.1 829.4,553.8 C830.6,553.6 831.8,553.3 833,553.1 C834.2,552.9 835.4,552.7 836.7,552.5 C837.9,552.3 839.1,552.1 840.4,552 C841.6,551.8 842.9,551.7 844.1,551.6 C845.4,551.5 846.7,551.4 848,551.3 C849.3,551.2 850.6,551.1 851.9,551.1 C853.2,551.1 854.5,551.1 855.8,551.1 C857.1,551.1 858.5,551.1 859.8,551.2 C861.1,551.2 862.4,551.3 863.7,551.4 C865,551.5 866.3,551.6 867.6,551.7 C868.8,551.9 870.2,552 871.4,552.2 C872.5,552.4 874,552.6 874.5,552.7" stroke="#0000ff" stroke-width="2.7" fill="none" stroke-dasharray="2.6 2.65" clip-path="url(#crb)"/>
<path d="M485.6,415.9 C486.2,416.1 487.8,416.8 488.9,417.3 C490,417.8 491.1,418.3 492.2,418.7 C493.3,419.2 494.4,419.7 495.5,420.2 C496.5,420.7 497.6,421.2 498.7,421.7 C499.8,422.3 500.9,422.8 501.9,423.3 C503,423.8 504.1,424.3 505.2,424.9 C506.2,425.4 507.3,425.9 508.4,426.5 C509.4,427 510.5,427.6 511.6,428.1 C512.6,428.7 513.7,429.2 514.7,429.8 C515.8,430.3 516.9,430.9 517.9,431.5 C519,432 520,432.6 521.1,433.2 C522.1,433.7 523.2,434.3 524.2,434.9 C525.2,435.5 526.3,436.1 527.3,436.7 C528.4,437.2 529.4,437.8 530.4,438.4 C531.5,439 532.5,439.6 533.6,440.2 C534.6,440.8 535.6,441.4 536.7,442 C537.7,442.7 538.7,443.3 539.7,443.9 C540.8,444.5 541.8,445.1 542.8,445.7 C543.8,446.4 544.9,447 545.9,447.6 C546.9,448.2 547.9,448.9 549,449.5 C550,450.1 551,450.7 552,451.4 C553,452 554,452.6 555.1,453.3 C556.1,453.9 557.1,454.6 558.1,455.2 C559.1,455.9 560.1,456.5 561.1,457.1 C562.2,457.8 563.2,458.4 564.2,459.1 C565.2,459.7 566.2,460.4 567.2,461 C568.2,461.7 569.2,462.4 570.2,463 C571.2,463.7 572.2,464.3 573.2,465 C574.2,465.6 575.2,466.3 576.2,467 C577.3,467.6 578.3,468.3 579.3,469 C580.3,469.6 581.3,470.3 582.3,471 C583.3,471.6 584.3,472.3 585.3,473 C586.3,473.6 587.3,474.3 588.3,475 C589.3,475.6 590.3,476.3 591.3,477 C592.2,477.7 593.2,478.3 594.2,479 C595.2,479.7 596.2,480.3 597.2,481 C598.2,481.7 599.2,482.4 600.2,483 C601.2,483.7 602.2,484.4 603.2,485.1 C604.2,485.7 605.2,486.4 606.2,487.1 C607.2,487.8 608.2,488.4 609.2,489.1 C610.2,489.8 611.2,490.4 612.2,491.1 C613.2,491.8 614.2,492.5 615.2,493.1 C616.2,493.8 617.2,494.5 618.2,495.1 C619.2,495.8 620.2,496.5 621.2,497.1 C622.2,497.8 623.2,498.4 624.2,499.1 C625.2,499.8 626.2,500.4 627.2,501.1 C628.2,501.7 629.2,502.4 630.2,503 C631.2,503.7 632.2,504.3 633.2,505 C634.2,505.6 635.2,506.3 636.3,506.9 C637.3,507.6 638.3,508.2 639.3,508.8 C640.3,509.5 641.3,510.1 642.3,510.7 C643.4,511.4 644.4,512 645.4,512.6 C646.4,513.2 647.4,513.8 648.5,514.5 C649.5,515.1 650.5,515.7 651.5,516.3 C652.6,516.9 653.6,517.5 654.6,518.1 C655.7,518.7 656.7,519.3 657.7,519.9 C658.8,520.4 659.8,521 660.9,521.6 C661.9,522.2 662.9,522.7 664,523.3 C665,523.9 666.1,524.4 667.1,525 C668.2,525.5 669.2,526.1 670.3,526.6 C671.4,527.2 672.4,527.7 673.5,528.2 C674.6,528.8 675.6,529.3 676.7,529.8 C677.8,530.3 678.8,530.8 679.9,531.3 C681,531.9 682.1,532.4 683.2,532.9 C684.2,533.3 685.3,533.8 686.4,534.3 C687.5,534.8 688.6,535.3 689.7,535.8 C690.8,536.2 691.9,536.7 693,537.2 C694.1,537.7 695.2,538.1 696.3,538.6 C697.4,539 698.5,539.5 699.6,539.9 C700.7,540.4 701.8,540.8 702.9,541.3 C704,541.7 705.1,542.1 706.2,542.6 C707.3,543 708.5,543.4 709.6,543.9 C710.7,544.3 711.8,544.7 712.9,545.1 C714.1,545.6 715.2,546 716.3,546.4 C717.4,546.8 718.5,547.3 719.7,547.7 C720.8,548.1 721.9,548.5 723,548.9 C724.2,549.3 725.3,549.8 726.4,550.2 C727.5,550.6 728.7,551 729.8,551.4 C730.9,551.9 732,552.3 733.2,552.7 C734.3,553.1 735.4,553.6 736.5,554 C737.6,554.4 738.8,554.8 739.9,555.3 C741,555.7 742.1,556.1 743.2,556.6 C744.4,557 745.5,557.4 746.6,557.9 C747.7,558.3 748.8,558.7 749.9,559.2 C751,559.6 752.2,560.1 753.3,560.5 C754.4,561 755.5,561.4 756.6,561.8 C757.7,562.3 758.8,562.7 759.9,563.2 C761,563.7 762.1,564.1 763.3,564.6 C764.4,565 765.5,565.5 766.6,565.9 C767.7,566.4 768.8,566.9 769.9,567.3 C771,567.8 772.1,568.3 773.2,568.8 C774.3,569.2 775.4,569.7 776.5,570.2 C777.6,570.7 778.7,571.1 779.7,571.6 C780.8,572.1 781.9,572.6 783,573.1 C784.1,573.6 785.2,574.1 786.3,574.6 C787.4,575 788.5,575.5 789.6,576 C790.6,576.5 791.7,577 792.8,577.5 C793.9,578 795,578.5 796.1,579 C797.2,579.5 798.2,580 799.3,580.5 C800.4,581 801.5,581.5 802.6,582 C803.7,582.5 804.8,583 805.8,583.4 C806.9,583.9 808,584.4 809.1,584.9 C810.2,585.4 811.3,585.9 812.4,586.3 C813.5,586.8 814.6,587.3 815.7,587.8 C816.8,588.2 817.9,588.7 819,589.2 C820.1,589.6 821.2,590.1 822.3,590.5 C823.4,591 824.5,591.5 825.6,591.9 C826.7,592.3 827.8,592.8 828.9,593.2 C830,593.6 831.1,594.1 832.3,594.5 C833.4,594.9 834.5,595.3 835.6,595.7 C836.8,596.1 837.9,596.5 839,596.9 C840.2,597.3 841.3,597.6 842.5,598 C843.6,598.4 844.8,598.7 845.9,599.1 C847.1,599.4 848.2,599.7 849.4,600.1 C850.6,600.4 851.7,600.7 852.9,601 C854.1,601.3 855.3,601.6 856.5,601.8 C857.6,602.1 858.8,602.4 860.1,602.6 C861.3,602.8 862.5,603.1 863.7,603.3 C864.9,603.5 866.1,603.7 867.4,603.8 C868.6,604 869.9,604.2 871.1,604.3 C872.3,604.4 873.9,604.5 874.5,604.6" stroke="#ff0000" stroke-width="2.6" fill="none" stroke-linejoin="round" clip-path="url(#crb)"/>
<line x1="544" y1="336" x2="544" y2="533" stroke="#000" stroke-width="2.4"/>
<rect x="541.1" y="334.75" width="5.8" height="2.6" rx="0.5" fill="#000"/>
<rect x="541.1" y="531.75" width="5.8" height="2.6" rx="0.5" fill="#000"/>
<rect x="538.2" y="428.6" width="11.6" height="11.6" fill="#000"/>
<line x1="583" y1="444" x2="583" y2="521" stroke="#000" stroke-width="2.4"/>
<rect x="580.1" y="442.75" width="5.8" height="2.6" rx="0.5" fill="#000"/>
<rect x="580.1" y="519.75" width="5.8" height="2.6" rx="0.5" fill="#000"/>
<rect x="577.2" y="477.2" width="11.6" height="11.6" fill="#000"/>
<line x1="622.6" y1="474.6" x2="622.6" y2="525.6" stroke="#000" stroke-width="2.4"/>
<rect x="619.7" y="473.35" width="5.8" height="2.6" rx="0.5" fill="#000"/>
<rect x="619.7" y="524.35" width="5.8" height="2.6" rx="0.5" fill="#000"/>
<rect x="616.8" y="494.8" width="11.6" height="11.6" fill="#000"/>
<line x1="661.4" y1="483.6" x2="661.4" y2="529.6" stroke="#000" stroke-width="2.4"/>
<rect x="658.5" y="482.35" width="5.8" height="2.6" rx="0.5" fill="#000"/>
<rect x="658.5" y="528.35" width="5.8" height="2.6" rx="0.5" fill="#000"/>
<rect x="655.6" y="500.8" width="11.6" height="11.6" fill="#000"/>
<line x1="700.4" y1="522.4" x2="700.4" y2="559.4" stroke="#000" stroke-width="2.4"/>
<rect x="697.5" y="521.15" width="5.8" height="2.6" rx="0.5" fill="#000"/>
<rect x="697.5" y="558.15" width="5.8" height="2.6" rx="0.5" fill="#000"/>
<rect x="694.6" y="535.2" width="11.6" height="11.6" fill="#000"/>
<line x1="739.6" y1="551" x2="739.6" y2="580.4" stroke="#000" stroke-width="2.4"/>
<rect x="736.7" y="549.75" width="5.8" height="2.6" rx="0.5" fill="#000"/>
<rect x="736.7" y="579.15" width="5.8" height="2.6" rx="0.5" fill="#000"/>
<rect x="733.8" y="560.2" width="11.6" height="11.6" fill="#000"/>
<line x1="778.4" y1="564" x2="778.4" y2="589.6" stroke="#000" stroke-width="2.4"/>
<rect x="775.5" y="562.75" width="5.8" height="2.6" rx="0.5" fill="#000"/>
<rect x="775.5" y="588.35" width="5.8" height="2.6" rx="0.5" fill="#000"/>
<rect x="772.6" y="571.2" width="11.6" height="11.6" fill="#000"/>
<line x1="817.6" y1="566.4" x2="817.6" y2="591" stroke="#000" stroke-width="2.4"/>
<rect x="814.7" y="565.15" width="5.8" height="2.6" rx="0.5" fill="#000"/>
<rect x="814.7" y="589.75" width="5.8" height="2.6" rx="0.5" fill="#000"/>
<rect x="811.8" y="572.6" width="11.6" height="11.6" fill="#000"/>
<line x1="857" y1="585" x2="857" y2="604.4" stroke="#000" stroke-width="2.4"/>
<rect x="854.1" y="583.75" width="5.8" height="2.6" rx="0.5" fill="#000"/>
<rect x="854.1" y="603.15" width="5.8" height="2.6" rx="0.5" fill="#000"/>
<rect x="851.2" y="589.2" width="11.6" height="11.6" fill="#000"/>
<path d="M485.6,739.6 C486.2,739.7 488,740 489.3,740.3 C490.5,740.5 491.7,740.8 492.9,741.1 C494.1,741.3 495.3,741.6 496.5,741.9 C497.7,742.2 498.9,742.5 500.1,742.8 C501.3,743 502.4,743.3 503.6,743.7 C504.8,744 506,744.3 507.2,744.6 C508.3,744.9 509.5,745.2 510.7,745.5 C511.9,745.9 513,746.2 514.2,746.5 C515.4,746.9 516.5,747.2 517.7,747.5 C518.9,747.9 520,748.2 521.2,748.5 C522.4,748.9 523.5,749.2 524.7,749.5 C525.9,749.9 527,750.2 528.2,750.5 C529.4,750.9 530.5,751.2 531.7,751.5 C532.9,751.9 534,752.2 535.2,752.5 C536.4,752.8 537.6,753.2 538.7,753.5 C539.9,753.8 541.1,754.1 542.2,754.4 C543.4,754.7 544.6,755 545.8,755.3 C547,755.6 548.1,755.9 549.3,756.2 C550.5,756.5 551.7,756.8 552.9,757.1 C554.1,757.3 555.3,757.6 556.5,757.8 C557.7,758.1 558.9,758.3 560.1,758.6 C561.3,758.8 562.5,759 563.7,759.3 C565,759.5 566.2,759.7 567.4,759.9 C568.7,760.1 569.9,760.2 571.1,760.4 C572.4,760.6 573.6,760.7 574.9,760.9 C576.1,761.1 577.4,761.2 578.6,761.3 C579.9,761.5 581.2,761.6 582.4,761.7 C583.7,761.9 585,762 586.3,762.1 C587.5,762.2 588.8,762.3 590.1,762.4 C591.4,762.5 592.6,762.6 593.9,762.8 C595.2,762.9 596.5,763 597.8,763.1 C599,763.2 600.3,763.3 601.6,763.4 C602.9,763.5 604.1,763.6 605.4,763.8 C606.7,763.9 608,764 609.2,764.1 C610.5,764.3 611.8,764.4 613,764.5 C614.3,764.7 615.6,764.8 616.8,765 C618.1,765.2 619.3,765.3 620.6,765.5 C621.8,765.7 623.1,765.9 624.3,766.1 C625.5,766.3 626.8,766.5 628,766.8 C629.2,767 630.4,767.2 631.7,767.5 C632.9,767.8 634.1,768 635.3,768.3 C636.5,768.6 637.7,768.9 638.8,769.2 C640,769.5 641.2,769.9 642.4,770.2 C643.5,770.6 644.7,770.9 645.9,771.3 C647,771.7 648.2,772.1 649.3,772.5 C650.4,772.9 651.6,773.3 652.7,773.7 C653.8,774.1 654.9,774.6 656.1,775 C657.2,775.5 658.3,775.9 659.4,776.4 C660.5,776.8 661.6,777.3 662.7,777.8 C663.8,778.3 664.9,778.8 666,779.3 C667.1,779.7 668.2,780.2 669.2,780.8 C670.3,781.3 671.4,781.8 672.5,782.3 C673.6,782.8 674.6,783.3 675.7,783.9 C676.8,784.4 677.9,784.9 678.9,785.5 C680,786 681,786.6 682.1,787.1 C683.2,787.7 684.2,788.2 685.3,788.8 C686.4,789.3 687.4,789.9 688.5,790.4 C689.5,791 690.6,791.6 691.6,792.1 C692.7,792.7 693.7,793.3 694.8,793.9 C695.8,794.5 696.9,795 697.9,795.6 C698.9,796.2 700,796.8 701,797.4 C702,798 703.1,798.6 704.1,799.2 C705.1,799.8 706.2,800.5 707.2,801.1 C708.2,801.7 709.2,802.3 710.3,802.9 C711.3,803.6 712.3,804.2 713.3,804.8 C714.3,805.5 715.4,806.1 716.4,806.8 C717.4,807.4 718.4,808.1 719.4,808.7 C720.4,809.4 721.4,810 722.4,810.7 C723.4,811.4 724.4,812 725.4,812.7 C726.4,813.3 727.4,814 728.4,814.7 C729.4,815.3 730.4,816 731.4,816.7 C732.4,817.3 733.4,818 734.4,818.7 C735.4,819.3 736.5,820 737.5,820.6 C738.5,821.3 739.5,822 740.5,822.6 C741.5,823.3 742.5,823.9 743.5,824.6 C744.5,825.2 745.5,825.9 746.5,826.5 C747.5,827.1 748.5,827.8 749.5,828.4 C750.6,829 751.6,829.7 752.6,830.3 C753.6,830.9 754.7,831.5 755.7,832.1 C756.7,832.6 757.8,833.2 758.8,833.8 C759.8,834.4 760.9,834.9 761.9,835.5 C763,836 764,836.6 765.1,837.1 C766.2,837.6 767.2,838.1 768.3,838.6 C769.4,839.1 770.5,839.6 771.6,840.1 C772.7,840.6 773.7,841 774.8,841.5 C775.9,841.9 777.1,842.4 778.2,842.8 C779.3,843.2 780.4,843.6 781.5,844 C782.6,844.4 783.8,844.8 784.9,845.2 C786.1,845.6 787.2,845.9 788.4,846.3 C789.5,846.6 790.7,846.9 791.8,847.2 C793,847.5 794.2,847.8 795.4,848.1 C796.6,848.4 797.8,848.7 799,848.9 C800.2,849.2 801.4,849.4 802.6,849.6 C803.8,849.9 805,850.1 806.2,850.3 C807.5,850.5 808.7,850.7 809.9,850.9 C811.2,851 812.4,851.2 813.6,851.4 C814.9,851.5 816.2,851.7 817.4,851.8 C818.7,852 819.9,852.1 821.2,852.2 C822.5,852.3 823.7,852.5 825,852.6 C826.3,852.7 827.6,852.8 828.8,852.9 C830.1,853 831.4,853.1 832.7,853.2 C834,853.2 835.3,853.3 836.6,853.4 C837.9,853.5 839.1,853.6 840.4,853.7 C841.7,853.7 843,853.8 844.3,853.9 C845.6,854 846.9,854.1 848.2,854.2 C849.5,854.2 850.8,854.3 852.1,854.4 C853.4,854.5 854.6,854.6 855.9,854.7 C857.2,854.8 858.5,854.9 859.8,855 C861.1,855.1 862.3,855.2 863.6,855.4 C864.9,855.5 866.2,855.6 867.4,855.8 C868.7,855.9 870,856.1 871.2,856.2 C872.4,856.4 874,856.6 874.5,856.7" stroke="#00ff00" stroke-width="2.6" fill="none" stroke-dasharray="5.6 5.0" clip-path="url(#crc)"/>
<path d="M485.6,756.3 C486.2,756.1 487.9,755.5 489.1,755.1 C490.2,754.7 491.3,754.2 492.4,753.8 C493.6,753.3 494.7,752.8 495.8,752.3 C496.9,751.9 497.9,751.3 499,750.8 C500.1,750.3 501.2,749.8 502.3,749.2 C503.3,748.7 504.4,748.1 505.4,747.6 C506.5,747 507.6,746.4 508.6,745.9 C509.7,745.3 510.7,744.7 511.7,744.1 C512.8,743.6 513.8,743 514.9,742.4 C515.9,741.8 517,741.2 518,740.6 C519,740.1 520.1,739.5 521.1,738.9 C522.2,738.3 523.2,737.7 524.3,737.2 C525.3,736.6 526.3,736 527.4,735.5 C528.4,734.9 529.5,734.3 530.6,733.8 C531.6,733.3 532.7,732.7 533.7,732.2 C534.8,731.7 535.9,731.2 537,730.7 C538,730.2 539.1,729.7 540.2,729.3 C541.3,728.8 542.4,728.4 543.5,727.9 C544.6,727.5 545.7,727.1 546.9,726.8 C548,726.4 549.2,726 550.3,725.7 C551.5,725.4 552.6,725.1 553.8,724.9 C555,724.6 556.2,724.4 557.5,724.3 C558.7,724.1 559.9,724 561.2,723.9 C562.5,723.8 563.8,723.8 565.1,723.9 C566.4,723.9 567.8,724.1 569,724.2 C570.3,724.4 571.5,724.7 572.8,725 C574,725.2 575.2,725.6 576.3,726 C577.5,726.4 578.6,726.8 579.8,727.3 C580.9,727.7 582,728.2 583.1,728.7 C584.2,729.3 585.2,729.8 586.3,730.4 C587.4,731 588.4,731.6 589.4,732.2 C590.5,732.8 591.5,733.5 592.5,734.1 C593.5,734.8 594.5,735.5 595.5,736.2 C596.5,736.9 597.5,737.6 598.5,738.3 C599.5,739.1 600.4,739.8 601.4,740.5 C602.4,741.3 603.3,742 604.3,742.8 C605.3,743.6 606.2,744.4 607.1,745.1 C608.1,745.9 609,746.7 610,747.5 C610.9,748.3 611.8,749.1 612.8,749.9 C613.7,750.8 614.6,751.6 615.6,752.4 C616.5,753.2 617.4,754 618.3,754.9 C619.3,755.7 620.2,756.5 621.1,757.4 C622,758.2 622.9,759.1 623.8,759.9 C624.8,760.7 625.7,761.6 626.6,762.4 C627.5,763.3 628.4,764.2 629.3,765 C630.2,765.9 631.1,766.7 632,767.6 C632.9,768.4 633.8,769.3 634.7,770.2 C635.6,771 636.5,771.9 637.4,772.8 C638.3,773.6 639.2,774.5 640.1,775.4 C641,776.2 641.9,777.1 642.8,778 C643.7,778.8 644.6,779.7 645.5,780.6 C646.4,781.4 647.3,782.3 648.2,783.2 C649.1,784 650,784.9 650.9,785.8 C651.8,786.6 652.7,787.5 653.6,788.4 C654.5,789.2 655.4,790.1 656.3,790.9 C657.2,791.8 658.1,792.6 659.1,793.5 C660,794.3 660.9,795.2 661.8,796 C662.7,796.9 663.6,797.7 664.5,798.6 C665.4,799.4 666.3,800.2 667.2,801.1 C668.2,801.9 669.1,802.7 670,803.6 C670.9,804.4 671.8,805.2 672.8,806 C673.7,806.8 674.6,807.6 675.5,808.4 C676.5,809.2 677.4,810 678.3,810.8 C679.3,811.6 680.2,812.4 681.1,813.1 C682.1,813.9 683,814.7 684,815.4 C684.9,816.2 685.9,816.9 686.8,817.7 C687.8,818.4 688.8,819.2 689.7,819.9 C690.7,820.6 691.7,821.3 692.6,822 C693.6,822.7 694.6,823.4 695.6,824.1 C696.6,824.8 697.6,825.4 698.6,826.1 C699.6,826.8 700.6,827.4 701.6,828 C702.6,828.7 703.6,829.3 704.6,829.9 C705.6,830.5 706.7,831.1 707.7,831.7 C708.7,832.2 709.8,832.8 710.8,833.3 C711.9,833.9 712.9,834.4 714,834.9 C715.1,835.5 716.1,836 717.2,836.4 C718.3,836.9 719.4,837.4 720.5,837.8 C721.6,838.3 722.7,838.7 723.8,839.1 C724.9,839.5 726.1,839.9 727.2,840.3 C728.3,840.7 729.5,841 730.6,841.3 C731.8,841.7 733,842 734.1,842.2 C735.3,842.5 736.5,842.8 737.7,843 C738.9,843.2 740.1,843.4 741.4,843.6 C742.6,843.8 743.8,843.9 745.1,844 C746.4,844.2 747.6,844.2 748.9,844.3 C750.2,844.3 751.5,844.4 752.9,844.3 C754.2,844.3 755.5,844.3 756.8,844.2 C758.1,844.1 759.4,844 760.7,843.9 C762,843.7 763.3,843.6 764.5,843.4 C765.8,843.2 767,843 768.2,842.8 C769.5,842.6 770.7,842.3 771.9,842 C773.1,841.8 774.3,841.5 775.5,841.2 C776.7,840.9 777.9,840.6 779.1,840.3 C780.3,839.9 781.4,839.6 782.6,839.3 C783.8,838.9 784.9,838.5 786.1,838.2 C787.2,837.8 788.4,837.4 789.5,837 C790.7,836.6 791.8,836.2 792.9,835.8 C794.1,835.4 795.2,835 796.3,834.6 C797.4,834.1 798.6,833.7 799.7,833.3 C800.8,832.9 801.9,832.4 803,832 C804.2,831.5 805.3,831.1 806.4,830.7 C807.5,830.2 808.6,829.8 809.7,829.4 C810.8,828.9 812,828.5 813.1,828.1 C814.2,827.6 815.3,827.2 816.4,826.8 C817.5,826.4 818.7,825.9 819.8,825.5 C820.9,825.1 822,824.7 823.2,824.3 C824.3,823.9 825.4,823.5 826.6,823.1 C827.7,822.8 828.8,822.4 830,822 C831.1,821.7 832.3,821.3 833.5,821 C834.6,820.7 835.8,820.3 837,820 C838.1,819.7 839.3,819.5 840.5,819.2 C841.7,818.9 842.9,818.7 844.1,818.5 C845.3,818.2 846.5,818 847.8,817.9 C849,817.7 850.2,817.5 851.5,817.4 C852.8,817.3 854,817.2 855.3,817.1 C856.6,817.1 857.9,817.1 859.2,817.1 C860.5,817.1 861.9,817.2 863.2,817.3 C864.5,817.4 865.8,817.6 867,817.7 C868.3,817.9 869.5,818.2 870.8,818.4 C872,818.7 873.7,819.2 874.4,819.4 C875,819.5 874.5,819.4 874.5,819.4" stroke="#0000ff" stroke-width="2.7" fill="none" stroke-dasharray="2.6 2.65" clip-path="url(#crc)"/>
<path d="M485.6,796.2 C486.2,796 487.9,795.3 489,794.8 C490.1,794.3 491.1,793.7 492.2,793.2 C493.3,792.6 494.3,792 495.4,791.4 C496.4,790.8 497.4,790.1 498.4,789.5 C499.5,788.8 500.5,788.1 501.5,787.4 C502.5,786.7 503.4,786 504.4,785.3 C505.4,784.5 506.4,783.8 507.3,783 C508.3,782.3 509.2,781.5 510.2,780.7 C511.1,779.9 512.1,779.1 513,778.3 C514,777.5 514.9,776.7 515.8,775.9 C516.8,775.1 517.7,774.3 518.6,773.5 C519.6,772.7 520.5,771.8 521.4,771 C522.3,770.2 523.2,769.3 524.2,768.5 C525.1,767.7 526,766.8 526.9,766 C527.8,765.2 528.7,764.3 529.7,763.5 C530.6,762.6 531.5,761.8 532.4,761 C533.3,760.2 534.2,759.3 535.1,758.5 C536.1,757.7 537,756.8 537.9,756 C538.8,755.2 539.8,754.4 540.7,753.6 C541.6,752.8 542.5,752 543.5,751.2 C544.4,750.4 545.3,749.6 546.3,748.9 C547.2,748.1 548.2,747.4 549.1,746.6 C550.1,745.9 551,745.1 552,744.4 C553,743.7 553.9,743 554.9,742.3 C555.9,741.6 556.9,741 557.9,740.3 C558.9,739.7 559.9,739 560.9,738.4 C561.9,737.8 562.9,737.2 564,736.7 C565,736.1 566.1,735.6 567.1,735.1 C568.2,734.6 569.3,734.2 570.4,733.7 C571.5,733.3 572.6,732.9 573.7,732.6 C574.9,732.3 576,732 577.2,731.7 C578.4,731.5 579.6,731.3 580.8,731.1 C582.1,731 583.3,730.9 584.6,730.9 C585.9,730.8 587.3,730.9 588.6,731 C589.9,731.1 591.2,731.3 592.4,731.5 C593.7,731.7 594.9,732 596.1,732.4 C597.3,732.7 598.4,733.1 599.6,733.5 C600.7,734 601.8,734.5 602.9,735 C604,735.5 605.1,736.1 606.2,736.7 C607.2,737.3 608.3,737.9 609.3,738.6 C610.3,739.3 611.3,740 612.3,740.7 C613.3,741.4 614.2,742.2 615.2,743 C616.2,743.8 617.1,744.6 618,745.4 C619,746.2 619.9,747.1 620.8,747.9 C621.7,748.8 622.6,749.7 623.5,750.6 C624.4,751.5 625.3,752.4 626.2,753.3 C627.1,754.2 628,755.2 628.8,756.1 C629.7,757 630.6,758 631.4,759 C632.3,759.9 633.1,760.9 634,761.9 C634.8,762.9 635.7,763.8 636.5,764.8 C637.4,765.8 638.2,766.8 639,767.8 C639.9,768.8 640.7,769.8 641.5,770.9 C642.4,771.9 643.2,772.9 644,773.9 C644.8,774.9 645.7,775.9 646.5,776.9 C647.3,778 648.1,779 649,780 C649.8,781 650.6,782 651.4,783.1 C652.3,784.1 653.1,785.1 653.9,786.1 C654.7,787.1 655.6,788.1 656.4,789.1 C657.2,790.1 658.1,791.1 658.9,792.1 C659.7,793.1 660.6,794.1 661.4,795.1 C662.2,796.1 663.1,797.1 663.9,798 C664.7,799 665.6,800 666.4,800.9 C667.3,801.9 668.1,802.8 669,803.8 C669.9,804.7 670.7,805.6 671.6,806.5 C672.5,807.4 673.3,808.3 674.2,809.2 C675.1,810.1 676,811 676.9,811.8 C677.8,812.7 678.7,813.5 679.6,814.3 C680.5,815.1 681.4,815.9 682.4,816.7 C683.3,817.4 684.2,818.2 685.2,818.9 C686.2,819.6 687.1,820.3 688.1,821 C689.1,821.6 690.1,822.3 691.1,822.9 C692.1,823.5 693.2,824 694.2,824.5 C695.3,825.1 696.3,825.6 697.4,826 C698.5,826.5 699.6,826.9 700.7,827.3 C701.8,827.7 703,828 704.1,828.3 C705.3,828.6 706.5,828.9 707.7,829.1 C708.8,829.4 710.1,829.6 711.3,829.7 C712.5,829.9 713.8,830 715.1,830.1 C716.3,830.1 717.6,830.2 718.9,830.2 C720.3,830.2 721.6,830.1 722.9,830.1 C724.3,830 725.6,829.9 726.8,829.8 C728.1,829.6 729.4,829.5 730.6,829.3 C731.9,829.1 733.1,828.9 734.4,828.7 C735.6,828.5 736.9,828.3 738.1,828 C739.3,827.8 740.5,827.6 741.7,827.3 C742.9,827 744.1,826.8 745.3,826.5 C746.5,826.2 747.7,826 748.9,825.7 C750.1,825.4 751.3,825.1 752.5,824.9 C753.7,824.6 754.9,824.3 756.1,824.1 C757.3,823.8 758.5,823.5 759.7,823.3 C760.9,823 762.1,822.8 763.3,822.5 C764.5,822.3 765.7,822.1 767,821.9 C768.2,821.7 769.4,821.5 770.7,821.3 C771.9,821.1 773.1,821 774.4,820.9 C775.7,820.7 776.9,820.6 778.2,820.6 C779.5,820.5 780.8,820.5 782.1,820.5 C783.4,820.5 784.8,820.5 786.1,820.5 C787.4,820.6 788.7,820.7 790,820.8 C791.3,820.9 792.6,821.1 793.8,821.2 C795.1,821.4 796.4,821.6 797.6,821.8 C798.8,822 800.1,822.2 801.3,822.5 C802.5,822.8 803.7,823 804.9,823.3 C806.1,823.6 807.3,823.9 808.5,824.2 C809.7,824.5 810.8,824.9 812,825.2 C813.2,825.6 814.3,825.9 815.5,826.3 C816.6,826.7 817.8,827.1 818.9,827.5 C820.1,827.8 821.2,828.3 822.3,828.7 C823.5,829.1 824.6,829.5 825.7,829.9 C826.8,830.4 828,830.8 829.1,831.3 C830.2,831.7 831.3,832.2 832.4,832.6 C833.5,833.1 834.6,833.6 835.7,834 C836.8,834.5 837.9,835 839,835.5 C840.1,836 841.2,836.4 842.3,836.9 C843.4,837.4 844.5,837.9 845.5,838.4 C846.6,838.9 847.7,839.4 848.8,839.9 C849.9,840.4 851,840.9 852,841.4 C853.1,841.9 854.2,842.5 855.3,843 C856.4,843.5 857.4,844 858.5,844.5 C859.6,845 860.7,845.5 861.8,846 C862.8,846.5 863.9,847 865,847.5 C866.1,848 867.2,848.5 868.2,849 C869.3,849.5 870.4,850 871.5,850.5 C872.5,851 874,851.6 874.5,851.9" stroke="#ff0000" stroke-width="2.6" fill="none" stroke-linejoin="round" clip-path="url(#crc)"/>
<line x1="544" y1="728.6" x2="544" y2="840.4" stroke="#000" stroke-width="2.4"/>
<rect x="541.1" y="727.35" width="5.8" height="2.6" rx="0.5" fill="#000"/>
<rect x="541.1" y="839.15" width="5.8" height="2.6" rx="0.5" fill="#000"/>
<rect x="538.2" y="778.6" width="11.6" height="11.6" fill="#000"/>
<line x1="583" y1="677" x2="583" y2="738" stroke="#000" stroke-width="2.4"/>
<rect x="580.1" y="675.75" width="5.8" height="2.6" rx="0.5" fill="#000"/>
<rect x="580.1" y="736.75" width="5.8" height="2.6" rx="0.5" fill="#000"/>
<rect x="577.2" y="701.6" width="11.6" height="11.6" fill="#000"/>
<line x1="622.6" y1="735" x2="622.6" y2="771.6" stroke="#000" stroke-width="2.4"/>
<rect x="619.7" y="733.75" width="5.8" height="2.6" rx="0.5" fill="#000"/>
<rect x="619.7" y="770.35" width="5.8" height="2.6" rx="0.5" fill="#000"/>
<rect x="616.8" y="747.4" width="11.6" height="11.6" fill="#000"/>
<line x1="661.4" y1="770" x2="661.4" y2="798.6" stroke="#000" stroke-width="2.4"/>
<rect x="658.5" y="768.75" width="5.8" height="2.6" rx="0.5" fill="#000"/>
<rect x="658.5" y="797.35" width="5.8" height="2.6" rx="0.5" fill="#000"/>
<rect x="655.6" y="778.6" width="11.6" height="11.6" fill="#000"/>
<line x1="700.4" y1="807" x2="700.4" y2="830" stroke="#000" stroke-width="2.4"/>
<rect x="697.5" y="805.75" width="5.8" height="2.6" rx="0.5" fill="#000"/>
<rect x="697.5" y="828.75" width="5.8" height="2.6" rx="0.5" fill="#000"/>
<rect x="694.6" y="812.2" width="11.6" height="11.6" fill="#000"/>
<line x1="739.6" y1="821.6" x2="739.6" y2="842.6" stroke="#000" stroke-width="2.4"/>
<rect x="736.7" y="820.35" width="5.8" height="2.6" rx="0.5" fill="#000"/>
<rect x="736.7" y="841.35" width="5.8" height="2.6" rx="0.5" fill="#000"/>
<rect x="733.8" y="826.2" width="11.6" height="11.6" fill="#000"/>
<line x1="778.4" y1="817" x2="778.4" y2="837.4" stroke="#000" stroke-width="2.4"/>
<rect x="775.5" y="815.75" width="5.8" height="2.6" rx="0.5" fill="#000"/>
<rect x="775.5" y="836.15" width="5.8" height="2.6" rx="0.5" fill="#000"/>
<rect x="772.6" y="821.2" width="11.6" height="11.6" fill="#000"/>
<line x1="817.6" y1="831.4" x2="817.6" y2="850" stroke="#000" stroke-width="2.4"/>
<rect x="814.7" y="830.15" width="5.8" height="2.6" rx="0.5" fill="#000"/>
<rect x="814.7" y="848.75" width="5.8" height="2.6" rx="0.5" fill="#000"/>
<rect x="811.8" y="834.8" width="11.6" height="11.6" fill="#000"/>
<line x1="857" y1="829" x2="857" y2="849.4" stroke="#000" stroke-width="2.4"/>
<rect x="854.1" y="827.75" width="5.8" height="2.6" rx="0.5" fill="#000"/>
<rect x="854.1" y="848.15" width="5.8" height="2.6" rx="0.5" fill="#000"/>
<rect x="851.2" y="833.6" width="11.6" height="11.6" fill="#000"/>
<path d="M485.6,1145.9 C486.2,1145.9 488.1,1145.7 489.4,1145.6 C490.7,1145.5 492,1145.4 493.3,1145.3 C494.6,1145.3 495.9,1145.2 497.2,1145.2 C498.5,1145.2 499.8,1145.2 501.1,1145.2 C502.5,1145.2 503.8,1145.2 505.1,1145.2 C506.5,1145.2 507.8,1145.2 509.1,1145.3 C510.4,1145.3 511.7,1145.4 513,1145.4 C514.4,1145.4 515.7,1145.5 517,1145.5 C518.3,1145.6 519.6,1145.6 520.9,1145.7 C522.2,1145.7 523.5,1145.8 524.8,1145.8 C526.1,1145.9 527.4,1145.9 528.8,1146 C530.1,1146 531.4,1146 532.7,1146.1 C534,1146.1 535.3,1146.1 536.7,1146.1 C538,1146.1 539.3,1146.1 540.7,1146 C542,1146 543.3,1146 544.6,1145.9 C545.9,1145.9 547.3,1145.8 548.6,1145.7 C549.8,1145.6 551.1,1145.5 552.4,1145.4 C553.7,1145.2 555,1145.1 556.2,1144.9 C557.5,1144.7 558.7,1144.6 560,1144.3 C561.2,1144.1 562.4,1143.9 563.7,1143.6 C564.9,1143.4 566.1,1143.1 567.3,1142.8 C568.5,1142.5 569.6,1142.2 570.8,1141.8 C572,1141.5 573.2,1141.1 574.3,1140.8 C575.5,1140.4 576.6,1140 577.8,1139.6 C578.9,1139.2 580,1138.8 581.2,1138.3 C582.3,1137.9 583.4,1137.5 584.5,1137 C585.6,1136.6 586.7,1136.1 587.8,1135.7 C589,1135.2 590.1,1134.7 591.1,1134.2 C592.2,1133.8 593.3,1133.3 594.4,1132.8 C595.5,1132.3 596.6,1131.8 597.7,1131.3 C598.8,1130.8 599.9,1130.3 600.9,1129.8 C602,1129.3 603.1,1128.8 604.2,1128.2 C605.3,1127.7 606.3,1127.2 607.4,1126.7 C608.5,1126.2 609.6,1125.7 610.7,1125.2 C611.7,1124.7 612.8,1124.2 613.9,1123.6 C615,1123.1 616,1122.6 617.1,1122.1 C618.2,1121.6 619.3,1121.1 620.3,1120.6 C621.4,1120.1 622.5,1119.5 623.6,1119 C624.7,1118.5 625.7,1118 626.8,1117.5 C627.9,1117 629,1116.5 630.1,1116 C631.1,1115.5 632.2,1115 633.3,1114.5 C634.4,1114 635.5,1113.5 636.6,1113 C637.6,1112.5 638.7,1112 639.8,1111.6 C640.9,1111.1 642,1110.6 643.1,1110.1 C644.2,1109.6 645.3,1109.1 646.4,1108.7 C647.5,1108.2 648.6,1107.7 649.7,1107.3 C650.8,1106.8 651.9,1106.3 653,1105.9 C654.1,1105.4 655.2,1105 656.3,1104.5 C657.4,1104.1 658.5,1103.7 659.6,1103.2 C660.7,1102.8 661.8,1102.4 663,1101.9 C664.1,1101.5 665.2,1101.1 666.3,1100.7 C667.4,1100.3 668.6,1099.9 669.7,1099.5 C670.8,1099.1 672,1098.7 673.1,1098.3 C674.3,1097.9 675.4,1097.6 676.5,1097.2 C677.7,1096.8 678.8,1096.4 680,1096.1 C681.1,1095.7 682.3,1095.3 683.4,1094.9 C684.6,1094.6 685.7,1094.2 686.9,1093.8 C688,1093.5 689.2,1093.1 690.3,1092.7 C691.5,1092.4 692.6,1092 693.8,1091.6 C694.9,1091.3 696.1,1090.9 697.2,1090.5 C698.3,1090.1 699.5,1089.8 700.6,1089.4 C701.8,1089 702.9,1088.7 704.1,1088.3 C705.2,1087.9 706.4,1087.5 707.5,1087.2 C708.7,1086.8 709.8,1086.4 711,1086.1 C712.1,1085.7 713.3,1085.4 714.4,1085.1 C715.6,1084.7 716.8,1084.4 717.9,1084.1 C719.1,1083.7 720.3,1083.4 721.4,1083.1 C722.6,1082.8 723.8,1082.6 725,1082.3 C726.2,1082 727.4,1081.8 728.6,1081.5 C729.8,1081.3 731,1081.1 732.2,1080.9 C733.5,1080.7 734.7,1080.5 736,1080.4 C737.2,1080.3 738.5,1080.1 739.7,1080.1 C741,1080 742.3,1079.9 743.6,1079.9 C744.9,1079.9 746.3,1079.9 747.6,1080 C748.9,1080 750.2,1080.1 751.5,1080.3 C752.8,1080.4 754,1080.6 755.3,1080.8 C756.5,1081 757.8,1081.3 759,1081.6 C760.2,1081.9 761.4,1082.2 762.5,1082.6 C763.7,1082.9 764.9,1083.3 766,1083.7 C767.1,1084.1 768.3,1084.6 769.4,1085 C770.5,1085.5 771.6,1085.9 772.7,1086.4 C773.8,1086.9 774.9,1087.4 776,1087.9 C777.1,1088.5 778.2,1089 779.2,1089.5 C780.3,1090.1 781.4,1090.6 782.4,1091.2 C783.5,1091.8 784.5,1092.4 785.6,1093 C786.6,1093.6 787.6,1094.2 788.7,1094.8 C789.7,1095.4 790.7,1096 791.8,1096.6 C792.8,1097.2 793.8,1097.8 794.8,1098.5 C795.9,1099.1 796.9,1099.7 797.9,1100.4 C798.9,1101 799.9,1101.6 801,1102.3 C802,1102.9 803,1103.5 804,1104.2 C805,1104.8 806,1105.5 807,1106.1 C808.1,1106.7 809.1,1107.4 810.1,1108 C811.1,1108.7 812.1,1109.3 813.1,1110 C814.1,1110.6 815.1,1111.3 816.1,1111.9 C817.2,1112.5 818.2,1113.2 819.2,1113.8 C820.2,1114.5 821.2,1115.1 822.2,1115.7 C823.2,1116.4 824.3,1117 825.3,1117.6 C826.3,1118.3 827.3,1118.9 828.3,1119.5 C829.3,1120.1 830.4,1120.7 831.4,1121.4 C832.4,1122 833.4,1122.6 834.5,1123.2 C835.5,1123.8 836.5,1124.4 837.6,1125 C838.6,1125.6 839.6,1126.2 840.7,1126.7 C841.7,1127.3 842.7,1127.9 843.8,1128.5 C844.8,1129 845.9,1129.6 846.9,1130.1 C848,1130.7 849.1,1131.2 850.1,1131.7 C851.2,1132.3 852.3,1132.8 853.3,1133.3 C854.4,1133.8 855.5,1134.3 856.6,1134.8 C857.6,1135.3 858.7,1135.7 859.8,1136.2 C860.9,1136.7 862,1137.1 863.1,1137.5 C864.2,1138 865.4,1138.4 866.5,1138.8 C867.6,1139.2 868.7,1139.6 869.9,1139.9 C871,1140.3 872.3,1140.7 873.3,1141 C874.4,1141.3 875.8,1141.6 876.3,1141.8" stroke="#00ff00" stroke-width="2.6" fill="none" stroke-dasharray="5.6 5.0" clip-path="url(#crd)"/>
<path d="M485.6,1028 C486.2,1028.1 488.1,1028.3 489.3,1028.5 C490.6,1028.6 491.9,1028.8 493.1,1028.9 C494.4,1029.1 495.6,1029.2 496.9,1029.4 C498.1,1029.5 499.4,1029.6 500.7,1029.8 C501.9,1029.9 503.2,1030 504.5,1030.1 C505.8,1030.3 507,1030.4 508.3,1030.5 C509.6,1030.6 510.9,1030.7 512.1,1030.8 C513.4,1030.9 514.7,1031 516,1031.1 C517.3,1031.2 518.5,1031.3 519.8,1031.4 C521.1,1031.5 522.4,1031.6 523.7,1031.7 C525,1031.8 526.3,1031.8 527.6,1031.9 C528.9,1032 530.2,1032.1 531.4,1032.2 C532.7,1032.2 534,1032.3 535.3,1032.4 C536.6,1032.5 537.9,1032.5 539.2,1032.6 C540.5,1032.7 541.8,1032.7 543.1,1032.8 C544.4,1032.9 545.7,1032.9 547,1033 C548.3,1033.1 549.6,1033.2 550.9,1033.2 C552.2,1033.3 553.5,1033.4 554.8,1033.4 C556.1,1033.5 557.4,1033.6 558.7,1033.6 C560,1033.7 561.3,1033.8 562.6,1033.9 C563.9,1033.9 565.2,1034 566.5,1034.1 C567.8,1034.2 569.1,1034.2 570.4,1034.3 C571.7,1034.4 573,1034.5 574.2,1034.6 C575.5,1034.6 576.8,1034.7 578.1,1034.8 C579.4,1034.9 580.7,1035 582,1035.1 C583.3,1035.2 584.6,1035.3 585.8,1035.4 C587.1,1035.5 588.4,1035.6 589.7,1035.7 C591,1035.8 592.3,1035.9 593.5,1036.1 C594.8,1036.2 596.1,1036.3 597.3,1036.4 C598.6,1036.6 599.9,1036.7 601.2,1036.8 C602.4,1037 603.7,1037.1 604.9,1037.3 C606.2,1037.4 607.5,1037.6 608.7,1037.8 C610,1037.9 611.2,1038.1 612.5,1038.3 C613.7,1038.5 615,1038.7 616.2,1038.9 C617.4,1039 618.7,1039.3 619.9,1039.5 C621.1,1039.7 622.4,1039.9 623.6,1040.1 C624.8,1040.4 626,1040.6 627.2,1040.9 C628.4,1041.1 629.7,1041.4 630.9,1041.6 C632.1,1041.9 633.3,1042.2 634.5,1042.5 C635.7,1042.7 636.8,1043 638,1043.3 C639.2,1043.6 640.4,1044 641.6,1044.3 C642.8,1044.6 643.9,1045 645.1,1045.3 C646.3,1045.6 647.4,1046 648.6,1046.4 C649.7,1046.7 650.9,1047.1 652,1047.5 C653.2,1047.9 654.3,1048.3 655.4,1048.7 C656.6,1049.1 657.7,1049.5 658.8,1050 C660,1050.4 661.1,1050.8 662.2,1051.3 C663.3,1051.8 664.4,1052.2 665.5,1052.7 C666.6,1053.2 667.7,1053.7 668.8,1054.2 C669.9,1054.6 671,1055.2 672.1,1055.7 C673.1,1056.2 674.2,1056.7 675.3,1057.3 C676.3,1057.8 677.4,1058.4 678.5,1058.9 C679.5,1059.5 680.6,1060.1 681.6,1060.6 C682.7,1061.2 683.7,1061.8 684.8,1062.4 C685.8,1063 686.8,1063.6 687.9,1064.2 C688.9,1064.9 689.9,1065.5 690.9,1066.1 C692,1066.7 693,1067.4 694,1068 C695,1068.6 696,1069.3 697.1,1069.9 C698.1,1070.6 699.1,1071.2 700.1,1071.9 C701.1,1072.6 702.1,1073.2 703.1,1073.9 C704.1,1074.6 705.1,1075.2 706.1,1075.9 C707.1,1076.6 708.1,1077.3 709.1,1077.9 C710.1,1078.6 711.1,1079.3 712.1,1080 C713.1,1080.6 714.1,1081.3 715.1,1082 C716,1082.7 717,1083.4 718,1084.1 C719,1084.8 720,1085.4 721,1086.1 C722,1086.8 723,1087.5 724,1088.2 C725,1088.9 726,1089.5 727,1090.2 C727.9,1090.9 728.9,1091.6 729.9,1092.2 C730.9,1092.9 731.9,1093.6 732.9,1094.3 C733.9,1094.9 734.9,1095.6 735.9,1096.2 C736.9,1096.9 737.9,1097.6 738.9,1098.2 C739.9,1098.9 740.9,1099.5 741.9,1100.1 C743,1100.8 744,1101.4 745,1102 C746,1102.7 747,1103.3 748,1103.9 C749.1,1104.5 750.1,1105.1 751.1,1105.7 C752.1,1106.3 753.2,1106.9 754.2,1107.5 C755.2,1108.1 756.3,1108.7 757.3,1109.3 C758.4,1109.8 759.4,1110.4 760.5,1111 C761.5,1111.5 762.6,1112.1 763.6,1112.6 C764.7,1113.1 765.7,1113.7 766.8,1114.2 C767.9,1114.7 769,1115.2 770,1115.7 C771.1,1116.2 772.2,1116.7 773.3,1117.1 C774.4,1117.6 775.5,1118.1 776.6,1118.5 C777.7,1119 778.8,1119.4 779.9,1119.8 C781,1120.2 782.1,1120.6 783.3,1121 C784.4,1121.4 785.5,1121.8 786.7,1122.2 C787.8,1122.5 789,1122.9 790.1,1123.2 C791.3,1123.6 792.4,1123.9 793.6,1124.2 C794.8,1124.5 796,1124.8 797.1,1125.1 C798.3,1125.4 799.5,1125.7 800.7,1125.9 C801.9,1126.2 803.1,1126.5 804.3,1126.7 C805.5,1126.9 806.7,1127.1 808,1127.4 C809.2,1127.6 810.4,1127.8 811.6,1128 C812.9,1128.1 814.1,1128.3 815.4,1128.5 C816.6,1128.6 817.9,1128.8 819.1,1128.9 C820.4,1129 821.6,1129.2 822.9,1129.3 C824.2,1129.4 825.5,1129.5 826.7,1129.6 C828,1129.7 829.3,1129.7 830.6,1129.8 C831.9,1129.9 833.2,1129.9 834.5,1130 C835.8,1130 837.1,1130.1 838.4,1130.1 C839.8,1130.1 841.1,1130.1 842.4,1130.1 C843.7,1130.1 845.1,1130.1 846.4,1130.1 C847.7,1130.1 849.1,1130.1 850.4,1130 C851.7,1130 853,1130 854.3,1129.9 C855.7,1129.9 857,1129.8 858.3,1129.8 C859.6,1129.7 860.9,1129.6 862.2,1129.6 C863.5,1129.5 864.8,1129.4 866.1,1129.3 C867.4,1129.3 868.7,1129.2 870,1129.1 C871.2,1129 872.8,1128.9 873.8,1128.8 C874.9,1128.7 875.9,1128.7 876.3,1128.6" stroke="#0000ff" stroke-width="2.7" fill="none" stroke-dasharray="2.6 2.65" clip-path="url(#crd)"/>
<path d="M485.6,1029.4 C486.1,1029.7 487.7,1030.6 488.7,1031.1 C489.7,1031.7 490.8,1032.3 491.8,1032.8 C492.9,1033.3 493.9,1033.9 495,1034.4 C496.1,1034.9 497.1,1035.4 498.2,1035.9 C499.3,1036.4 500.4,1036.9 501.5,1037.4 C502.6,1037.9 503.7,1038.3 504.8,1038.8 C505.8,1039.3 506.9,1039.7 508,1040.2 C509.2,1040.6 510.3,1041.1 511.4,1041.5 C512.5,1042 513.6,1042.4 514.7,1042.9 C515.8,1043.3 516.9,1043.8 518,1044.2 C519.1,1044.7 520.2,1045.1 521.3,1045.6 C522.5,1046 523.6,1046.5 524.7,1047 C525.8,1047.4 526.9,1047.9 528,1048.4 C529.1,1048.9 530.2,1049.3 531.3,1049.8 C532.3,1050.3 533.4,1050.8 534.5,1051.3 C535.6,1051.8 536.7,1052.3 537.8,1052.8 C538.9,1053.3 540,1053.8 541,1054.3 C542.1,1054.8 543.2,1055.3 544.3,1055.8 C545.4,1056.3 546.4,1056.8 547.5,1057.3 C548.6,1057.8 549.7,1058.3 550.8,1058.8 C551.8,1059.4 552.9,1059.9 554,1060.4 C555.1,1060.9 556.2,1061.4 557.3,1061.8 C558.3,1062.3 559.4,1062.8 560.5,1063.3 C561.6,1063.8 562.7,1064.3 563.8,1064.8 C564.9,1065.3 566,1065.7 567.1,1066.2 C568.2,1066.7 569.3,1067.1 570.4,1067.6 C571.5,1068 572.6,1068.5 573.7,1068.9 C574.8,1069.4 575.9,1069.8 577,1070.2 C578.1,1070.6 579.2,1071 580.4,1071.4 C581.5,1071.8 582.6,1072.2 583.8,1072.6 C584.9,1073 586.1,1073.3 587.2,1073.7 C588.4,1074 589.5,1074.4 590.7,1074.7 C591.8,1075 593,1075.3 594.2,1075.6 C595.4,1075.9 596.6,1076.2 597.8,1076.4 C598.9,1076.7 600.2,1076.9 601.4,1077.1 C602.6,1077.4 603.8,1077.5 605,1077.7 C606.3,1077.9 607.5,1078 608.8,1078.1 C610.1,1078.3 611.3,1078.4 612.6,1078.4 C613.9,1078.5 615.2,1078.5 616.5,1078.5 C617.8,1078.5 619.2,1078.5 620.5,1078.4 C621.8,1078.3 623.1,1078.2 624.4,1078.1 C625.7,1078 627,1077.8 628.2,1077.6 C629.5,1077.4 630.7,1077.2 631.9,1076.9 C633.1,1076.7 634.3,1076.4 635.6,1076.1 C636.8,1075.9 638,1075.6 639.1,1075.3 C640.3,1075 641.5,1074.7 642.7,1074.4 C643.9,1074.1 645.1,1073.8 646.3,1073.5 C647.4,1073.2 648.6,1072.9 649.8,1072.6 C651,1072.3 652.2,1072 653.3,1071.7 C654.5,1071.4 655.7,1071.1 656.9,1070.8 C658.1,1070.5 659.3,1070.2 660.5,1070 C661.7,1069.7 662.9,1069.4 664.1,1069.1 C665.3,1068.9 666.5,1068.6 667.7,1068.4 C668.9,1068.1 670.1,1067.9 671.3,1067.7 C672.5,1067.4 673.7,1067.2 674.9,1067 C676.2,1066.8 677.4,1066.6 678.6,1066.4 C679.8,1066.2 681.1,1066 682.3,1065.9 C683.6,1065.7 684.8,1065.6 686.1,1065.4 C687.4,1065.3 688.6,1065.2 689.9,1065.1 C691.2,1065 692.5,1064.9 693.8,1064.9 C695,1064.8 696.4,1064.8 697.7,1064.8 C699,1064.8 700.3,1064.8 701.7,1064.8 C703,1064.8 704.3,1064.9 705.6,1065 C706.9,1065.1 708.2,1065.2 709.5,1065.4 C710.7,1065.5 712,1065.7 713.2,1065.9 C714.5,1066.1 715.7,1066.3 717,1066.5 C718.2,1066.8 719.4,1067 720.6,1067.3 C721.8,1067.6 723,1067.9 724.2,1068.3 C725.3,1068.6 726.5,1069 727.6,1069.4 C728.8,1069.8 729.9,1070.2 731.1,1070.7 C732.2,1071.1 733.3,1071.6 734.4,1072.1 C735.5,1072.5 736.6,1073.1 737.7,1073.6 C738.8,1074.1 739.8,1074.7 740.9,1075.3 C741.9,1075.8 743,1076.4 744,1077.1 C745.1,1077.7 746.1,1078.3 747.1,1079 C748.1,1079.6 749.1,1080.3 750.1,1081 C751.1,1081.7 752.1,1082.5 753.1,1083.2 C754,1083.9 755,1084.7 756,1085.5 C756.9,1086.3 757.9,1087.1 758.8,1087.9 C759.8,1088.7 760.7,1089.5 761.6,1090.3 C762.5,1091.2 763.4,1092 764.4,1092.9 C765.3,1093.7 766.2,1094.6 767.1,1095.5 C768,1096.3 768.9,1097.2 769.8,1098.1 C770.7,1099 771.6,1099.9 772.5,1100.7 C773.4,1101.6 774.3,1102.5 775.1,1103.4 C776,1104.3 776.9,1105.1 777.8,1106 C778.7,1106.9 779.6,1107.8 780.5,1108.6 C781.4,1109.5 782.3,1110.4 783.2,1111.2 C784.1,1112.1 785,1112.9 785.9,1113.8 C786.8,1114.6 787.7,1115.4 788.7,1116.2 C789.6,1117 790.5,1117.8 791.4,1118.6 C792.4,1119.4 793.3,1120.2 794.3,1120.9 C795.2,1121.6 796.2,1122.4 797.1,1123 C798.1,1123.7 799.1,1124.4 800.1,1125.1 C801.1,1125.7 802.1,1126.3 803.1,1126.9 C804.1,1127.5 805.1,1128.1 806.2,1128.7 C807.2,1129.2 808.3,1129.8 809.3,1130.3 C810.4,1130.8 811.5,1131.3 812.6,1131.7 C813.6,1132.2 814.7,1132.6 815.9,1133.1 C817,1133.5 818.1,1133.9 819.2,1134.3 C820.4,1134.6 821.5,1135 822.7,1135.3 C823.8,1135.7 825,1136 826.1,1136.3 C827.3,1136.5 828.5,1136.8 829.7,1137.1 C830.9,1137.3 832.1,1137.5 833.3,1137.7 C834.6,1137.9 835.8,1138.1 837,1138.3 C838.3,1138.4 839.5,1138.6 840.8,1138.7 C842,1138.8 843.3,1138.9 844.6,1139 C845.9,1139.1 847.2,1139.2 848.5,1139.2 C849.8,1139.3 851.1,1139.3 852.4,1139.3 C853.7,1139.4 855,1139.4 856.4,1139.4 C857.7,1139.4 859,1139.3 860.3,1139.3 C861.7,1139.3 863,1139.2 864.3,1139.2 C865.6,1139.1 866.9,1139.1 868.2,1139 C869.5,1139 870.8,1138.9 872.1,1138.8 C873.4,1138.8 875.3,1138.6 876,1138.6 C876.7,1138.6 876.3,1138.6 876.3,1138.6" stroke="#ff0000" stroke-width="2.6" fill="none" stroke-linejoin="round" clip-path="url(#crd)"/>
<line x1="583" y1="1009.4" x2="583" y2="1134.4" stroke="#000" stroke-width="2.4"/>
<rect x="580.1" y="1008.15" width="5.8" height="2.6" rx="0.5" fill="#000"/>
<rect x="580.1" y="1133.15" width="5.8" height="2.6" rx="0.5" fill="#000"/>
<rect x="577.2" y="1066.2" width="11.6" height="11.6" fill="#000"/>
<line x1="622.4" y1="1051.6" x2="622.4" y2="1115.6" stroke="#000" stroke-width="2.4"/>
<rect x="619.5" y="1050.35" width="5.8" height="2.6" rx="0.5" fill="#000"/>
<rect x="619.5" y="1114.35" width="5.8" height="2.6" rx="0.5" fill="#000"/>
<rect x="616.6" y="1077.8" width="11.6" height="11.6" fill="#000"/>
<line x1="661.4" y1="1024" x2="661.4" y2="1076.6" stroke="#000" stroke-width="2.4"/>
<rect x="658.5" y="1022.75" width="5.8" height="2.6" rx="0.5" fill="#000"/>
<rect x="658.5" y="1075.35" width="5.8" height="2.6" rx="0.5" fill="#000"/>
<rect x="655.6" y="1044.6" width="11.6" height="11.6" fill="#000"/>
<line x1="700.4" y1="1059.6" x2="700.4" y2="1100" stroke="#000" stroke-width="2.4"/>
<rect x="697.5" y="1058.35" width="5.8" height="2.6" rx="0.5" fill="#000"/>
<rect x="697.5" y="1098.75" width="5.8" height="2.6" rx="0.5" fill="#000"/>
<rect x="694.6" y="1074.6" width="11.6" height="11.6" fill="#000"/>
<line x1="739.6" y1="1060" x2="739.6" y2="1098" stroke="#000" stroke-width="2.4"/>
<rect x="736.7" y="1058.75" width="5.8" height="2.6" rx="0.5" fill="#000"/>
<rect x="736.7" y="1096.75" width="5.8" height="2.6" rx="0.5" fill="#000"/>
<rect x="733.8" y="1073.2" width="11.6" height="11.6" fill="#000"/>
<line x1="778.4" y1="1095.6" x2="778.4" y2="1127" stroke="#000" stroke-width="2.4"/>
<rect x="775.5" y="1094.35" width="5.8" height="2.6" rx="0.5" fill="#000"/>
<rect x="775.5" y="1125.75" width="5.8" height="2.6" rx="0.5" fill="#000"/>
<rect x="772.6" y="1105.2" width="11.6" height="11.6" fill="#000"/>
<line x1="817.6" y1="1099.4" x2="817.6" y2="1131.6" stroke="#000" stroke-width="2.4"/>
<rect x="814.7" y="1098.15" width="5.8" height="2.6" rx="0.5" fill="#000"/>
<rect x="814.7" y="1130.35" width="5.8" height="2.6" rx="0.5" fill="#000"/>
<rect x="811.8" y="1109.2" width="11.6" height="11.6" fill="#000"/>
<line x1="857" y1="1123" x2="857" y2="1154" stroke="#000" stroke-width="2.4"/>
<rect x="854.1" y="1121.75" width="5.8" height="2.6" rx="0.5" fill="#000"/>
<rect x="854.1" y="1152.75" width="5.8" height="2.6" rx="0.5" fill="#000"/>
<rect x="851.2" y="1132.2" width="11.6" height="11.6" fill="#000"/>
<rect x="95.2" y="19.0" width="781.10" height="285.80" fill="none" stroke="#2a2a2a" stroke-width="1.6"/>
<line x1="485.6" y1="19" x2="485.6" y2="304.8" stroke="#111" stroke-width="1.6" />
<rect x="95.2" y="330.4" width="781.10" height="285.20" fill="none" stroke="#2a2a2a" stroke-width="1.6"/>
<line x1="485.6" y1="330.4" x2="485.6" y2="615.6" stroke="#111" stroke-width="1.6" />
<rect x="95.2" y="615.6" width="781.10" height="285.80" fill="none" stroke="#2a2a2a" stroke-width="1.6"/>
<line x1="485.6" y1="615.6" x2="485.6" y2="901.4" stroke="#111" stroke-width="1.6" />
<rect x="95.2" y="901.4" width="781.10" height="285.80" fill="none" stroke="#2a2a2a" stroke-width="1.6"/>
<line x1="485.6" y1="901.4" x2="485.6" y2="1187.2" stroke="#111" stroke-width="1.6" />
<text transform="translate(114.30,53.80) scale(1,1.035)" text-anchor="start" style='font-family:"Liberation Sans", sans-serif;font-size:31.5px;'>(a) 15.6 MeV</text>
<text transform="translate(307.50,53.80) scale(1,1.035)" text-anchor="start" style='font-family:"Liberation Sans", sans-serif;font-size:31.5px;font-style:italic'>J</text>
<text transform="translate(333.00,53.80) scale(1,1.035)" text-anchor="start" style='font-family:"Liberation Sans", sans-serif;font-size:31.5px;'>=</text>
<text transform="translate(355.50,53.80) scale(1,1.035)" text-anchor="start" style='font-family:"Liberation Sans", sans-serif;font-size:31.5px;'>3</text>
<text transform="translate(114.30,365.20) scale(1,1.035)" text-anchor="start" style='font-family:"Liberation Sans", sans-serif;font-size:31.5px;'>(b) 13.9 MeV</text>
<text transform="translate(307.50,365.20) scale(1,1.035)" text-anchor="start" style='font-family:"Liberation Sans", sans-serif;font-size:31.5px;font-style:italic'>J</text>
<text transform="translate(333.00,365.20) scale(1,1.035)" text-anchor="start" style='font-family:"Liberation Sans", sans-serif;font-size:31.5px;'>=</text>
<text transform="translate(355.50,365.20) scale(1,1.035)" text-anchor="start" style='font-family:"Liberation Sans", sans-serif;font-size:31.5px;'>0</text>
<text transform="translate(114.30,650.40) scale(1,1.035)" text-anchor="start" style='font-family:"Liberation Sans", sans-serif;font-size:31.5px;'>(c) 14.9 MeV</text>
<text transform="translate(307.50,650.40) scale(1,1.035)" text-anchor="start" style='font-family:"Liberation Sans", sans-serif;font-size:31.5px;font-style:italic'>J</text>
<text transform="translate(333.00,650.40) scale(1,1.035)" text-anchor="start" style='font-family:"Liberation Sans", sans-serif;font-size:31.5px;'>=</text>
<text transform="translate(355.50,650.40) scale(1,1.035)" text-anchor="start" style='font-family:"Liberation Sans", sans-serif;font-size:31.5px;'>2</text>
<text transform="translate(114.30,936.20) scale(1,1.035)" text-anchor="start" style='font-family:"Liberation Sans", sans-serif;font-size:31.5px;'>(d) 17.3 MeV</text>
<text transform="translate(307.50,936.20) scale(1,1.035)" text-anchor="start" style='font-family:"Liberation Sans", sans-serif;font-size:31.5px;font-style:italic'>J</text>
<text transform="translate(333.00,936.20) scale(1,1.035)" text-anchor="start" style='font-family:"Liberation Sans", sans-serif;font-size:31.5px;'>=</text>
<text transform="translate(355.50,936.20) scale(1,1.035)" text-anchor="start" style='font-family:"Liberation Sans", sans-serif;font-size:31.5px;'>4</text>
<text transform="translate(504.60,53.80) scale(1,1.035)" text-anchor="start" style='font-family:"Liberation Sans", sans-serif;font-size:31.5px;'>(e) 15.6 MeV</text>
<text transform="translate(504.60,365.20) scale(1,1.035)" text-anchor="start" style='font-family:"Liberation Sans", sans-serif;font-size:31.5px;'>(f) 13.9 MeV</text>
<text transform="translate(504.60,650.40) scale(1,1.035)" text-anchor="start" style='font-family:"Liberation Sans", sans-serif;font-size:31.5px;'>(g) 14.9 MeV</text>
<text transform="translate(504.60,936.20) scale(1,1.035)" text-anchor="start" style='font-family:"Liberation Sans", sans-serif;font-size:31.5px;'>(h) 17.3 MeV</text>
<line x1="159.2" y1="89.50" x2="204.0" y2="89.50" stroke="#0000ff" stroke-width="2.7" stroke-dasharray="2.6 2.64"/>
<line x1="159.2" y1="126.30" x2="206.5" y2="126.30" stroke="#999999" stroke-width="2.3" stroke-dasharray="5.6 4.9"/>
<line x1="159.2" y1="162.90" x2="206.5" y2="162.90" stroke="#ff0000" stroke-width="2.5"/>
<rect x="217.00" y="78.60" width="2.7" height="29.10" fill="#000"/>
<text transform="translate(227.80,98.50) scale(1,1.035)" text-anchor="start" style='font-family:"Liberation Sans", sans-serif;font-size:26.6px;font-style:italic'>P</text>
<text transform="translate(245.30,106.60) scale(1,1.035)" text-anchor="start" style='font-family:"Liberation Sans", sans-serif;font-size:18.6px;'>3</text>
<rect x="261.80" y="78.60" width="2.7" height="29.10" fill="#000"/>
<text transform="translate(266.60,86.70) scale(1,1.035)" text-anchor="start" style='font-family:"Liberation Sans", sans-serif;font-size:17.5px;'>2</text>
<text transform="translate(215.00,134.70) scale(1,1.035)" text-anchor="start" style='font-family:"Liberation Sans", sans-serif;font-size:26.6px;'>background</text>
<text transform="translate(215.00,171.80) scale(1,1.035)" text-anchor="start" style='font-family:"Liberation Sans", sans-serif;font-size:26.6px;'>sum</text>
<path d="M274.43,177.43 C279.00,170.78 282.87,165.84 287.87,159.57" fill="none" stroke="#000" stroke-width="1.4" stroke-linecap="round"/>
<path d="M275.43,161.47 C277.15,159.00 278.86,160.14 279.72,164.32 C280.72,169.45 281.58,174.20 282.87,176.10 C284.01,177.62 285.44,177.05 286.30,175.34" fill="none" stroke="#000" stroke-width="2.3" stroke-linecap="round" stroke-linejoin="round"/>
<path d="M276.85,154.25 C277.62,150.35 280.48,150.35 283.05,152.60 S288.48,154.85 289.25,150.95" fill="none" stroke="#000" stroke-width="1.9" stroke-linecap="round"/>
<text transform="translate(291.50,157.60) scale(1,1.035)" text-anchor="start" style='font-family:"Liberation Sans", sans-serif;font-size:17.5px;font-style:italic'>2</text>
<text transform="translate(303.00,171.80) scale(1,1.035)" text-anchor="start" style='font-family:"Liberation Sans", sans-serif;font-size:26.6px;'>=1.5</text>
<line x1="159.2" y1="686.10" x2="204.0" y2="686.10" stroke="#0000ff" stroke-width="2.7" stroke-dasharray="2.6 2.64"/>
<line x1="159.2" y1="722.90" x2="206.5" y2="722.90" stroke="#999999" stroke-width="2.3" stroke-dasharray="5.6 4.9"/>
<line x1="159.2" y1="759.50" x2="206.5" y2="759.50" stroke="#ff0000" stroke-width="2.5"/>
<rect x="217.00" y="675.20" width="2.7" height="29.10" fill="#000"/>
<text transform="translate(227.80,695.10) scale(1,1.035)" text-anchor="start" style='font-family:"Liberation Sans", sans-serif;font-size:26.6px;font-style:italic'>P</text>
<text transform="translate(245.30,703.20) scale(1,1.035)" text-anchor="start" style='font-family:"Liberation Sans", sans-serif;font-size:18.6px;'>2</text>
<rect x="261.80" y="675.20" width="2.7" height="29.10" fill="#000"/>
<text transform="translate(266.60,683.30) scale(1,1.035)" text-anchor="start" style='font-family:"Liberation Sans", sans-serif;font-size:17.5px;'>2</text>
<text transform="translate(215.00,731.30) scale(1,1.035)" text-anchor="start" style='font-family:"Liberation Sans", sans-serif;font-size:26.6px;'>background</text>
<text transform="translate(215.00,768.40) scale(1,1.035)" text-anchor="start" style='font-family:"Liberation Sans", sans-serif;font-size:26.6px;'>sum</text>
<path d="M274.43,774.03 C279.00,767.38 282.87,762.44 287.87,756.17" fill="none" stroke="#000" stroke-width="1.4" stroke-linecap="round"/>
<path d="M275.43,758.07 C277.15,755.60 278.86,756.74 279.72,760.92 C280.72,766.05 281.58,770.80 282.87,772.70 C284.01,774.22 285.44,773.65 286.30,771.94" fill="none" stroke="#000" stroke-width="2.3" stroke-linecap="round" stroke-linejoin="round"/>
<path d="M276.85,750.85 C277.62,746.95 280.48,746.95 283.05,749.20 S288.48,751.45 289.25,747.55" fill="none" stroke="#000" stroke-width="1.9" stroke-linecap="round"/>
<text transform="translate(291.50,754.20) scale(1,1.035)" text-anchor="start" style='font-family:"Liberation Sans", sans-serif;font-size:17.5px;font-style:italic'>2</text>
<text transform="translate(303.00,768.40) scale(1,1.035)" text-anchor="start" style='font-family:"Liberation Sans", sans-serif;font-size:26.6px;'>=0.81</text>
<line x1="159.2" y1="971.90" x2="204.0" y2="971.90" stroke="#0000ff" stroke-width="2.7" stroke-dasharray="2.6 2.64"/>
<line x1="159.2" y1="1008.70" x2="206.5" y2="1008.70" stroke="#999999" stroke-width="2.3" stroke-dasharray="5.6 4.9"/>
<line x1="159.2" y1="1045.30" x2="206.5" y2="1045.30" stroke="#ff0000" stroke-width="2.5"/>
<rect x="217.00" y="961.00" width="2.7" height="29.10" fill="#000"/>
<text transform="translate(227.80,980.90) scale(1,1.035)" text-anchor="start" style='font-family:"Liberation Sans", sans-serif;font-size:26.6px;font-style:italic'>P</text>
<text transform="translate(245.30,989.00) scale(1,1.035)" text-anchor="start" style='font-family:"Liberation Sans", sans-serif;font-size:18.6px;'>4</text>
<rect x="261.80" y="961.00" width="2.7" height="29.10" fill="#000"/>
<text transform="translate(266.60,969.10) scale(1,1.035)" text-anchor="start" style='font-family:"Liberation Sans", sans-serif;font-size:17.5px;'>2</text>
<text transform="translate(215.00,1017.10) scale(1,1.035)" text-anchor="start" style='font-family:"Liberation Sans", sans-serif;font-size:26.6px;'>background</text>
<text transform="translate(215.00,1054.20) scale(1,1.035)" text-anchor="start" style='font-family:"Liberation Sans", sans-serif;font-size:26.6px;'>sum</text>
<path d="M274.43,1059.83 C279.00,1053.18 282.87,1048.24 287.87,1041.97" fill="none" stroke="#000" stroke-width="1.4" stroke-linecap="round"/>
<path d="M275.43,1043.87 C277.15,1041.40 278.86,1042.54 279.72,1046.72 C280.72,1051.85 281.58,1056.60 282.87,1058.50 C284.01,1060.02 285.44,1059.45 286.30,1057.74" fill="none" stroke="#000" stroke-width="2.3" stroke-linecap="round" stroke-linejoin="round"/>
<path d="M276.85,1036.65 C277.62,1032.75 280.48,1032.75 283.05,1035.00 S288.48,1037.25 289.25,1033.35" fill="none" stroke="#000" stroke-width="1.9" stroke-linecap="round"/>
<text transform="translate(291.50,1040.00) scale(1,1.035)" text-anchor="start" style='font-family:"Liberation Sans", sans-serif;font-size:17.5px;font-style:italic'>2</text>
<text transform="translate(303.00,1054.20) scale(1,1.035)" text-anchor="start" style='font-family:"Liberation Sans", sans-serif;font-size:26.6px;'>=0.79</text>
<line x1="148.1" y1="398.00" x2="186.9" y2="398.00" stroke="#ff0000" stroke-width="2.5"/>
<text transform="translate(193.60,404.70) scale(1,1.035)" text-anchor="start" style='font-family:"Liberation Sans", sans-serif;font-size:26.6px;'>sum</text>
<text transform="translate(247.00,404.70) scale(1,1.035)" text-anchor="start" style='font-family:"Liberation Sans", sans-serif;font-size:26.6px;'>=</text>
<rect x="269.80" y="385.30" width="2.7" height="28.20" fill="#000"/>
<text transform="translate(278.80,404.70) scale(1,1.035)" text-anchor="start" style='font-family:"Liberation Sans", sans-serif;font-size:26.6px;font-style:italic'>P</text>
<text transform="translate(298.50,412.40) scale(1,1.035)" text-anchor="start" style='font-family:"Liberation Sans", sans-serif;font-size:17.5px;'>0</text>
<rect x="314.40" y="385.30" width="2.7" height="28.20" fill="#000"/>
<text transform="translate(319.30,392.80) scale(1,1.035)" text-anchor="start" style='font-family:"Liberation Sans", sans-serif;font-size:17.5px;'>2</text>
<path d="M349.93,409.47 C354.54,403.24 358.43,398.61 363.47,392.73" fill="none" stroke="#000" stroke-width="1.4" stroke-linecap="round"/>
<path d="M350.94,394.51 C352.67,392.20 354.40,393.27 355.26,397.18 C356.27,401.99 357.13,406.44 358.43,408.22 C359.58,409.64 361.02,409.11 361.88,407.51" fill="none" stroke="#000" stroke-width="2.3" stroke-linecap="round" stroke-linejoin="round"/>
<path d="M352.35,387.25 C352.92,383.95 355.46,383.95 357.75,385.90 S362.58,387.85 363.15,384.55" fill="none" stroke="#000" stroke-width="1.9" stroke-linecap="round"/>
<text transform="translate(367.00,389.70) scale(1,1.035)" text-anchor="start" style='font-family:"Liberation Sans", sans-serif;font-size:17.5px;'>2</text>
<text transform="translate(377.30,404.70) scale(1,1.035)" text-anchor="start" style='font-family:"Liberation Sans", sans-serif;font-size:26.6px;'>=0.14</text>
<text transform="translate(747.8,56.50) scale(1.04,1.035)" style='font-family:"Liberation Sans", sans-serif;font-size:31px;font-style:italic' stroke="#000" stroke-width="0.45">J</text>
<text transform="translate(766.00,42.80) scale(1,1.035)" text-anchor="start" style='font-family:"Liberation Serif", serif;font-size:23px;font-style:italic'>π</text>
<path d="M801.71,61.87 C807.15,54.52 811.74,49.06 817.69,42.13" fill="none" stroke="#000" stroke-width="1.6" stroke-linecap="round"/>
<path d="M802.90,44.23 C804.94,41.50 806.98,42.76 808.00,47.38 C809.19,53.05 810.21,58.30 811.74,60.40 C813.10,62.08 814.80,61.45 815.82,59.56" fill="none" stroke="#000" stroke-width="2.6" stroke-linecap="round" stroke-linejoin="round"/>
<path d="M805.15,36.85 C805.62,33.05 808.32,33.05 810.75,35.25 S815.88,37.45 816.35,33.65" fill="none" stroke="#000" stroke-width="2.3" stroke-linecap="round"/>
<text transform="translate(822.60,40.50) scale(1,1.035)" text-anchor="start" style='font-family:"Liberation Sans", sans-serif;font-size:19.5px;font-style:italic'>2</text>
<line x1="697" y1="88.00" x2="739" y2="88.00" stroke="#ff0000" stroke-width="2.5"/>
<text transform="translate(745.60,94.80) scale(1,1.035)" text-anchor="start" style='font-family:"Liberation Sans", sans-serif;font-size:25.7px;'>3</text>
<rect x="761.2" y="77.20" width="9.6" height="1.7" fill="#444"/>
<text transform="translate(792.30,94.80) scale(1,1.035)" text-anchor="start" style='font-family:"Liberation Sans", sans-serif;font-size:25.7px;'>1.7</text>
<line x1="697" y1="122.30" x2="736.2" y2="122.30" stroke="#0000ff" stroke-width="2.7" stroke-dasharray="2.6 2.64"/>
<text transform="translate(745.60,128.80) scale(1,1.035)" text-anchor="start" style='font-family:"Liberation Sans", sans-serif;font-size:25.7px;'>2</text>
<rect x="761.4" y="111.50" width="9.2" height="1.7" fill="#444"/>
<rect x="765.15" y="107.90" width="1.7" height="8.9" fill="#444"/>
<text transform="translate(792.30,128.80) scale(1,1.035)" text-anchor="start" style='font-family:"Liberation Sans", sans-serif;font-size:25.7px;'>13.6</text>
<line x1="697" y1="156.60" x2="734.4" y2="156.60" stroke="#00ff00" stroke-width="2.5" stroke-dasharray="5.4 5.2"/>
<text transform="translate(745.60,162.80) scale(1,1.035)" text-anchor="start" style='font-family:"Liberation Sans", sans-serif;font-size:25.7px;'>4</text>
<rect x="761.4" y="145.50" width="9.2" height="1.7" fill="#444"/>
<rect x="765.15" y="141.90" width="1.7" height="8.9" fill="#444"/>
<text transform="translate(792.30,162.80) scale(1,1.035)" text-anchor="start" style='font-family:"Liberation Sans", sans-serif;font-size:25.7px;'>5.2</text>
<text transform="translate(747.8,367.90) scale(1.04,1.035)" style='font-family:"Liberation Sans", sans-serif;font-size:31px;font-style:italic' stroke="#000" stroke-width="0.45">J</text>
<text transform="translate(766.00,354.20) scale(1,1.035)" text-anchor="start" style='font-family:"Liberation Serif", serif;font-size:23px;font-style:italic'>π</text>
<path d="M801.71,373.27 C807.15,365.92 811.74,360.46 817.69,353.53" fill="none" stroke="#000" stroke-width="1.6" stroke-linecap="round"/>
<path d="M802.90,355.63 C804.94,352.90 806.98,354.16 808.00,358.78 C809.19,364.45 810.21,369.70 811.74,371.80 C813.10,373.48 814.80,372.85 815.82,370.96" fill="none" stroke="#000" stroke-width="2.6" stroke-linecap="round" stroke-linejoin="round"/>
<path d="M805.15,348.25 C805.62,344.45 808.32,344.45 810.75,346.65 S815.88,348.85 816.35,345.05" fill="none" stroke="#000" stroke-width="2.3" stroke-linecap="round"/>
<text transform="translate(822.60,351.90) scale(1,1.035)" text-anchor="start" style='font-family:"Liberation Sans", sans-serif;font-size:19.5px;font-style:italic'>2</text>
<line x1="697" y1="399.40" x2="739" y2="399.40" stroke="#ff0000" stroke-width="2.5"/>
<text transform="translate(745.60,406.20) scale(1,1.035)" text-anchor="start" style='font-family:"Liberation Sans", sans-serif;font-size:25.7px;'>0</text>
<rect x="761.4" y="388.90" width="9.2" height="1.7" fill="#444"/>
<rect x="765.15" y="385.30" width="1.7" height="8.9" fill="#444"/>
<text transform="translate(792.30,406.20) scale(1,1.035)" text-anchor="start" style='font-family:"Liberation Sans", sans-serif;font-size:25.7px;'>0.46</text>
<line x1="697" y1="433.70" x2="736.2" y2="433.70" stroke="#0000ff" stroke-width="2.7" stroke-dasharray="2.6 2.64"/>
<text transform="translate(745.60,440.20) scale(1,1.035)" text-anchor="start" style='font-family:"Liberation Sans", sans-serif;font-size:25.7px;'>1</text>
<rect x="761.2" y="422.60" width="9.6" height="1.7" fill="#444"/>
<text transform="translate(792.30,440.20) scale(1,1.035)" text-anchor="start" style='font-family:"Liberation Sans", sans-serif;font-size:25.7px;'>1.4</text>
<line x1="697" y1="468.00" x2="734.4" y2="468.00" stroke="#00ff00" stroke-width="2.5" stroke-dasharray="5.4 5.2"/>
<text transform="translate(745.60,474.20) scale(1,1.035)" text-anchor="start" style='font-family:"Liberation Sans", sans-serif;font-size:25.7px;'>2</text>
<rect x="761.4" y="456.90" width="9.2" height="1.7" fill="#444"/>
<rect x="765.15" y="453.30" width="1.7" height="8.9" fill="#444"/>
<text transform="translate(792.30,474.20) scale(1,1.035)" text-anchor="start" style='font-family:"Liberation Sans", sans-serif;font-size:25.7px;'>1.1</text>
<text transform="translate(747.8,653.10) scale(1.04,1.035)" style='font-family:"Liberation Sans", sans-serif;font-size:31px;font-style:italic' stroke="#000" stroke-width="0.45">J</text>
<text transform="translate(766.00,639.40) scale(1,1.035)" text-anchor="start" style='font-family:"Liberation Serif", serif;font-size:23px;font-style:italic'>π</text>
<path d="M801.71,658.47 C807.15,651.12 811.74,645.66 817.69,638.73" fill="none" stroke="#000" stroke-width="1.6" stroke-linecap="round"/>
<path d="M802.90,640.83 C804.94,638.10 806.98,639.36 808.00,643.98 C809.19,649.65 810.21,654.90 811.74,657.00 C813.10,658.68 814.80,658.05 815.82,656.16" fill="none" stroke="#000" stroke-width="2.6" stroke-linecap="round" stroke-linejoin="round"/>
<path d="M805.15,633.45 C805.62,629.65 808.32,629.65 810.75,631.85 S815.88,634.05 816.35,630.25" fill="none" stroke="#000" stroke-width="2.3" stroke-linecap="round"/>
<text transform="translate(822.60,637.10) scale(1,1.035)" text-anchor="start" style='font-family:"Liberation Sans", sans-serif;font-size:19.5px;font-style:italic'>2</text>
<line x1="697" y1="684.60" x2="739" y2="684.60" stroke="#ff0000" stroke-width="2.5"/>
<text transform="translate(745.60,691.40) scale(1,1.035)" text-anchor="start" style='font-family:"Liberation Sans", sans-serif;font-size:25.7px;'>2</text>
<rect x="761.4" y="674.10" width="9.2" height="1.7" fill="#444"/>
<rect x="765.15" y="670.50" width="1.7" height="8.9" fill="#444"/>
<text transform="translate(792.30,691.40) scale(1,1.035)" text-anchor="start" style='font-family:"Liberation Sans", sans-serif;font-size:25.7px;'>0.77</text>
<line x1="697" y1="718.90" x2="736.2" y2="718.90" stroke="#0000ff" stroke-width="2.7" stroke-dasharray="2.6 2.64"/>
<text transform="translate(745.60,725.40) scale(1,1.035)" text-anchor="start" style='font-family:"Liberation Sans", sans-serif;font-size:25.7px;'>1</text>
<rect x="761.2" y="707.80" width="9.6" height="1.7" fill="#444"/>
<text transform="translate(792.30,725.40) scale(1,1.035)" text-anchor="start" style='font-family:"Liberation Sans", sans-serif;font-size:25.7px;'>2.2</text>
<line x1="697" y1="753.20" x2="734.4" y2="753.20" stroke="#00ff00" stroke-width="2.5" stroke-dasharray="5.4 5.2"/>
<text transform="translate(745.60,759.40) scale(1,1.035)" text-anchor="start" style='font-family:"Liberation Sans", sans-serif;font-size:25.7px;'>3</text>
<rect x="761.2" y="741.80" width="9.6" height="1.7" fill="#444"/>
<text transform="translate(792.30,759.40) scale(1,1.035)" text-anchor="start" style='font-family:"Liberation Sans", sans-serif;font-size:25.7px;'>1.9</text>
<text transform="translate(747.8,938.90) scale(1.04,1.035)" style='font-family:"Liberation Sans", sans-serif;font-size:31px;font-style:italic' stroke="#000" stroke-width="0.45">J</text>
<text transform="translate(766.00,925.20) scale(1,1.035)" text-anchor="start" style='font-family:"Liberation Serif", serif;font-size:23px;font-style:italic'>π</text>
<path d="M801.71,944.27 C807.15,936.92 811.74,931.46 817.69,924.53" fill="none" stroke="#000" stroke-width="1.6" stroke-linecap="round"/>
<path d="M802.90,926.63 C804.94,923.90 806.98,925.16 808.00,929.78 C809.19,935.45 810.21,940.70 811.74,942.80 C813.10,944.48 814.80,943.85 815.82,941.96" fill="none" stroke="#000" stroke-width="2.6" stroke-linecap="round" stroke-linejoin="round"/>
<path d="M805.15,919.25 C805.62,915.45 808.32,915.45 810.75,917.65 S815.88,919.85 816.35,916.05" fill="none" stroke="#000" stroke-width="2.3" stroke-linecap="round"/>
<text transform="translate(822.60,922.90) scale(1,1.035)" text-anchor="start" style='font-family:"Liberation Sans", sans-serif;font-size:19.5px;font-style:italic'>2</text>
<line x1="697" y1="970.40" x2="739" y2="970.40" stroke="#ff0000" stroke-width="2.5"/>
<text transform="translate(745.60,977.20) scale(1,1.035)" text-anchor="start" style='font-family:"Liberation Sans", sans-serif;font-size:25.7px;'>4</text>
<rect x="761.4" y="959.90" width="9.2" height="1.7" fill="#444"/>
<rect x="765.15" y="956.30" width="1.7" height="8.9" fill="#444"/>
<text transform="translate(792.30,977.20) scale(1,1.035)" text-anchor="start" style='font-family:"Liberation Sans", sans-serif;font-size:25.7px;'>0.43</text>
<line x1="697" y1="1004.70" x2="736.2" y2="1004.70" stroke="#0000ff" stroke-width="2.7" stroke-dasharray="2.6 2.64"/>
<text transform="translate(745.60,1011.20) scale(1,1.035)" text-anchor="start" style='font-family:"Liberation Sans", sans-serif;font-size:25.7px;'>3</text>
<rect x="761.2" y="993.60" width="9.6" height="1.7" fill="#444"/>
<text transform="translate(792.30,1011.20) scale(1,1.035)" text-anchor="start" style='font-family:"Liberation Sans", sans-serif;font-size:25.7px;'>0.84</text>
<line x1="697" y1="1039.00" x2="734.4" y2="1039.00" stroke="#00ff00" stroke-width="2.5" stroke-dasharray="5.4 5.2"/>
<text transform="translate(745.60,1045.20) scale(1,1.035)" text-anchor="start" style='font-family:"Liberation Sans", sans-serif;font-size:25.7px;'>5</text>
<rect x="761.2" y="1027.60" width="9.6" height="1.7" fill="#444"/>
<text transform="translate(792.30,1045.20) scale(1,1.035)" text-anchor="start" style='font-family:"Liberation Sans", sans-serif;font-size:25.7px;'>1.3</text>
</svg></body></html>
